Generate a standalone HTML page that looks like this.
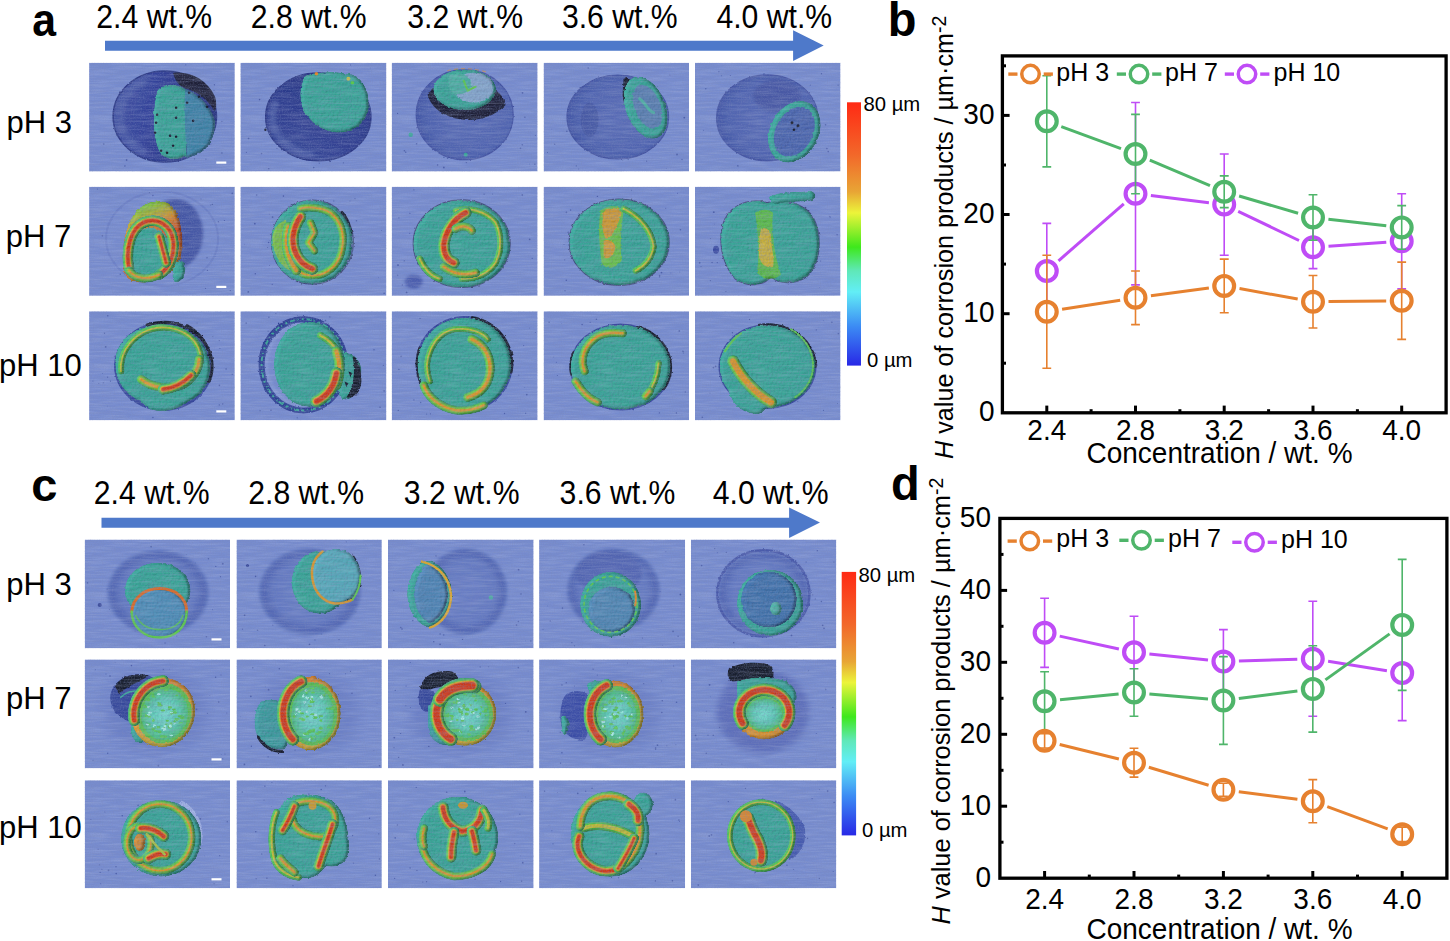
<!DOCTYPE html><html><head><meta charset="utf-8"><style>html,body{margin:0;padding:0;background:#fff;width:1450px;height:941px;overflow:hidden}svg{display:block}</style></head><body>
<svg width="1450" height="941" viewBox="0 0 1450 941" font-family='"Liberation Sans", sans-serif'>
<defs>

<filter id="tex" x="0" y="0" width="100%" height="100%"><feTurbulence type="fractalNoise" baseFrequency="0.05 0.6" numOctaves="2" seed="3"/><feColorMatrix type="matrix" values="0 0 0 0 0.22  0 0 0 0 0.27  0 0 0 0 0.5  0 0 0 1.6 -0.62"/></filter>
<filter id="texl" x="0" y="0" width="100%" height="100%"><feTurbulence type="fractalNoise" baseFrequency="0.04 0.5" numOctaves="2" seed="11"/><feColorMatrix type="matrix" values="0 0 0 0 0.75  0 0 0 0 0.8  0 0 0 0 0.95  0 0 0 1.6 -0.62"/></filter>
<filter id="grain" x="0" y="0" width="100%" height="100%"><feTurbulence type="fractalNoise" baseFrequency="0.9 0.7" numOctaves="1" seed="21"/><feColorMatrix type="matrix" values="0 0 0 0 0.2  0 0 0 0 0.25  0 0 0 0 0.5  0 0 0 2.2 -1.0"/></filter>
<filter id="rough" filterUnits="userSpaceOnUse" x="-5" y="-5" width="160" height="120"><feTurbulence type="fractalNoise" baseFrequency="0.3" numOctaves="2" seed="5" result="t"/><feDisplacementMap in="SourceGraphic" in2="t" scale="2.6" xChannelSelector="R" yChannelSelector="G"/></filter>
<filter id="crs" filterUnits="userSpaceOnUse" x="-5" y="-5" width="160" height="120"><feTurbulence type="fractalNoise" baseFrequency="0.25" numOctaves="2" seed="9" result="t"/><feDisplacementMap in="SourceGraphic" in2="t" scale="2" xChannelSelector="R" yChannelSelector="G" result="d"/><feGaussianBlur in="d" stdDeviation="0.7"/></filter>
<filter id="bump" filterUnits="userSpaceOnUse" x="-5" y="-5" width="160" height="120">
  <feTurbulence type="fractalNoise" baseFrequency="0.45" numOctaves="2" seed="7" result="noise"/>
  <feDiffuseLighting in="noise" lighting-color="#fff" surfaceScale="1.6" diffuseConstant="1" result="light"><feDistantLight azimuth="225" elevation="60"/></feDiffuseLighting>
  <feComposite in="SourceGraphic" in2="light" operator="arithmetic" k1="0.45" k2="0.6" k3="0" k4="0" result="lit"/>
  <feComposite in="lit" in2="SourceAlpha" operator="in"/>
</filter>
<filter id="emb" filterUnits="userSpaceOnUse" x="-5" y="-5" width="160" height="120">
  <feGaussianBlur in="SourceAlpha" stdDeviation="1.5" result="b"/>
  <feDiffuseLighting in="b" surfaceScale="4" diffuseConstant="1.05" lighting-color="#fff" result="l"><feDistantLight azimuth="200" elevation="50"/></feDiffuseLighting>
  <feComposite in="SourceGraphic" in2="l" operator="arithmetic" k1="0.75" k2="0.38" k3="0" k4="0" result="c"/>
  <feComposite in="c" in2="SourceAlpha" operator="in"/>
</filter>
<filter id="soft" filterUnits="userSpaceOnUse" x="-5" y="-5" width="160" height="120"><feGaussianBlur stdDeviation="1.6"/></filter>
<filter id="soft2" filterUnits="userSpaceOnUse" x="-5" y="-5" width="160" height="120"><feGaussianBlur stdDeviation="3"/></filter>
<linearGradient id="gcrA" x1="0" y1="0" x2="1" y2="0.2"><stop offset="0" stop-color="#4a5aa6"/><stop offset="0.4" stop-color="#33429a"/><stop offset="1" stop-color="#25317c"/></linearGradient>
<linearGradient id="gcrA2" x1="0" y1="1" x2="0.6" y2="0"><stop offset="0" stop-color="#3c4c9c"/><stop offset="0.6" stop-color="#2e3d8e"/><stop offset="1" stop-color="#25317e"/></linearGradient>
<radialGradient id="gcrB" cx="0.55" cy="0.5" r="0.6"><stop offset="0" stop-color="#5a6db7"/><stop offset="0.7" stop-color="#5064b0"/><stop offset="0.9" stop-color="#4357a6"/><stop offset="1" stop-color="#384a9a"/></radialGradient>
<radialGradient id="gcrC" cx="0.5" cy="0.5" r="0.5"><stop offset="0" stop-color="#697ec5"/><stop offset="0.7" stop-color="#6479c1"/><stop offset="0.88" stop-color="#5166b3"/><stop offset="0.96" stop-color="#5b71bb"/><stop offset="1" stop-color="#6a82c8" stop-opacity="0"/></radialGradient>
<radialGradient id="gcy" cx="0.5" cy="0.5" r="0.5"><stop offset="0" stop-color="#7adcd0"/><stop offset="0.6" stop-color="#5ccab4"/><stop offset="1" stop-color="#4cbc7c"/></radialGradient>
<radialGradient id="gteal" cx="0.45" cy="0.45" r="0.6"><stop offset="0" stop-color="#44a898"/><stop offset="1" stop-color="#3a9a92"/></radialGradient>
<linearGradient id="gegg" x1="0.3" y1="0" x2="0.6" y2="1"><stop offset="0" stop-color="#5cc840"/><stop offset="0.18" stop-color="#a8b438"/><stop offset="0.32" stop-color="#d88a2c"/><stop offset="0.5" stop-color="#cc4a1e"/><stop offset="0.8" stop-color="#d87a2a"/><stop offset="1" stop-color="#8cc040"/></linearGradient>
<linearGradient id="gring" x1="0" y1="0" x2="1" y2="1"><stop offset="0" stop-color="#d86a28"/><stop offset="0.5" stop-color="#d89a30"/><stop offset="1" stop-color="#b8b838"/></linearGradient>
<radialGradient id="halo" cx="0.5" cy="0.5" r="0.5"><stop offset="0" stop-color="#3d50a6" stop-opacity="0.35"/><stop offset="0.7" stop-color="#3d50a6" stop-opacity="0.18"/><stop offset="1" stop-color="#3d50a6" stop-opacity="0"/></radialGradient>

<linearGradient id="cb" x1="0" y1="0" x2="0" y2="1">
<stop offset="0" stop-color="#ff2a14"/><stop offset="0.2" stop-color="#f2682a"/><stop offset="0.34" stop-color="#e8a535"/>
<stop offset="0.42" stop-color="#ecf43a"/><stop offset="0.55" stop-color="#3ee81c"/><stop offset="0.64" stop-color="#5fe8b8"/>
<stop offset="0.72" stop-color="#62eef6"/><stop offset="0.85" stop-color="#3c8cf4"/><stop offset="1" stop-color="#2828e6"/>
</linearGradient>
</defs>
<rect width="1450" height="941" fill="#fff"/>
<text transform="translate(32.20 35.50) scale(0.91 1)" font-size="47" font-weight="bold">a</text>
<text transform="translate(887.70 35.50) scale(1 1.03)" font-size="47" font-weight="bold">b</text>
<text x="31.3" y="500.5" font-size="47" font-weight="bold">c</text>
<text transform="translate(891.00 500.00) scale(1 1.03)" font-size="47" font-weight="bold">d</text>
<text transform="translate(96.30 27.50) scale(1 1.09)" font-size="30.2" >2.4 wt.%</text>
<text transform="translate(250.80 27.50) scale(1 1.09)" font-size="30.2" >2.8 wt.%</text>
<text transform="translate(407.20 27.50) scale(1 1.09)" font-size="30.2" >3.2 wt.%</text>
<text transform="translate(561.90 27.50) scale(1 1.09)" font-size="30.2" >3.6 wt.%</text>
<text transform="translate(716.40 27.50) scale(1 1.09)" font-size="30.2" >4.0 wt.%</text>
<text transform="translate(93.80 503.60) scale(1 1.09)" font-size="30.2" >2.4 wt.%</text>
<text transform="translate(248.20 503.60) scale(1 1.09)" font-size="30.2" >2.8 wt.%</text>
<text transform="translate(403.70 503.60) scale(1 1.09)" font-size="30.2" >3.2 wt.%</text>
<text transform="translate(559.60 503.60) scale(1 1.09)" font-size="30.2" >3.6 wt.%</text>
<text transform="translate(712.70 503.60) scale(1 1.09)" font-size="30.2" >4.0 wt.%</text>
<text x="6.50" y="132.80" font-size="31" >pH 3</text>
<text x="5.70" y="246.70" font-size="31" >pH 7</text>
<text x="-1.10" y="375.80" font-size="31" >pH 10</text>
<text x="6.20" y="594.70" font-size="31" >pH 3</text>
<text x="5.90" y="708.50" font-size="31" >pH 7</text>
<text x="-1.10" y="837.70" font-size="31" >pH 10</text>
<path d="M105.0 40.7H793.1V30.3L823.7 45.5L793.1 61.0V50.8H105.0Z" fill="#4e79ca"/>
<path d="M101.5 517.8H789.1V507.5L820.0 522.4L789.1 537.9V527.7H101.5Z" fill="#4e79ca"/>
<svg x="89.1" y="62.7" width="145.7" height="108.8" viewBox="0 0 145.7 108.8">
<rect width="145.7" height="108.8" fill="#778ccf"/>
<g fill="#2a3a8a" opacity="0.55"><circle cx="121.7" cy="81.4" r="0.6"/><circle cx="38.7" cy="55.6" r="0.6"/><circle cx="113.1" cy="33.8" r="0.6"/><circle cx="84.7" cy="97.2" r="0.7"/><circle cx="41.9" cy="81.2" r="0.7"/><circle cx="37.5" cy="97.3" r="0.9"/><circle cx="116.8" cy="96.5" r="0.6"/><circle cx="105.4" cy="96.2" r="0.7"/><circle cx="68.9" cy="12.6" r="0.6"/><circle cx="88.6" cy="97.7" r="0.9"/><circle cx="69.6" cy="92.7" r="0.5"/><circle cx="116.1" cy="59.5" r="0.4"/><circle cx="104.0" cy="43.8" r="0.8"/><circle cx="96.7" cy="2.1" r="0.6"/><circle cx="124.9" cy="27.6" r="0.6"/><circle cx="125.3" cy="22.0" r="0.7"/><circle cx="35.8" cy="103.4" r="0.8"/><circle cx="65.5" cy="10.4" r="0.6"/><circle cx="74.0" cy="99.8" r="0.5"/><circle cx="80.1" cy="76.0" r="0.7"/><circle cx="117.4" cy="58.6" r="0.9"/><circle cx="87.5" cy="63.6" r="0.6"/><circle cx="86.5" cy="42.3" r="0.7"/><circle cx="43.1" cy="21.8" r="0.5"/><circle cx="88.8" cy="70.8" r="0.6"/><circle cx="14.7" cy="81.4" r="0.8"/><circle cx="132.8" cy="90.3" r="0.8"/><circle cx="132.8" cy="58.7" r="0.6"/></g>
<g filter="url(#crs)"><ellipse cx="75.7" cy="53.8" rx="51.7" ry="45.6" fill="url(#gcrA)" stroke="#2a3784" stroke-width="1.5"/></g>
<g filter="url(#soft)"><path d="M53.2 88.4 L49.9 86.6 L46.8 84.4 L43.9 82.1 L41.2 79.5 L38.8 76.7 L36.7 73.8 L34.9 70.7 L33.4 67.5 L32.2 64.2 L31.4 60.7 L30.9 57.3 L30.7 53.8 L30.9 50.3 L31.4 46.9 L32.2 43.4 L33.4 40.1 L34.9 36.9 L36.7 33.8 L38.8 30.9 L41.2 28.1 L43.9 25.5 L46.8 23.2 L49.9 21.0 L53.2 19.2" fill="none" stroke="#5060aa" stroke-width="8" stroke-linecap="round" stroke-linejoin="round" opacity="0.7"/></g>
<g filter="url(#crs)"><path d="M84 10 C100 8 118 16 126 34 C128 42 127 48 125 48 C120 38 110 30 98 26 C90 24 86 18 84 10Z" fill="#1c1f30" opacity="0.92"/></g>
<g filter="url(#emb)"><g filter="url(#bump)"><g filter="url(#rough)"><path d="M68 28 C74 20 86 20 96 26 C98 40 96 66 98 94 C88 98 78 97 72 92 C64 80 62 52 68 28Z" fill="#38a696" /><path d="M96 26 C108 30 122 42 126 58 C127 76 118 92 98 95 C96 75 95 50 96 26Z" fill="#3c84a6" /></g></g></g>
<circle cx="87" cy="45" r="1.3" fill="#161a2a"/>
<circle cx="87" cy="55" r="1.3" fill="#161a2a"/>
<circle cx="81" cy="73" r="1.3" fill="#161a2a"/>
<circle cx="87" cy="74" r="1.3" fill="#161a2a"/>
<circle cx="84" cy="83" r="1.3" fill="#161a2a"/>
<circle cx="98" cy="40" r="1.3" fill="#161a2a"/>
<circle cx="104" cy="58" r="1.3" fill="#161a2a"/>
<circle cx="67" cy="60" r="1.3" fill="#161a2a"/>
<circle cx="66" cy="70" r="1.3" fill="#161a2a"/>
<circle cx="68" cy="52" r="1.3" fill="#161a2a"/>
<circle cx="72" cy="88" r="1.3" fill="#161a2a"/>
<circle cx="78" cy="90" r="1.3" fill="#161a2a"/>
<circle cx="92" cy="22" r="1.3" fill="#161a2a"/>
<circle cx="100" cy="30" r="1.3" fill="#161a2a"/>
<circle cx="110" cy="34" r="1.3" fill="#161a2a"/>
<circle cx="118" cy="44" r="1.3" fill="#161a2a"/>
<rect width="145.7" height="108.8" filter="url(#tex)" opacity="0.32"/>
<rect width="145.7" height="108.8" filter="url(#texl)" opacity="0.22"/>
<rect width="145.7" height="108.8" filter="url(#grain)" opacity="0.45"/>
<rect x="127.2" y="98.8" width="10" height="2.2" fill="#fff"/>
</svg>
<svg x="240.4" y="62.7" width="146.0" height="108.8" viewBox="0 0 146.0 108.8">
<rect width="146.0" height="108.8" fill="#778ccf"/>
<g fill="#2a3a8a" opacity="0.55"><circle cx="21.1" cy="90.8" r="0.8"/><circle cx="38.2" cy="53.9" r="0.6"/><circle cx="94.5" cy="84.7" r="0.4"/><circle cx="6.0" cy="89.6" r="0.6"/><circle cx="110.2" cy="2.2" r="0.6"/><circle cx="104.5" cy="26.0" r="0.9"/><circle cx="130.0" cy="5.2" r="0.4"/><circle cx="78.9" cy="100.4" r="0.6"/><circle cx="32.8" cy="46.2" r="0.4"/><circle cx="33.5" cy="47.9" r="0.6"/><circle cx="35.1" cy="26.2" r="0.5"/><circle cx="67.3" cy="32.4" r="0.4"/><circle cx="120.9" cy="60.3" r="0.7"/><circle cx="28.4" cy="106.0" r="0.8"/><circle cx="19.2" cy="36.9" r="0.8"/><circle cx="103.0" cy="100.1" r="0.6"/><circle cx="119.9" cy="72.2" r="0.6"/><circle cx="85.4" cy="94.5" r="0.8"/><circle cx="73.8" cy="63.7" r="0.4"/><circle cx="36.5" cy="85.6" r="0.6"/><circle cx="26.6" cy="59.5" r="0.8"/><circle cx="97.8" cy="41.3" r="0.6"/><circle cx="74.2" cy="83.6" r="0.7"/><circle cx="57.8" cy="53.3" r="0.4"/><circle cx="8.2" cy="75.7" r="0.9"/><circle cx="86.2" cy="43.2" r="0.5"/><circle cx="73.3" cy="104.9" r="0.8"/><circle cx="78.6" cy="92.2" r="0.5"/></g>
<g filter="url(#crs)"><ellipse cx="77.9" cy="54.2" rx="52.6" ry="43.8" fill="url(#gcrA2)" stroke="#2a3784" stroke-width="1.5"/></g>
<g filter="url(#soft)"><path d="M69.9 91.6 L66.6 91.0 L63.4 90.3 L60.3 89.3 L57.3 88.2 L54.3 86.8 L51.5 85.3 L48.8 83.7 L46.3 81.8 L44.0 79.9 L41.8 77.8 L39.8 75.5 L38.1 73.2 L36.5 70.8 L35.2 68.2 L34.0 65.6 L33.1 63.0 L32.5 60.3 L32.1 57.5 L31.9 54.8 L32.0 52.0 L32.3 49.2 L32.9 46.5 L33.6 43.8 L34.7 41.2" fill="none" stroke="#4e5ea8" stroke-width="7" stroke-linecap="round" stroke-linejoin="round" opacity="0.8"/></g>
<g filter="url(#emb)"><g filter="url(#bump)"><g filter="url(#rough)"><path d="M64 13 C80 8 104 8 117 14 C126 22 130 34 128 48 C124 62 112 71 96 70 C82 69 70 60 63 48 C58 36 59 24 64 13Z" fill="#38a696" /></g></g></g>
<circle cx="76" cy="11" r="1.8" fill="#e0862a"/><circle cx="108" cy="16" r="2" fill="#c8be38"/><circle cx="112" cy="20" r="1.8" fill="#5cc84a"/>
<circle cx="25" cy="67" r="1.2" fill="#161a2a"/>
<rect width="146.0" height="108.8" filter="url(#tex)" opacity="0.32"/>
<rect width="146.0" height="108.8" filter="url(#texl)" opacity="0.22"/>
<rect width="146.0" height="108.8" filter="url(#grain)" opacity="0.45"/>
</svg>
<svg x="391.7" y="62.7" width="145.9" height="108.8" viewBox="0 0 145.9 108.8">
<rect width="145.9" height="108.8" fill="#778ccf"/>
<g fill="#2a3a8a" opacity="0.55"><circle cx="137.7" cy="101.3" r="0.4"/><circle cx="14.0" cy="89.6" r="0.8"/><circle cx="97.0" cy="34.3" r="0.7"/><circle cx="88.1" cy="62.9" r="0.5"/><circle cx="63.1" cy="43.2" r="0.8"/><circle cx="143.2" cy="101.5" r="0.7"/><circle cx="65.1" cy="30.1" r="0.4"/><circle cx="5.9" cy="50.7" r="0.6"/><circle cx="55.9" cy="95.5" r="0.7"/><circle cx="81.5" cy="26.7" r="0.4"/><circle cx="48.1" cy="16.3" r="0.7"/><circle cx="143.7" cy="72.7" r="0.5"/><circle cx="128.8" cy="85.5" r="0.8"/><circle cx="130.6" cy="82.0" r="0.8"/><circle cx="52.2" cy="104.8" r="0.9"/><circle cx="24.9" cy="81.0" r="0.8"/><circle cx="67.5" cy="57.6" r="0.6"/><circle cx="133.2" cy="54.5" r="0.8"/><circle cx="52.2" cy="94.5" r="0.8"/><circle cx="67.4" cy="61.5" r="0.9"/><circle cx="104.7" cy="53.0" r="0.5"/><circle cx="48.1" cy="75.3" r="0.5"/><circle cx="130.8" cy="30.1" r="0.9"/><circle cx="45.9" cy="102.3" r="0.8"/><circle cx="73.6" cy="56.3" r="0.7"/><circle cx="85.4" cy="34.7" r="0.5"/><circle cx="74.6" cy="99.9" r="0.7"/><circle cx="12.7" cy="88.0" r="0.8"/></g>
<g filter="url(#crs)"><ellipse cx="73" cy="52" rx="48.5" ry="45" fill="url(#gcrB)" stroke="#4050a0" stroke-width="1.2"/></g>
<g filter="url(#rough)"><path d="M36 32 C42 58 90 68 114 42 C110 30 104 22 72 20 C50 22 38 24 36 32Z" fill="#161a2a" opacity="0.9"/></g>
<g filter="url(#emb)"><g filter="url(#bump)"><g filter="url(#rough)"><ellipse cx="73" cy="27" rx="31.5" ry="20.5" fill="#38a696" /><ellipse cx="82" cy="25" rx="20" ry="15" fill="#86a8cc" /><path d="M58 12 C68 8 78 12 80 22 C78 30 68 34 60 30 C56 24 56 16 58 12Z" fill="#4cb0a0" /></g></g></g>
<path d="M72 18 L76 28 L84 24" fill="none" stroke="#5cc84a" stroke-width="2" stroke-linecap="round" stroke-linejoin="round" />
<path d="M56 8 C66 5 84 5 96 10" fill="none" stroke="#e0862a" stroke-width="1.2" stroke-linecap="round" stroke-linejoin="round" opacity="0.6" stroke-dasharray="3 4"/>
<circle cx="19" cy="72" r="2.2" fill="#38a696"/><circle cx="74" cy="92" r="2" fill="#38a696"/>
<rect width="145.9" height="108.8" filter="url(#tex)" opacity="0.32"/>
<rect width="145.9" height="108.8" filter="url(#texl)" opacity="0.22"/>
<rect width="145.9" height="108.8" filter="url(#grain)" opacity="0.45"/>
</svg>
<svg x="543.6" y="62.7" width="145.4" height="108.8" viewBox="0 0 145.4 108.8">
<rect width="145.4" height="108.8" fill="#778ccf"/>
<g fill="#2a3a8a" opacity="0.55"><circle cx="35.6" cy="59.0" r="0.6"/><circle cx="87.4" cy="67.6" r="0.4"/><circle cx="3.9" cy="89.8" r="0.5"/><circle cx="35.1" cy="106.3" r="0.6"/><circle cx="120.3" cy="51.9" r="0.7"/><circle cx="23.3" cy="68.5" r="0.8"/><circle cx="76.0" cy="79.7" r="0.7"/><circle cx="11.1" cy="81.5" r="0.7"/><circle cx="44.6" cy="5.3" r="0.8"/><circle cx="68.8" cy="77.3" r="0.8"/><circle cx="103.0" cy="98.5" r="0.6"/><circle cx="115.2" cy="48.6" r="0.9"/><circle cx="126.3" cy="12.2" r="0.5"/><circle cx="32.7" cy="103.2" r="0.6"/><circle cx="90.6" cy="33.5" r="0.7"/><circle cx="56.6" cy="38.8" r="0.7"/><circle cx="84.6" cy="96.8" r="0.7"/><circle cx="133.4" cy="91.8" r="0.9"/><circle cx="96.9" cy="19.1" r="0.8"/><circle cx="138.4" cy="96.8" r="0.7"/><circle cx="102.9" cy="24.1" r="0.8"/><circle cx="83.1" cy="31.9" r="0.4"/><circle cx="122.7" cy="105.7" r="0.4"/><circle cx="115.2" cy="45.0" r="0.5"/><circle cx="43.6" cy="82.6" r="0.8"/><circle cx="8.2" cy="66.4" r="0.4"/><circle cx="103.6" cy="36.7" r="0.8"/><circle cx="140.7" cy="55.0" r="0.9"/></g>
<g filter="url(#crs)"><ellipse cx="74.2" cy="54.3" rx="50.8" ry="42" fill="url(#gcrB)" stroke="#3f4f9e" stroke-width="1.2"/></g>
<ellipse cx="46" cy="57" rx="9" ry="17" fill="#45559f" opacity="0.7"/>
<g filter="url(#rough)"><path d="M80 16 C84 14 88 16 88 22 C86 34 88 48 92 58 C86 56 80 44 79 32Z" fill="#161a2a" /></g>
<g filter="url(#emb)"><g filter="url(#bump)"><g filter="url(#rough)"><ellipse cx="102" cy="45" rx="20" ry="32.5" transform="rotate(-22 102 45)" fill="#38a696"/><ellipse cx="104" cy="44" rx="13" ry="23" transform="rotate(-22 104 44)" fill="#5a80b0"/></g></g></g>
<path d="M96 36 C102 40 104 48 110 50" fill="none" stroke="#4cb0a0" stroke-width="3" stroke-linecap="round" stroke-linejoin="round" />
<rect width="145.4" height="108.8" filter="url(#tex)" opacity="0.32"/>
<rect width="145.4" height="108.8" filter="url(#texl)" opacity="0.22"/>
<rect width="145.4" height="108.8" filter="url(#grain)" opacity="0.45"/>
</svg>
<svg x="695.0" y="62.7" width="145.5" height="108.8" viewBox="0 0 145.5 108.8">
<rect width="145.5" height="108.8" fill="#778ccf"/>
<g fill="#2a3a8a" opacity="0.55"><circle cx="35.4" cy="12.8" r="0.6"/><circle cx="23.9" cy="9.0" r="0.6"/><circle cx="131.9" cy="85.9" r="0.8"/><circle cx="33.4" cy="58.2" r="0.5"/><circle cx="26.4" cy="13.1" r="0.5"/><circle cx="133.2" cy="88.9" r="0.8"/><circle cx="115.3" cy="22.3" r="0.6"/><circle cx="90.7" cy="78.7" r="0.8"/><circle cx="126.5" cy="11.1" r="0.7"/><circle cx="97.0" cy="55.0" r="0.5"/><circle cx="69.0" cy="11.4" r="0.9"/><circle cx="124.5" cy="59.4" r="0.6"/><circle cx="130.6" cy="62.0" r="0.8"/><circle cx="122.0" cy="55.3" r="0.6"/><circle cx="86.7" cy="47.2" r="0.5"/><circle cx="45.2" cy="87.2" r="0.4"/><circle cx="8.6" cy="67.6" r="0.5"/><circle cx="77.6" cy="51.4" r="0.6"/><circle cx="143.1" cy="22.5" r="0.6"/><circle cx="30.7" cy="68.3" r="0.5"/><circle cx="52.4" cy="80.3" r="0.6"/><circle cx="81.0" cy="96.8" r="0.5"/><circle cx="10.7" cy="26.0" r="0.8"/><circle cx="89.1" cy="26.9" r="0.6"/><circle cx="27.1" cy="50.1" r="0.4"/><circle cx="100.7" cy="95.9" r="0.9"/><circle cx="106.0" cy="102.6" r="0.4"/><circle cx="42.9" cy="103.2" r="0.8"/></g>
<g filter="url(#crs)"><ellipse cx="72.2" cy="55.2" rx="50.6" ry="43" fill="url(#gcrB)" stroke="#4454a2" stroke-width="1.2"/></g>
<g filter="url(#soft)"><ellipse cx="82" cy="33" rx="24" ry="16" fill="#4454a0" opacity="0.8"/></g>
<g filter="url(#emb)"><g filter="url(#bump)"><g filter="url(#rough)"><ellipse cx="99.3" cy="69" rx="21.5" ry="29.5" transform="rotate(28 99.3 69)" fill="#4c66ae" stroke="#38a696" stroke-width="6"/></g></g></g>
<circle cx="97" cy="60" r="1.5" fill="#161a2a"/><circle cx="103" cy="63" r="1.5" fill="#161a2a"/><circle cx="99" cy="67" r="1.3" fill="#161a2a"/>
<rect width="145.5" height="108.8" filter="url(#tex)" opacity="0.32"/>
<rect width="145.5" height="108.8" filter="url(#texl)" opacity="0.22"/>
<rect width="145.5" height="108.8" filter="url(#grain)" opacity="0.45"/>
</svg>
<svg x="89.1" y="186.7" width="145.7" height="109.1" viewBox="0 0 145.7 109.1">
<rect width="145.7" height="109.1" fill="#778ccf"/>
<g fill="#2a3a8a" opacity="0.55"><circle cx="83.0" cy="47.1" r="0.7"/><circle cx="31.2" cy="87.5" r="0.8"/><circle cx="94.6" cy="18.8" r="0.7"/><circle cx="48.4" cy="28.3" r="0.9"/><circle cx="143.2" cy="6.7" r="0.8"/><circle cx="87.5" cy="42.1" r="0.5"/><circle cx="97.6" cy="50.0" r="0.7"/><circle cx="95.8" cy="16.0" r="0.8"/><circle cx="141.2" cy="103.9" r="0.7"/><circle cx="8.3" cy="2.4" r="0.5"/><circle cx="135.3" cy="33.8" r="0.6"/><circle cx="129.3" cy="35.0" r="0.7"/><circle cx="63.8" cy="8.8" r="0.7"/><circle cx="121.6" cy="18.4" r="0.5"/><circle cx="60.5" cy="5.9" r="0.6"/><circle cx="117.9" cy="71.1" r="0.7"/><circle cx="123.2" cy="17.7" r="0.7"/><circle cx="55.0" cy="65.2" r="0.5"/><circle cx="111.9" cy="12.2" r="0.5"/><circle cx="116.4" cy="101.6" r="0.6"/><circle cx="60.7" cy="27.8" r="0.5"/><circle cx="89.5" cy="20.8" r="0.5"/><circle cx="66.6" cy="19.3" r="0.7"/><circle cx="118.3" cy="83.7" r="0.6"/><circle cx="51.3" cy="47.7" r="0.4"/><circle cx="103.0" cy="36.9" r="0.6"/><circle cx="13.3" cy="49.1" r="0.7"/><circle cx="57.3" cy="93.4" r="0.7"/></g>
<g filter="url(#crs)"><ellipse cx="73" cy="52" rx="56" ry="47" fill="none" stroke="#5468b4" stroke-width="2" opacity="0.3"/></g>
<g filter="url(#soft)"><ellipse cx="86" cy="47" rx="28" ry="35" fill="#3f50a0" opacity="0.9"/></g>
<g filter="url(#emb)"><g filter="url(#bump)"><g filter="url(#rough)"><path d="M34 82 C32 60 36 38 46 26 C54 16 66 13 76 15 C86 18 91 30 93 46 C95 62 92 76 84 84 C76 92 64 96 52 96 C40 95 35 90 34 82Z" fill="url(#gegg)" /><ellipse cx="60" cy="66" rx="21" ry="25" fill="#38a696" transform="rotate(8 60 66)"/><path d="M34 75 C36 88 46 96 58 96 C48 92 40 86 34 75Z" fill="#5cc84a" /></g></g></g>
<g filter="url(#emb)"><g filter="url(#bump)"><path d="M40 82 C36 62 42 42 54 36 C68 30 82 38 84 54 C86 68 80 82 70 88" fill="none" stroke="#48b47c" stroke-width="11.3" stroke-linecap="round" stroke-linejoin="round"/><path d="M40 82 C36 62 42 42 54 36 C68 30 82 38 84 54 C86 68 80 82 70 88" fill="none" stroke="#5cc64c" stroke-width="8.8" stroke-linecap="round" stroke-linejoin="round"/><path d="M40 82 C36 62 42 42 54 36 C68 30 82 38 84 54 C86 68 80 82 70 88" fill="none" stroke="#c0b038" stroke-width="6.2" stroke-linecap="round" stroke-linejoin="round"/><path d="M40 82 C36 62 42 42 54 36 C68 30 82 38 84 54 C86 68 80 82 70 88" fill="none" stroke="#e07a2a" stroke-width="4.6" stroke-linecap="round" stroke-linejoin="round"/><path d="M40 82 C36 62 42 42 54 36 C68 30 82 38 84 54 C86 68 80 82 70 88" fill="none" stroke="#d03a1c" stroke-width="3" stroke-linecap="round" stroke-linejoin="round"/></g></g>
<g filter="url(#emb)"><g filter="url(#bump)"><path d="M40 84 C46 92 58 94 70 88" fill="none" stroke="#48b47c" stroke-width="8.9" stroke-linecap="round" stroke-linejoin="round"/><path d="M40 84 C46 92 58 94 70 88" fill="none" stroke="#5cc64c" stroke-width="6.8" stroke-linecap="round" stroke-linejoin="round"/><path d="M40 84 C46 92 58 94 70 88" fill="none" stroke="#80c040" stroke-width="4.8" stroke-linecap="round" stroke-linejoin="round"/><path d="M40 84 C46 92 58 94 70 88" fill="none" stroke="#dc962c" stroke-width="2.2" stroke-linecap="round" stroke-linejoin="round"/></g></g>
<g filter="url(#emb)"><g filter="url(#bump)"><path d="M70 50 L77 76" fill="none" stroke="#48b47c" stroke-width="10.5" stroke-linecap="round" stroke-linejoin="round"/><path d="M70 50 L77 76" fill="none" stroke="#5cc64c" stroke-width="8" stroke-linecap="round" stroke-linejoin="round"/><path d="M70 50 L77 76" fill="none" stroke="#c0b038" stroke-width="5.4" stroke-linecap="round" stroke-linejoin="round"/><path d="M70 50 L77 76" fill="none" stroke="#e07a2a" stroke-width="3.8" stroke-linecap="round" stroke-linejoin="round"/><path d="M70 50 L77 76" fill="none" stroke="#d03a1c" stroke-width="2.2" stroke-linecap="round" stroke-linejoin="round"/></g></g>
<g filter="url(#emb)"><g filter="url(#bump)"><g filter="url(#rough)"><path d="M88 74 C94 72 98 78 96 86 C94 94 88 98 84 94 C82 88 84 78 88 74Z" fill="#38a696" /></g></g></g>
<rect width="145.7" height="109.1" filter="url(#tex)" opacity="0.32"/>
<rect width="145.7" height="109.1" filter="url(#texl)" opacity="0.22"/>
<rect width="145.7" height="109.1" filter="url(#grain)" opacity="0.45"/>
<rect x="127.2" y="99.1" width="10" height="2.2" fill="#fff"/>
</svg>
<svg x="240.4" y="186.7" width="146.0" height="109.1" viewBox="0 0 146.0 109.1">
<rect width="146.0" height="109.1" fill="#778ccf"/>
<g fill="#2a3a8a" opacity="0.55"><circle cx="66.2" cy="60.8" r="0.9"/><circle cx="68.1" cy="55.4" r="0.7"/><circle cx="28.2" cy="55.8" r="0.7"/><circle cx="114.6" cy="11.9" r="0.6"/><circle cx="14.9" cy="87.1" r="0.7"/><circle cx="7.9" cy="105.2" r="0.9"/><circle cx="94.9" cy="66.7" r="0.5"/><circle cx="4.1" cy="57.5" r="0.4"/><circle cx="29.0" cy="27.4" r="0.4"/><circle cx="67.9" cy="48.3" r="0.8"/><circle cx="75.7" cy="69.3" r="0.6"/><circle cx="96.1" cy="50.1" r="0.5"/><circle cx="143.7" cy="106.6" r="0.8"/><circle cx="102.5" cy="35.1" r="0.5"/><circle cx="43.0" cy="9.4" r="0.8"/><circle cx="58.9" cy="91.0" r="0.6"/><circle cx="138.0" cy="91.1" r="0.4"/><circle cx="31.8" cy="97.7" r="0.6"/><circle cx="141.2" cy="43.8" r="0.4"/><circle cx="91.4" cy="83.8" r="0.5"/><circle cx="14.4" cy="37.0" r="0.9"/><circle cx="109.6" cy="14.4" r="0.5"/><circle cx="16.3" cy="8.3" r="0.8"/><circle cx="27.2" cy="60.8" r="0.6"/><circle cx="29.1" cy="78.9" r="0.5"/><circle cx="93.4" cy="14.2" r="0.6"/><circle cx="32.2" cy="30.4" r="0.9"/><circle cx="116.1" cy="34.0" r="0.8"/></g>
<g filter="url(#rough)"><ellipse cx="72" cy="55.4" rx="41" ry="42" fill="none" stroke="#1a2040" stroke-width="1.2" opacity="0.6"/></g>
<g filter="url(#emb)"><g filter="url(#bump)"><g filter="url(#rough)"><ellipse cx="71.5" cy="55.4" rx="41" ry="42" fill="#38a696" /><path d="M32 50 C34 40 40 34 46 34 C44 50 44 66 50 84 C40 80 32 66 32 50Z" fill="#7cc048" /></g></g></g>
<g filter="url(#emb)"><g filter="url(#bump)"><path d="M60 22 C66 20 80 20 90 26 C100 34 104 46 102 60 C100 74 92 84 80 88 C70 90 62 88 58 84" fill="none" stroke="#48b47c" stroke-width="8.5" stroke-linecap="round" stroke-linejoin="round"/><path d="M60 22 C66 20 80 20 90 26 C100 34 104 46 102 60 C100 74 92 84 80 88 C70 90 62 88 58 84" fill="none" stroke="#5cc64c" stroke-width="6.4" stroke-linecap="round" stroke-linejoin="round"/><path d="M60 22 C66 20 80 20 90 26 C100 34 104 46 102 60 C100 74 92 84 80 88 C70 90 62 88 58 84" fill="none" stroke="#80c040" stroke-width="4.4" stroke-linecap="round" stroke-linejoin="round"/><path d="M60 22 C66 20 80 20 90 26 C100 34 104 46 102 60 C100 74 92 84 80 88 C70 90 62 88 58 84" fill="none" stroke="#dc962c" stroke-width="1.8" stroke-linecap="round" stroke-linejoin="round"/></g></g>
<g filter="url(#emb)"><g filter="url(#bump)"><path d="M48 40 C44 55 46 70 56 84" fill="none" stroke="#48b47c" stroke-width="10.2" stroke-linecap="round" stroke-linejoin="round"/><path d="M48 40 C44 55 46 70 56 84" fill="none" stroke="#5cc64c" stroke-width="8.1" stroke-linecap="round" stroke-linejoin="round"/><path d="M48 40 C44 55 46 70 56 84" fill="none" stroke="#80c040" stroke-width="6.1" stroke-linecap="round" stroke-linejoin="round"/><path d="M48 40 C44 55 46 70 56 84" fill="none" stroke="#dc962c" stroke-width="3.5" stroke-linecap="round" stroke-linejoin="round"/></g></g>
<g filter="url(#emb)"><g filter="url(#bump)"><path d="M60 30 C52 42 50 56 56 68 C60 76 66 80 72 82" fill="none" stroke="#48b47c" stroke-width="12.5" stroke-linecap="round" stroke-linejoin="round"/><path d="M60 30 C52 42 50 56 56 68 C60 76 66 80 72 82" fill="none" stroke="#5cc64c" stroke-width="10" stroke-linecap="round" stroke-linejoin="round"/><path d="M60 30 C52 42 50 56 56 68 C60 76 66 80 72 82" fill="none" stroke="#c0b038" stroke-width="7.4" stroke-linecap="round" stroke-linejoin="round"/><path d="M60 30 C52 42 50 56 56 68 C60 76 66 80 72 82" fill="none" stroke="#e07a2a" stroke-width="5.8" stroke-linecap="round" stroke-linejoin="round"/><path d="M60 30 C52 42 50 56 56 68 C60 76 66 80 72 82" fill="none" stroke="#d03a1c" stroke-width="4.2" stroke-linecap="round" stroke-linejoin="round"/></g></g>
<g filter="url(#emb)"><g filter="url(#bump)"><path d="M70 36 L74 46 L68 56 L74 64" fill="none" stroke="#48b47c" stroke-width="8.5" stroke-linecap="round" stroke-linejoin="round"/><path d="M70 36 L74 46 L68 56 L74 64" fill="none" stroke="#5cc64c" stroke-width="6.4" stroke-linecap="round" stroke-linejoin="round"/><path d="M70 36 L74 46 L68 56 L74 64" fill="none" stroke="#80c040" stroke-width="4.4" stroke-linecap="round" stroke-linejoin="round"/><path d="M70 36 L74 46 L68 56 L74 64" fill="none" stroke="#dc962c" stroke-width="1.8" stroke-linecap="round" stroke-linejoin="round"/></g></g>
<g filter="url(#rough)"><path d="M102 24 C108 30 112 40 112 50 C110 40 106 32 100 26Z" fill="#161a2a" /></g>
<rect width="146.0" height="109.1" filter="url(#tex)" opacity="0.32"/>
<rect width="146.0" height="109.1" filter="url(#texl)" opacity="0.22"/>
<rect width="146.0" height="109.1" filter="url(#grain)" opacity="0.45"/>
</svg>
<svg x="391.7" y="186.7" width="145.9" height="109.1" viewBox="0 0 145.9 109.1">
<rect width="145.9" height="109.1" fill="#778ccf"/>
<g fill="#2a3a8a" opacity="0.55"><circle cx="69.3" cy="71.1" r="0.7"/><circle cx="22.2" cy="3.1" r="0.6"/><circle cx="40.9" cy="87.2" r="0.7"/><circle cx="87.3" cy="60.7" r="0.7"/><circle cx="22.6" cy="48.2" r="0.5"/><circle cx="130.6" cy="8.2" r="0.8"/><circle cx="12.6" cy="74.2" r="0.6"/><circle cx="59.4" cy="90.5" r="0.4"/><circle cx="10.6" cy="98.2" r="0.7"/><circle cx="14.9" cy="105.7" r="0.9"/><circle cx="18.0" cy="46.5" r="0.5"/><circle cx="46.3" cy="67.3" r="0.5"/><circle cx="100.9" cy="7.4" r="0.5"/><circle cx="117.7" cy="44.1" r="0.6"/><circle cx="86.6" cy="52.1" r="0.6"/><circle cx="6.3" cy="78.3" r="0.9"/><circle cx="140.5" cy="71.7" r="0.6"/><circle cx="53.5" cy="74.5" r="0.7"/><circle cx="18.2" cy="26.7" r="0.6"/><circle cx="74.6" cy="87.1" r="0.7"/><circle cx="6.0" cy="88.5" r="0.6"/><circle cx="75.6" cy="25.3" r="0.6"/><circle cx="57.1" cy="83.1" r="0.5"/><circle cx="80.0" cy="20.7" r="0.7"/><circle cx="7.2" cy="31.1" r="0.6"/><circle cx="92.4" cy="7.5" r="0.6"/><circle cx="31.6" cy="31.6" r="0.6"/><circle cx="138.0" cy="52.6" r="0.9"/></g>
<g filter="url(#rough)"><ellipse cx="70" cy="57" rx="48.5" ry="43.8" fill="none" stroke="#1a2040" stroke-width="1.2" opacity="0.6"/></g>
<g filter="url(#emb)"><g filter="url(#bump)"><g filter="url(#rough)"><ellipse cx="70" cy="57" rx="48.5" ry="43.8" fill="#38a696" /></g></g></g>
<g filter="url(#emb)"><g filter="url(#bump)"><path d="M64 24 C76 20 94 24 104 36 C110 48 110 64 104 76 C96 88 84 92 70 92" fill="none" stroke="#48b47c" stroke-width="7.1" stroke-linecap="round" stroke-linejoin="round"/><path d="M64 24 C76 20 94 24 104 36 C110 48 110 64 104 76 C96 88 84 92 70 92" fill="none" stroke="#5cc64c" stroke-width="5.4" stroke-linecap="round" stroke-linejoin="round"/><path d="M64 24 C76 20 94 24 104 36 C110 48 110 64 104 76 C96 88 84 92 70 92" fill="none" stroke="#50c450" stroke-width="4.2" stroke-linecap="round" stroke-linejoin="round"/><path d="M64 24 C76 20 94 24 104 36 C110 48 110 64 104 76 C96 88 84 92 70 92" fill="none" stroke="#c0bc38" stroke-width="2" stroke-linecap="round" stroke-linejoin="round"/></g></g>
<g filter="url(#emb)"><g filter="url(#bump)"><path d="M74 26 C62 32 54 44 52 58 C52 68 56 74 62 76" fill="none" stroke="#48b47c" stroke-width="12.5" stroke-linecap="round" stroke-linejoin="round"/><path d="M74 26 C62 32 54 44 52 58 C52 68 56 74 62 76" fill="none" stroke="#5cc64c" stroke-width="10" stroke-linecap="round" stroke-linejoin="round"/><path d="M74 26 C62 32 54 44 52 58 C52 68 56 74 62 76" fill="none" stroke="#c0b038" stroke-width="7.4" stroke-linecap="round" stroke-linejoin="round"/><path d="M74 26 C62 32 54 44 52 58 C52 68 56 74 62 76" fill="none" stroke="#e07a2a" stroke-width="5.8" stroke-linecap="round" stroke-linejoin="round"/><path d="M74 26 C62 32 54 44 52 58 C52 68 56 74 62 76" fill="none" stroke="#d03a1c" stroke-width="4.2" stroke-linecap="round" stroke-linejoin="round"/></g></g>
<g filter="url(#emb)"><g filter="url(#bump)"><path d="M64 42 C70 38 78 40 80 44" fill="none" stroke="#48b47c" stroke-width="9.2" stroke-linecap="round" stroke-linejoin="round"/><path d="M64 42 C70 38 78 40 80 44" fill="none" stroke="#5cc64c" stroke-width="7.1" stroke-linecap="round" stroke-linejoin="round"/><path d="M64 42 C70 38 78 40 80 44" fill="none" stroke="#80c040" stroke-width="5.1" stroke-linecap="round" stroke-linejoin="round"/><path d="M64 42 C70 38 78 40 80 44" fill="none" stroke="#dc962c" stroke-width="2.5" stroke-linecap="round" stroke-linejoin="round"/></g></g>
<g filter="url(#emb)"><g filter="url(#bump)"><path d="M52 80 C60 86 70 90 84 86" fill="none" stroke="#48b47c" stroke-width="9.2" stroke-linecap="round" stroke-linejoin="round"/><path d="M52 80 C60 86 70 90 84 86" fill="none" stroke="#5cc64c" stroke-width="7.1" stroke-linecap="round" stroke-linejoin="round"/><path d="M52 80 C60 86 70 90 84 86" fill="none" stroke="#80c040" stroke-width="5.1" stroke-linecap="round" stroke-linejoin="round"/><path d="M52 80 C60 86 70 90 84 86" fill="none" stroke="#dc962c" stroke-width="2.5" stroke-linecap="round" stroke-linejoin="round"/></g></g>
<g filter="url(#emb)"><g filter="url(#bump)"><path d="M28 72 C32 82 40 90 48 92" fill="none" stroke="#48b47c" stroke-width="7.3" stroke-linecap="round" stroke-linejoin="round"/><path d="M28 72 C32 82 40 90 48 92" fill="none" stroke="#5cc64c" stroke-width="5.6" stroke-linecap="round" stroke-linejoin="round"/><path d="M28 72 C32 82 40 90 48 92" fill="none" stroke="#50c450" stroke-width="4.4" stroke-linecap="round" stroke-linejoin="round"/><path d="M28 72 C32 82 40 90 48 92" fill="none" stroke="#c0bc38" stroke-width="2.2" stroke-linecap="round" stroke-linejoin="round"/></g></g>
<g filter="url(#soft)"><ellipse cx="22" cy="95" rx="9" ry="7" fill="#3848a0" opacity="0.7"/></g>
<rect width="145.9" height="109.1" filter="url(#tex)" opacity="0.32"/>
<rect width="145.9" height="109.1" filter="url(#texl)" opacity="0.22"/>
<rect width="145.9" height="109.1" filter="url(#grain)" opacity="0.45"/>
</svg>
<svg x="543.6" y="186.7" width="145.4" height="109.1" viewBox="0 0 145.4 109.1">
<rect width="145.4" height="109.1" fill="#778ccf"/>
<g fill="#2a3a8a" opacity="0.55"><circle cx="38.6" cy="74.0" r="0.7"/><circle cx="122.1" cy="21.5" r="0.5"/><circle cx="22.8" cy="25.7" r="0.8"/><circle cx="20.4" cy="57.8" r="0.5"/><circle cx="43.7" cy="47.4" r="0.8"/><circle cx="88.0" cy="3.5" r="0.5"/><circle cx="22.7" cy="93.6" r="0.8"/><circle cx="116.0" cy="88.9" r="0.8"/><circle cx="136.2" cy="85.4" r="0.5"/><circle cx="122.2" cy="53.2" r="0.8"/><circle cx="81.8" cy="47.1" r="0.6"/><circle cx="62.8" cy="35.0" r="0.5"/><circle cx="117.9" cy="85.9" r="0.9"/><circle cx="99.7" cy="60.2" r="0.8"/><circle cx="21.1" cy="73.1" r="0.6"/><circle cx="27.0" cy="23.3" r="0.7"/><circle cx="37.8" cy="50.3" r="0.7"/><circle cx="58.0" cy="15.7" r="0.6"/><circle cx="35.3" cy="26.8" r="0.5"/><circle cx="53.8" cy="9.7" r="0.7"/><circle cx="136.8" cy="43.0" r="0.8"/><circle cx="133.9" cy="6.5" r="0.5"/><circle cx="116.0" cy="90.1" r="0.7"/><circle cx="24.6" cy="45.5" r="0.8"/><circle cx="127.3" cy="86.4" r="0.5"/><circle cx="122.7" cy="41.4" r="0.8"/><circle cx="21.4" cy="104.1" r="0.7"/><circle cx="104.2" cy="24.3" r="0.7"/></g>
<g filter="url(#rough)"><ellipse cx="75.6" cy="55.5" rx="50" ry="43.2" fill="none" stroke="#1a2040" stroke-width="1.2" opacity="0.6"/></g>
<g filter="url(#emb)"><g filter="url(#bump)"><g filter="url(#rough)"><ellipse cx="75.6" cy="55.5" rx="50" ry="43.2" fill="#38a696" /><path d="M57 24 C64 18 76 18 80 24 C78 40 76 56 78 74 C72 82 62 84 58 76 C56 60 54 40 57 24Z" fill="#68c048" /><path d="M60 24 C66 20 74 20 78 26 C74 40 68 52 62 52 C58 44 58 32 60 24Z" fill="#d09a32" /><path d="M60 54 C64 52 70 54 72 60 C70 70 64 74 60 70Z" fill="#d09a32" /></g></g></g>
<g filter="url(#emb)"><g filter="url(#bump)"><path d="M80 22 C96 30 108 44 110 60 C108 72 100 80 92 84" fill="none" stroke="#48b47c" stroke-width="7.1" stroke-linecap="round" stroke-linejoin="round"/><path d="M80 22 C96 30 108 44 110 60 C108 72 100 80 92 84" fill="none" stroke="#5cc64c" stroke-width="5.4" stroke-linecap="round" stroke-linejoin="round"/><path d="M80 22 C96 30 108 44 110 60 C108 72 100 80 92 84" fill="none" stroke="#50c450" stroke-width="4.2" stroke-linecap="round" stroke-linejoin="round"/><path d="M80 22 C96 30 108 44 110 60 C108 72 100 80 92 84" fill="none" stroke="#c0bc38" stroke-width="2" stroke-linecap="round" stroke-linejoin="round"/></g></g>
<rect width="145.4" height="109.1" filter="url(#tex)" opacity="0.32"/>
<rect width="145.4" height="109.1" filter="url(#texl)" opacity="0.22"/>
<rect width="145.4" height="109.1" filter="url(#grain)" opacity="0.45"/>
</svg>
<svg x="695.0" y="186.7" width="145.5" height="109.1" viewBox="0 0 145.5 109.1">
<rect width="145.5" height="109.1" fill="#778ccf"/>
<g fill="#2a3a8a" opacity="0.55"><circle cx="17.1" cy="75.8" r="0.7"/><circle cx="135.1" cy="30.5" r="0.5"/><circle cx="105.9" cy="71.2" r="0.6"/><circle cx="98.8" cy="43.7" r="0.8"/><circle cx="18.8" cy="25.5" r="0.9"/><circle cx="52.7" cy="29.4" r="0.8"/><circle cx="91.4" cy="17.7" r="0.7"/><circle cx="96.0" cy="19.3" r="0.7"/><circle cx="19.4" cy="37.4" r="0.4"/><circle cx="30.9" cy="104.8" r="0.6"/><circle cx="142.1" cy="48.1" r="0.7"/><circle cx="125.5" cy="74.2" r="0.5"/><circle cx="85.4" cy="68.6" r="0.5"/><circle cx="15.4" cy="93.9" r="0.7"/><circle cx="29.4" cy="49.6" r="0.5"/><circle cx="115.0" cy="54.6" r="0.5"/><circle cx="117.8" cy="11.4" r="0.5"/><circle cx="6.0" cy="79.8" r="0.5"/><circle cx="76.4" cy="11.8" r="0.6"/><circle cx="99.0" cy="58.2" r="0.6"/><circle cx="70.6" cy="47.9" r="0.7"/><circle cx="15.4" cy="51.9" r="0.5"/><circle cx="124.5" cy="100.7" r="0.4"/><circle cx="22.3" cy="75.9" r="0.7"/><circle cx="4.7" cy="76.1" r="0.9"/><circle cx="61.9" cy="38.5" r="0.7"/><circle cx="134.9" cy="29.7" r="0.6"/><circle cx="28.7" cy="68.0" r="0.6"/></g>
<g filter="url(#rough)"><path d="M72 16 C60 12 40 14 30 32 C22 50 26 76 40 92 C54 102 70 98 76 90 C84 98 100 98 112 90 C126 76 128 50 118 30 C108 16 90 12 72 16Z" fill="none" stroke="#1a2040" stroke-width="1.2" opacity="0.6"/></g>
<g filter="url(#emb)"><g filter="url(#bump)"><g filter="url(#rough)"><path d="M72 16 C60 12 40 14 30 32 C22 50 26 76 40 92 C54 102 70 98 76 90 C84 98 100 98 112 90 C126 76 128 50 118 30 C108 16 90 12 72 16Z" fill="#38a696" /><path d="M60 26 C66 22 74 22 78 26 C76 48 80 70 86 88 C78 94 70 94 62 86 C64 70 64 48 60 26Z" fill="#5cbc4a" /><path d="M66 42 C70 40 74 42 76 48 C76 60 80 72 78 80 C72 82 66 78 64 70 C64 60 64 50 66 42Z" fill="#c8b03a" /></g></g></g>
<g filter="url(#emb)"><g filter="url(#bump)"><g filter="url(#rough)"><path d="M74 10 C84 4 100 6 116 4 C122 6 122 12 116 14 C104 16 92 14 80 18 C76 16 74 14 74 10Z" fill="#38a696" /></g></g></g>
<ellipse cx="21" cy="63" rx="3" ry="4" fill="#3848a0" />
<rect width="145.5" height="109.1" filter="url(#tex)" opacity="0.32"/>
<rect width="145.5" height="109.1" filter="url(#texl)" opacity="0.22"/>
<rect width="145.5" height="109.1" filter="url(#grain)" opacity="0.45"/>
</svg>
<svg x="89.1" y="311.3" width="145.7" height="109.0" viewBox="0 0 145.7 109.0">
<rect width="145.7" height="109.0" fill="#778ccf"/>
<g fill="#2a3a8a" opacity="0.55"><circle cx="130.3" cy="74.1" r="0.8"/><circle cx="130.2" cy="29.3" r="0.7"/><circle cx="130.2" cy="93.6" r="0.7"/><circle cx="26.0" cy="45.2" r="0.9"/><circle cx="16.6" cy="35.5" r="0.9"/><circle cx="65.7" cy="23.9" r="0.6"/><circle cx="130.8" cy="37.2" r="0.6"/><circle cx="90.9" cy="86.6" r="0.6"/><circle cx="13.5" cy="62.2" r="0.4"/><circle cx="15.4" cy="22.0" r="0.7"/><circle cx="42.2" cy="74.5" r="0.5"/><circle cx="18.7" cy="4.5" r="0.8"/><circle cx="123.7" cy="25.1" r="0.5"/><circle cx="3.8" cy="69.7" r="0.6"/><circle cx="21.4" cy="69.9" r="0.7"/><circle cx="65.4" cy="18.1" r="0.7"/><circle cx="80.7" cy="47.5" r="0.5"/><circle cx="133.6" cy="92.6" r="0.7"/><circle cx="143.1" cy="62.9" r="0.6"/><circle cx="18.5" cy="65.8" r="0.7"/><circle cx="63.8" cy="106.2" r="0.8"/><circle cx="18.3" cy="94.8" r="0.4"/><circle cx="94.3" cy="35.1" r="0.8"/><circle cx="137.0" cy="57.7" r="0.8"/><circle cx="9.7" cy="72.1" r="0.5"/><circle cx="66.5" cy="37.0" r="0.4"/><circle cx="107.9" cy="11.8" r="0.5"/><circle cx="14.2" cy="71.5" r="0.6"/></g>
<g filter="url(#crs)"><ellipse cx="74.5" cy="55" rx="49.5" ry="44.5" fill="#34449a" /></g>
<g filter="url(#rough)"><path d="M57.9 13.7 L62.3 12.4 L66.8 11.6 L71.3 11.1 L75.9 11.0 L80.5 11.3 L85.0 12.0 L89.4 13.1 L93.7 14.6 L97.8 16.4 L101.7 18.6 L105.4 21.1 L108.8 23.9 L111.9 27.0 L114.6 30.3 L117.0 33.8 L119.0 37.6 L120.6 41.5 L121.9 45.5 L122.6 49.6 L123.0 53.7 L122.9 57.9 L122.4 62.0 L121.4 66.1 L120.1 70.0" fill="none" stroke="#161a2a" stroke-width="3" stroke-linecap="round" stroke-linejoin="round" /></g>
<g filter="url(#emb)"><g filter="url(#bump)"><g filter="url(#rough)"><path d="M26 52 C26 30 44 14 72 14 C100 14 120 30 121 54 C122 70 114 84 100 90 C92 96 84 100 72 100 C62 100 56 96 52 90 C36 84 26 70 26 52Z" fill="#38a696" /></g></g></g>
<g filter="url(#emb)"><g filter="url(#bump)"><path d="M32 60 C30 40 46 18 72 16 C96 16 112 30 112 50" fill="none" stroke="#48b47c" stroke-width="6.9" stroke-linecap="round" stroke-linejoin="round"/><path d="M32 60 C30 40 46 18 72 16 C96 16 112 30 112 50" fill="none" stroke="#5cc64c" stroke-width="5.2" stroke-linecap="round" stroke-linejoin="round"/><path d="M32 60 C30 40 46 18 72 16 C96 16 112 30 112 50" fill="none" stroke="#50c450" stroke-width="4" stroke-linecap="round" stroke-linejoin="round"/><path d="M32 60 C30 40 46 18 72 16 C96 16 112 30 112 50" fill="none" stroke="#c0bc38" stroke-width="1.8" stroke-linecap="round" stroke-linejoin="round"/></g></g>
<g filter="url(#emb)"><g filter="url(#bump)"><path d="M52 68 C62 76 80 80 96 72 C106 64 110 56 110 48" fill="none" stroke="#48b47c" stroke-width="9.7" stroke-linecap="round" stroke-linejoin="round"/><path d="M52 68 C62 76 80 80 96 72 C106 64 110 56 110 48" fill="none" stroke="#5cc64c" stroke-width="7.6" stroke-linecap="round" stroke-linejoin="round"/><path d="M52 68 C62 76 80 80 96 72 C106 64 110 56 110 48" fill="none" stroke="#80c040" stroke-width="5.6" stroke-linecap="round" stroke-linejoin="round"/><path d="M52 68 C62 76 80 80 96 72 C106 64 110 56 110 48" fill="none" stroke="#dc962c" stroke-width="3" stroke-linecap="round" stroke-linejoin="round"/></g></g>
<g filter="url(#emb)"><g filter="url(#bump)"><path d="M74 78 C84 77 94 72 102 64" fill="none" stroke="#48b47c" stroke-width="11.3" stroke-linecap="round" stroke-linejoin="round"/><path d="M74 78 C84 77 94 72 102 64" fill="none" stroke="#5cc64c" stroke-width="8.8" stroke-linecap="round" stroke-linejoin="round"/><path d="M74 78 C84 77 94 72 102 64" fill="none" stroke="#c0b038" stroke-width="6.2" stroke-linecap="round" stroke-linejoin="round"/><path d="M74 78 C84 77 94 72 102 64" fill="none" stroke="#e07a2a" stroke-width="4.6" stroke-linecap="round" stroke-linejoin="round"/><path d="M74 78 C84 77 94 72 102 64" fill="none" stroke="#d03a1c" stroke-width="3" stroke-linecap="round" stroke-linejoin="round"/></g></g>
<g filter="url(#rough)"><path d="M98 14 C112 22 120 34 122 50" fill="none" stroke="#161a2a" stroke-width="2.5" stroke-linecap="round" stroke-linejoin="round" /></g>
<rect width="145.7" height="109.0" filter="url(#tex)" opacity="0.32"/>
<rect width="145.7" height="109.0" filter="url(#texl)" opacity="0.22"/>
<rect width="145.7" height="109.0" filter="url(#grain)" opacity="0.45"/>
<rect x="127.2" y="99.0" width="10" height="2.2" fill="#fff"/>
</svg>
<svg x="240.4" y="311.3" width="146.0" height="109.0" viewBox="0 0 146.0 109.0">
<rect width="146.0" height="109.0" fill="#778ccf"/>
<g fill="#2a3a8a" opacity="0.55"><circle cx="25.4" cy="74.4" r="0.7"/><circle cx="70.0" cy="24.7" r="0.8"/><circle cx="116.7" cy="55.8" r="0.7"/><circle cx="35.5" cy="2.3" r="0.6"/><circle cx="85.1" cy="9.3" r="0.8"/><circle cx="35.0" cy="26.4" r="0.4"/><circle cx="143.7" cy="79.6" r="0.8"/><circle cx="89.5" cy="5.6" r="0.6"/><circle cx="72.7" cy="14.2" r="0.9"/><circle cx="54.3" cy="18.3" r="0.8"/><circle cx="19.7" cy="99.4" r="0.6"/><circle cx="80.4" cy="38.0" r="0.6"/><circle cx="28.5" cy="5.9" r="0.8"/><circle cx="35.4" cy="83.9" r="0.5"/><circle cx="139.6" cy="95.9" r="0.8"/><circle cx="110.3" cy="63.0" r="0.8"/><circle cx="19.4" cy="52.0" r="0.8"/><circle cx="30.6" cy="98.9" r="0.8"/><circle cx="60.2" cy="40.3" r="0.6"/><circle cx="56.8" cy="106.5" r="0.6"/><circle cx="5.8" cy="11.8" r="0.8"/><circle cx="143.0" cy="54.1" r="0.6"/><circle cx="80.2" cy="80.6" r="0.5"/><circle cx="88.5" cy="60.4" r="0.7"/><circle cx="27.7" cy="19.9" r="0.6"/><circle cx="133.6" cy="38.4" r="0.7"/><circle cx="45.5" cy="12.8" r="0.4"/><circle cx="117.5" cy="83.6" r="0.6"/></g>
<g filter="url(#rough)"><ellipse cx="63" cy="53.5" rx="41.8" ry="45.6" fill="none" stroke="#2c3c90" stroke-width="6"/></g>
<g filter="url(#rough)"><ellipse cx="63" cy="53.5" rx="41.8" ry="45.6" fill="none" stroke="#38a696" stroke-width="2" stroke-dasharray="2 3 5 2 1 4"/></g>
<g filter="url(#soft)"><ellipse cx="63" cy="53.5" rx="37" ry="41" fill="none" stroke="#9cb0e0" stroke-width="2" opacity="0.6"/></g>
<g filter="url(#emb)"><g filter="url(#bump)"><g filter="url(#rough)"><path d="M100 42 C108 40 118 44 121 56 C122 70 118 84 108 88 C100 90 96 84 98 70Z" fill="#38a696" /></g></g></g>
<g filter="url(#rough)"><path d="M112 44 C118 48 121 58 121 70 C120 82 114 88 106 86 C112 78 116 62 112 44Z" fill="#161a2a" /></g>
<g filter="url(#emb)"><g filter="url(#bump)"><g filter="url(#rough)"><ellipse cx="69" cy="53" rx="35.6" ry="42.7" fill="#38a696" /></g></g></g>
<g filter="url(#emb)"><g filter="url(#bump)"><path d="M80 24 C88 28 94 34 98 42" fill="none" stroke="#48b47c" stroke-width="7.6" stroke-linecap="round" stroke-linejoin="round"/><path d="M80 24 C88 28 94 34 98 42" fill="none" stroke="#5cc64c" stroke-width="5.9" stroke-linecap="round" stroke-linejoin="round"/><path d="M80 24 C88 28 94 34 98 42" fill="none" stroke="#50c450" stroke-width="4.7" stroke-linecap="round" stroke-linejoin="round"/><path d="M80 24 C88 28 94 34 98 42" fill="none" stroke="#c0bc38" stroke-width="2.5" stroke-linecap="round" stroke-linejoin="round"/></g></g>
<g filter="url(#emb)"><g filter="url(#bump)"><path d="M96 40 C100 52 100 64 96 74" fill="none" stroke="#48b47c" stroke-width="10.7" stroke-linecap="round" stroke-linejoin="round"/><path d="M96 40 C100 52 100 64 96 74" fill="none" stroke="#5cc64c" stroke-width="8.6" stroke-linecap="round" stroke-linejoin="round"/><path d="M96 40 C100 52 100 64 96 74" fill="none" stroke="#80c040" stroke-width="6.6" stroke-linecap="round" stroke-linejoin="round"/><path d="M96 40 C100 52 100 64 96 74" fill="none" stroke="#dc962c" stroke-width="4" stroke-linecap="round" stroke-linejoin="round"/></g></g>
<g filter="url(#emb)"><g filter="url(#bump)"><path d="M96 62 C94 74 88 84 76 90" fill="none" stroke="#48b47c" stroke-width="12.8" stroke-linecap="round" stroke-linejoin="round"/><path d="M96 62 C94 74 88 84 76 90" fill="none" stroke="#5cc64c" stroke-width="10.3" stroke-linecap="round" stroke-linejoin="round"/><path d="M96 62 C94 74 88 84 76 90" fill="none" stroke="#c0b038" stroke-width="7.7" stroke-linecap="round" stroke-linejoin="round"/><path d="M96 62 C94 74 88 84 76 90" fill="none" stroke="#e07a2a" stroke-width="6.1" stroke-linecap="round" stroke-linejoin="round"/><path d="M96 62 C94 74 88 84 76 90" fill="none" stroke="#d03a1c" stroke-width="4.5" stroke-linecap="round" stroke-linejoin="round"/></g></g>
<g filter="url(#rough)"><path d="M108 60 L112 62 L110 66Z M104 70 L108 72 L106 76Z" fill="#161a2a" /></g>
<rect width="146.0" height="109.0" filter="url(#tex)" opacity="0.32"/>
<rect width="146.0" height="109.0" filter="url(#texl)" opacity="0.22"/>
<rect width="146.0" height="109.0" filter="url(#grain)" opacity="0.45"/>
</svg>
<svg x="391.7" y="311.3" width="145.9" height="109.0" viewBox="0 0 145.9 109.0">
<rect width="145.9" height="109.0" fill="#778ccf"/>
<g fill="#2a3a8a" opacity="0.55"><circle cx="138.0" cy="16.7" r="0.4"/><circle cx="143.7" cy="21.3" r="0.5"/><circle cx="94.4" cy="38.3" r="0.8"/><circle cx="34.9" cy="102.7" r="0.6"/><circle cx="87.3" cy="99.9" r="0.7"/><circle cx="133.1" cy="76.4" r="0.4"/><circle cx="127.1" cy="63.9" r="0.6"/><circle cx="29.0" cy="91.2" r="0.7"/><circle cx="135.1" cy="83.3" r="0.9"/><circle cx="82.4" cy="75.3" r="0.7"/><circle cx="38.7" cy="102.5" r="0.6"/><circle cx="112.8" cy="102.2" r="0.7"/><circle cx="22.2" cy="88.6" r="0.7"/><circle cx="28.3" cy="7.2" r="0.7"/><circle cx="6.6" cy="99.1" r="0.7"/><circle cx="75.4" cy="45.0" r="0.7"/><circle cx="132.0" cy="34.3" r="0.6"/><circle cx="84.7" cy="33.2" r="0.7"/><circle cx="79.1" cy="47.5" r="0.7"/><circle cx="77.0" cy="11.3" r="0.9"/><circle cx="52.5" cy="47.3" r="0.6"/><circle cx="133.9" cy="102.0" r="0.7"/><circle cx="58.9" cy="12.1" r="0.8"/><circle cx="26.3" cy="59.4" r="0.6"/><circle cx="48.6" cy="39.5" r="0.5"/><circle cx="7.2" cy="58.2" r="0.8"/><circle cx="93.8" cy="23.2" r="0.7"/><circle cx="9.4" cy="45.1" r="0.8"/></g>
<g filter="url(#crs)"><ellipse cx="72.6" cy="52.6" rx="48.5" ry="47.8" fill="#34449a" /></g>
<g filter="url(#rough)"><path d="M80.8 6.3 L83.9 6.9 L86.9 7.8 L89.8 8.8 L92.7 10.0 L95.4 11.4 L98.1 13.0 L100.7 14.7 L103.1 16.6 L105.4 18.6 L107.6 20.8 L109.6 23.2 L111.5 25.6 L113.2 28.2 L114.7 30.9 L116.1 33.7 L117.2 36.5 L118.2 39.4 L119.0 42.4 L119.5 45.5 L119.9 48.5 L120.1 51.6 L120.1 54.7 L119.8 57.7 L119.4 60.8" fill="none" stroke="#161a2a" stroke-width="3" stroke-linecap="round" stroke-linejoin="round" /></g>
<g filter="url(#rough)"><path d="M31.5 76.1 L30.6 74.6 L29.8 73.1 L29.1 71.5 L28.5 70.0 L27.8 68.4 L27.3 66.7 L26.8 65.1 L26.4 63.4 L26.0 61.8 L25.7 60.1 L25.5 58.4 L25.3 56.7 L25.2 55.0 L25.1 53.3 L25.1 51.6 L25.2 49.9 L25.3 48.2 L25.5 46.5 L25.8 44.8 L26.1 43.1 L26.5 41.4 L26.9 39.8 L27.4 38.1 L28.0 36.5" fill="none" stroke="#161a2a" stroke-width="2.5" stroke-linecap="round" stroke-linejoin="round" /></g>
<g filter="url(#emb)"><g filter="url(#bump)"><g filter="url(#rough)"><ellipse cx="72.6" cy="53" rx="47" ry="46.5" fill="#38a696" /></g></g></g>
<g filter="url(#emb)"><g filter="url(#bump)"><path d="M38 70 C30 48 42 22 62 18 C80 16 92 22 96 28" fill="none" stroke="#48b47c" stroke-width="6.9" stroke-linecap="round" stroke-linejoin="round"/><path d="M38 70 C30 48 42 22 62 18 C80 16 92 22 96 28" fill="none" stroke="#5cc64c" stroke-width="5.2" stroke-linecap="round" stroke-linejoin="round"/><path d="M38 70 C30 48 42 22 62 18 C80 16 92 22 96 28" fill="none" stroke="#50c450" stroke-width="4" stroke-linecap="round" stroke-linejoin="round"/><path d="M38 70 C30 48 42 22 62 18 C80 16 92 22 96 28" fill="none" stroke="#c0bc38" stroke-width="1.8" stroke-linecap="round" stroke-linejoin="round"/></g></g>
<g filter="url(#emb)"><g filter="url(#bump)"><path d="M80 28 C94 34 100 48 98 62 C96 74 90 82 76 86" fill="none" stroke="#48b47c" stroke-width="9.9" stroke-linecap="round" stroke-linejoin="round"/><path d="M80 28 C94 34 100 48 98 62 C96 74 90 82 76 86" fill="none" stroke="#5cc64c" stroke-width="7.8" stroke-linecap="round" stroke-linejoin="round"/><path d="M80 28 C94 34 100 48 98 62 C96 74 90 82 76 86" fill="none" stroke="#80c040" stroke-width="5.8" stroke-linecap="round" stroke-linejoin="round"/><path d="M80 28 C94 34 100 48 98 62 C96 74 90 82 76 86" fill="none" stroke="#dc962c" stroke-width="3.2" stroke-linecap="round" stroke-linejoin="round"/></g></g>
<g filter="url(#emb)"><g filter="url(#bump)"><path d="M32 74 C36 86 48 96 64 99 C76 100 84 98 92 94" fill="none" stroke="#48b47c" stroke-width="9.1" stroke-linecap="round" stroke-linejoin="round"/><path d="M32 74 C36 86 48 96 64 99 C76 100 84 98 92 94" fill="none" stroke="#5cc64c" stroke-width="7" stroke-linecap="round" stroke-linejoin="round"/><path d="M32 74 C36 86 48 96 64 99 C76 100 84 98 92 94" fill="none" stroke="#80c040" stroke-width="5" stroke-linecap="round" stroke-linejoin="round"/><path d="M32 74 C36 86 48 96 64 99 C76 100 84 98 92 94" fill="none" stroke="#dc962c" stroke-width="2.4" stroke-linecap="round" stroke-linejoin="round"/></g></g>
<rect width="145.9" height="109.0" filter="url(#tex)" opacity="0.32"/>
<rect width="145.9" height="109.0" filter="url(#texl)" opacity="0.22"/>
<rect width="145.9" height="109.0" filter="url(#grain)" opacity="0.45"/>
</svg>
<svg x="543.6" y="311.3" width="145.4" height="109.0" viewBox="0 0 145.4 109.0">
<rect width="145.4" height="109.0" fill="#778ccf"/>
<g fill="#2a3a8a" opacity="0.55"><circle cx="132.8" cy="101.6" r="0.8"/><circle cx="13.8" cy="64.2" r="0.6"/><circle cx="77.0" cy="15.7" r="0.5"/><circle cx="64.9" cy="25.2" r="0.6"/><circle cx="5.5" cy="11.0" r="0.8"/><circle cx="61.6" cy="55.8" r="0.8"/><circle cx="52.8" cy="8.0" r="0.8"/><circle cx="85.3" cy="71.1" r="0.7"/><circle cx="139.3" cy="40.1" r="0.8"/><circle cx="54.1" cy="62.1" r="0.7"/><circle cx="46.5" cy="11.0" r="0.6"/><circle cx="103.5" cy="64.0" r="0.6"/><circle cx="92.8" cy="21.1" r="0.5"/><circle cx="47.7" cy="87.7" r="0.5"/><circle cx="18.2" cy="12.4" r="0.4"/><circle cx="41.0" cy="62.1" r="0.8"/><circle cx="48.8" cy="40.8" r="0.5"/><circle cx="45.1" cy="83.6" r="0.7"/><circle cx="38.5" cy="13.2" r="0.8"/><circle cx="102.0" cy="89.0" r="0.5"/><circle cx="79.1" cy="98.5" r="0.7"/><circle cx="135.7" cy="19.6" r="0.9"/><circle cx="9.9" cy="45.7" r="0.4"/><circle cx="116.5" cy="74.2" r="0.9"/><circle cx="115.8" cy="101.6" r="0.7"/><circle cx="141.7" cy="80.6" r="0.6"/><circle cx="139.8" cy="41.6" r="0.5"/><circle cx="12.7" cy="50.9" r="0.5"/></g>
<g filter="url(#crs)"><ellipse cx="77" cy="55.8" rx="51" ry="43.5" fill="#34449a" /></g>
<g filter="url(#rough)"><path d="M94.1 15.4 L97.5 16.6 L100.7 18.0 L103.9 19.5 L106.9 21.3 L109.7 23.3 L112.4 25.4 L114.8 27.7 L117.1 30.1 L119.2 32.7 L121.0 35.4 L122.6 38.2 L124.0 41.1 L125.1 44.1 L126.0 47.1 L126.6 50.2 L126.9 53.3 L127.0 56.4 L126.8 59.5 L126.4 62.7 L125.7 65.7 L124.7 68.7 L123.5 71.7 L122.0 74.5 L120.3 77.3" fill="none" stroke="#161a2a" stroke-width="3" stroke-linecap="round" stroke-linejoin="round" /></g>
<g filter="url(#rough)"><path d="M27.8 63.3 L27.6 62.3 L27.4 61.4 L27.3 60.5 L27.2 59.5 L27.1 58.6 L27.0 57.7 L27.0 56.7 L27.0 55.8 L27.0 54.9 L27.0 53.9 L27.1 53.0 L27.2 52.1 L27.3 51.1 L27.4 50.2 L27.6 49.3 L27.8 48.3 L28.0 47.4 L28.2 46.5 L28.4 45.6 L28.7 44.7 L29.0 43.8 L29.3 42.9 L29.7 42.0 L30.0 41.1" fill="none" stroke="#161a2a" stroke-width="2.5" stroke-linecap="round" stroke-linejoin="round" /></g>
<g filter="url(#emb)"><g filter="url(#bump)"><g filter="url(#rough)"><ellipse cx="77" cy="55.8" rx="50" ry="42.5" fill="#38a696" /></g></g></g>
<g filter="url(#emb)"><g filter="url(#bump)"><path d="M41 60 C36 48 40 34 54 25 C62 21 72 21 79 22" fill="none" stroke="#48b47c" stroke-width="9.1" stroke-linecap="round" stroke-linejoin="round"/><path d="M41 60 C36 48 40 34 54 25 C62 21 72 21 79 22" fill="none" stroke="#5cc64c" stroke-width="7" stroke-linecap="round" stroke-linejoin="round"/><path d="M41 60 C36 48 40 34 54 25 C62 21 72 21 79 22" fill="none" stroke="#80c040" stroke-width="5" stroke-linecap="round" stroke-linejoin="round"/><path d="M41 60 C36 48 40 34 54 25 C62 21 72 21 79 22" fill="none" stroke="#dc962c" stroke-width="2.4" stroke-linecap="round" stroke-linejoin="round"/></g></g>
<g filter="url(#emb)"><g filter="url(#bump)"><path d="M32 70 C38 80 46 88 54 91" fill="none" stroke="#48b47c" stroke-width="9.1" stroke-linecap="round" stroke-linejoin="round"/><path d="M32 70 C38 80 46 88 54 91" fill="none" stroke="#5cc64c" stroke-width="7" stroke-linecap="round" stroke-linejoin="round"/><path d="M32 70 C38 80 46 88 54 91" fill="none" stroke="#80c040" stroke-width="5" stroke-linecap="round" stroke-linejoin="round"/><path d="M32 70 C38 80 46 88 54 91" fill="none" stroke="#dc962c" stroke-width="2.4" stroke-linecap="round" stroke-linejoin="round"/></g></g>
<g filter="url(#emb)"><g filter="url(#bump)"><path d="M115 52 C114 66 110 76 102 85" fill="none" stroke="#48b47c" stroke-width="7.1" stroke-linecap="round" stroke-linejoin="round"/><path d="M115 52 C114 66 110 76 102 85" fill="none" stroke="#5cc64c" stroke-width="5.4" stroke-linecap="round" stroke-linejoin="round"/><path d="M115 52 C114 66 110 76 102 85" fill="none" stroke="#50c450" stroke-width="4.2" stroke-linecap="round" stroke-linejoin="round"/><path d="M115 52 C114 66 110 76 102 85" fill="none" stroke="#c0bc38" stroke-width="2" stroke-linecap="round" stroke-linejoin="round"/></g></g>
<g filter="url(#emb)"><g filter="url(#bump)"><path d="M106 80 L102 85" fill="none" stroke="#48b47c" stroke-width="9.2" stroke-linecap="round" stroke-linejoin="round"/><path d="M106 80 L102 85" fill="none" stroke="#5cc64c" stroke-width="7.1" stroke-linecap="round" stroke-linejoin="round"/><path d="M106 80 L102 85" fill="none" stroke="#80c040" stroke-width="5.1" stroke-linecap="round" stroke-linejoin="round"/><path d="M106 80 L102 85" fill="none" stroke="#dc962c" stroke-width="2.5" stroke-linecap="round" stroke-linejoin="round"/></g></g>
<rect width="145.4" height="109.0" filter="url(#tex)" opacity="0.32"/>
<rect width="145.4" height="109.0" filter="url(#texl)" opacity="0.22"/>
<rect width="145.4" height="109.0" filter="url(#grain)" opacity="0.45"/>
</svg>
<svg x="695.0" y="311.3" width="145.5" height="109.0" viewBox="0 0 145.5 109.0">
<rect width="145.5" height="109.0" fill="#778ccf"/>
<g fill="#2a3a8a" opacity="0.55"><circle cx="102.8" cy="90.2" r="0.5"/><circle cx="143.3" cy="22.4" r="0.7"/><circle cx="15.0" cy="81.6" r="0.5"/><circle cx="102.0" cy="78.1" r="0.8"/><circle cx="64.5" cy="92.9" r="0.9"/><circle cx="18.4" cy="56.3" r="0.9"/><circle cx="106.6" cy="48.6" r="0.6"/><circle cx="136.9" cy="10.9" r="0.8"/><circle cx="121.3" cy="18.6" r="0.6"/><circle cx="45.2" cy="58.9" r="0.6"/><circle cx="128.5" cy="99.1" r="0.6"/><circle cx="128.6" cy="9.3" r="0.4"/><circle cx="96.1" cy="85.9" r="0.8"/><circle cx="142.4" cy="92.3" r="0.5"/><circle cx="107.1" cy="99.1" r="0.4"/><circle cx="72.0" cy="18.2" r="0.5"/><circle cx="69.9" cy="72.4" r="0.9"/><circle cx="20.6" cy="55.1" r="0.9"/><circle cx="110.2" cy="57.9" r="0.5"/><circle cx="91.3" cy="29.4" r="0.7"/><circle cx="93.8" cy="43.1" r="0.8"/><circle cx="59.1" cy="51.2" r="0.8"/><circle cx="37.4" cy="21.5" r="0.7"/><circle cx="63.5" cy="93.8" r="0.5"/><circle cx="54.5" cy="8.1" r="0.6"/><circle cx="46.2" cy="49.1" r="0.8"/><circle cx="7.3" cy="105.9" r="0.8"/><circle cx="116.8" cy="58.6" r="0.7"/></g>
<g filter="url(#crs)"><ellipse cx="72.5" cy="55.2" rx="49" ry="42.5" fill="#34449a" /></g>
<g filter="url(#rough)"><path d="M64.2 13.8 L67.6 13.4 L71.1 13.2 L74.6 13.2 L78.1 13.5 L81.5 13.9 L84.9 14.6 L88.3 15.5 L91.5 16.6 L94.7 17.9 L97.7 19.5 L100.6 21.1 L103.4 23.0 L105.9 25.1 L108.4 27.3 L110.6 29.6 L112.6 32.1 L114.4 34.7 L116.0 37.5 L117.4 40.3 L118.5 43.2 L119.4 46.1 L120.0 49.1 L120.4 52.1 L120.5 55.2" fill="none" stroke="#161a2a" stroke-width="2.5" stroke-linecap="round" stroke-linejoin="round" /></g>
<g filter="url(#emb)"><g filter="url(#bump)"><g filter="url(#rough)"><ellipse cx="72.5" cy="55.2" rx="48" ry="41.5" fill="#38a696" /><path d="M32 72 C34 90 44 102 62 103 C70 102 72 96 72 86Z" fill="#38a696" /></g></g></g>
<g filter="url(#emb)"><g filter="url(#bump)"><path d="M38 50 C46 66 60 82 76 91" fill="none" stroke="#48b47c" stroke-width="12.7" stroke-linecap="round" stroke-linejoin="round"/><path d="M38 50 C46 66 60 82 76 91" fill="none" stroke="#5cc64c" stroke-width="10.6" stroke-linecap="round" stroke-linejoin="round"/><path d="M38 50 C46 66 60 82 76 91" fill="none" stroke="#80c040" stroke-width="8.6" stroke-linecap="round" stroke-linejoin="round"/><path d="M38 50 C46 66 60 82 76 91" fill="none" stroke="#dc962c" stroke-width="6" stroke-linecap="round" stroke-linejoin="round"/></g></g>
<path d="M96 18 C110 26 118 40 118 54 C118 66 112 78 100 86" fill="none" stroke="#5cc64c" stroke-width="2" stroke-linecap="round" stroke-linejoin="round" stroke-dasharray="2 2"/>
<path d="M30 40 C36 30 40 26 46 22" fill="none" stroke="#5cc64c" stroke-width="2" stroke-linecap="round" stroke-linejoin="round" />
<rect width="145.5" height="109.0" filter="url(#tex)" opacity="0.32"/>
<rect width="145.5" height="109.0" filter="url(#texl)" opacity="0.22"/>
<rect width="145.5" height="109.0" filter="url(#grain)" opacity="0.45"/>
</svg>
<svg x="84.7" y="539.6" width="145.3" height="108.7" viewBox="0 0 145.3 108.7">
<rect width="145.3" height="108.7" fill="#778ccf"/>
<g fill="#2a3a8a" opacity="0.55"><circle cx="22.6" cy="49.6" r="0.8"/><circle cx="101.7" cy="78.6" r="0.6"/><circle cx="115.0" cy="57.8" r="0.4"/><circle cx="66.4" cy="7.0" r="0.9"/><circle cx="135.8" cy="37.1" r="0.6"/><circle cx="110.5" cy="23.3" r="0.5"/><circle cx="28.6" cy="38.3" r="0.7"/><circle cx="138.1" cy="24.1" r="0.9"/><circle cx="80.5" cy="96.4" r="0.8"/><circle cx="24.7" cy="69.9" r="0.5"/><circle cx="2.8" cy="43.4" r="0.8"/><circle cx="82.0" cy="22.2" r="0.8"/><circle cx="131.1" cy="26.8" r="0.6"/><circle cx="92.1" cy="96.5" r="0.5"/><circle cx="80.3" cy="103.4" r="0.7"/><circle cx="103.4" cy="83.1" r="0.7"/><circle cx="43.0" cy="63.8" r="0.7"/><circle cx="50.5" cy="91.4" r="0.6"/><circle cx="70.3" cy="81.7" r="0.8"/><circle cx="127.8" cy="70.2" r="0.5"/><circle cx="121.7" cy="97.2" r="0.8"/><circle cx="110.4" cy="55.8" r="0.6"/><circle cx="84.3" cy="17.4" r="0.7"/><circle cx="123.7" cy="19.2" r="0.8"/><circle cx="101.8" cy="14.7" r="0.4"/><circle cx="86.1" cy="24.9" r="0.6"/><circle cx="89.8" cy="70.1" r="0.8"/><circle cx="82.3" cy="36.9" r="0.4"/></g>
<g filter="url(#soft)"><ellipse cx="73.5" cy="53" rx="52" ry="43.5" fill="url(#gcrC)" /></g>
<g filter="url(#emb)"><g filter="url(#bump)"><g filter="url(#rough)"><ellipse cx="73" cy="50.8" rx="33" ry="28" fill="#38a696" /></g></g></g>
<g filter="url(#emb)"><g filter="url(#bump)"><g filter="url(#rough)"><ellipse cx="74.7" cy="73.7" rx="28.6" ry="25.2" fill="#4d8eb6" /></g></g></g>
<path d="M47 72 C48 58 60 49 75 49 C90 49 102 58 102 72" fill="none" stroke="#d86a26" stroke-width="3" stroke-linecap="round" stroke-linejoin="round" />
<path d="M102 72 C102 88 90 98 75 98 C60 98 47 88 47 72" fill="none" stroke="#5cc84a" stroke-width="2.5" stroke-linecap="round" stroke-linejoin="round" />
<path d="M51 76 C56 86 66 90 76 90 C88 90 96 84 98 76" fill="none" stroke="#5cc84a" stroke-width="1.5" stroke-linecap="round" stroke-linejoin="round" opacity="0.8"/>
<circle cx="15" cy="65.4" r="2" fill="#3a4a9a"/>
<rect width="145.3" height="108.7" filter="url(#tex)" opacity="0.32"/>
<rect width="145.3" height="108.7" filter="url(#texl)" opacity="0.22"/>
<rect width="145.3" height="108.7" filter="url(#grain)" opacity="0.45"/>
<rect x="126.8" y="98.7" width="10" height="2.2" fill="#fff"/>
</svg>
<svg x="236.5" y="539.6" width="145.3" height="108.7" viewBox="0 0 145.3 108.7">
<rect width="145.3" height="108.7" fill="#778ccf"/>
<g fill="#2a3a8a" opacity="0.55"><circle cx="21.0" cy="90.7" r="0.8"/><circle cx="38.0" cy="53.9" r="0.6"/><circle cx="94.1" cy="84.6" r="0.4"/><circle cx="6.0" cy="89.5" r="0.6"/><circle cx="109.7" cy="2.2" r="0.6"/><circle cx="104.0" cy="26.0" r="0.9"/><circle cx="129.4" cy="5.2" r="0.4"/><circle cx="78.5" cy="100.3" r="0.6"/><circle cx="32.6" cy="46.2" r="0.4"/><circle cx="33.3" cy="47.8" r="0.6"/><circle cx="34.9" cy="26.2" r="0.5"/><circle cx="66.9" cy="32.3" r="0.4"/><circle cx="120.3" cy="60.3" r="0.7"/><circle cx="28.3" cy="105.9" r="0.8"/><circle cx="19.1" cy="36.8" r="0.8"/><circle cx="102.5" cy="100.0" r="0.6"/><circle cx="119.3" cy="72.2" r="0.6"/><circle cx="85.0" cy="94.4" r="0.8"/><circle cx="73.4" cy="63.7" r="0.4"/><circle cx="36.3" cy="85.5" r="0.6"/><circle cx="26.4" cy="59.5" r="0.8"/><circle cx="97.3" cy="41.2" r="0.6"/><circle cx="73.8" cy="83.5" r="0.7"/><circle cx="57.6" cy="53.3" r="0.4"/><circle cx="8.1" cy="75.6" r="0.9"/><circle cx="85.8" cy="43.2" r="0.5"/><circle cx="73.0" cy="104.8" r="0.8"/><circle cx="78.2" cy="92.1" r="0.5"/></g>
<g filter="url(#soft)"><ellipse cx="73.4" cy="52" rx="52.3" ry="44.4" fill="url(#gcrC)" /></g>
<g filter="url(#emb)"><g filter="url(#bump)"><g filter="url(#rough)"><ellipse cx="83.4" cy="42.7" rx="28.4" ry="31.6" fill="#38a696" /></g></g></g>
<g filter="url(#rough)"><path d="M116 14 C122 22 126 32 124 46 C120 56 114 62 108 64 C116 52 120 34 116 14Z" fill="#161a2a" /></g>
<g filter="url(#emb)"><g filter="url(#bump)"><g filter="url(#rough)"><ellipse cx="99.5" cy="37" rx="25" ry="27.8" fill="#56aab8" /></g></g></g>
<path d="M86 12 C78 18 74 28 76 40 C78 52 86 62 98 64 C106 64 112 62 116 60" fill="none" stroke="#d8962a" stroke-width="2.5" stroke-linecap="round" stroke-linejoin="round" />
<path d="M116 60 C122 52 124 44 124 36" fill="none" stroke="#5cc84a" stroke-width="2" stroke-linecap="round" stroke-linejoin="round" />
<circle cx="11" cy="26" r="1.5" fill="#3a4a9a"/>
<rect width="145.3" height="108.7" filter="url(#tex)" opacity="0.32"/>
<rect width="145.3" height="108.7" filter="url(#texl)" opacity="0.22"/>
<rect width="145.3" height="108.7" filter="url(#grain)" opacity="0.45"/>
</svg>
<svg x="388.0" y="539.6" width="145.6" height="108.7" viewBox="0 0 145.6 108.7">
<rect width="145.6" height="108.7" fill="#778ccf"/>
<g fill="#2a3a8a" opacity="0.55"><circle cx="137.4" cy="101.2" r="0.4"/><circle cx="14.0" cy="89.5" r="0.8"/><circle cx="96.8" cy="34.3" r="0.7"/><circle cx="87.9" cy="62.9" r="0.5"/><circle cx="63.0" cy="43.2" r="0.8"/><circle cx="142.9" cy="101.4" r="0.7"/><circle cx="65.0" cy="30.1" r="0.4"/><circle cx="5.9" cy="50.7" r="0.6"/><circle cx="55.8" cy="95.4" r="0.7"/><circle cx="81.4" cy="26.7" r="0.4"/><circle cx="48.0" cy="16.3" r="0.7"/><circle cx="143.4" cy="72.6" r="0.5"/><circle cx="128.5" cy="85.4" r="0.8"/><circle cx="130.4" cy="81.9" r="0.8"/><circle cx="52.1" cy="104.7" r="0.9"/><circle cx="24.8" cy="80.9" r="0.8"/><circle cx="67.3" cy="57.5" r="0.6"/><circle cx="133.0" cy="54.4" r="0.8"/><circle cx="52.1" cy="94.4" r="0.8"/><circle cx="67.3" cy="61.4" r="0.9"/><circle cx="104.5" cy="52.9" r="0.5"/><circle cx="48.0" cy="75.2" r="0.5"/><circle cx="130.6" cy="30.1" r="0.9"/><circle cx="45.8" cy="102.2" r="0.8"/><circle cx="73.4" cy="56.2" r="0.7"/><circle cx="85.3" cy="34.7" r="0.5"/><circle cx="74.5" cy="99.8" r="0.7"/><circle cx="12.7" cy="87.9" r="0.8"/></g>
<g filter="url(#soft)"><ellipse cx="77.7" cy="52" rx="42.7" ry="44.4" fill="url(#gcrC)" /></g>
<g filter="url(#emb)"><g filter="url(#bump)"><g filter="url(#rough)"><path d="M34 22 C24 30 19 42 19 56 C20 72 28 84 40 88 C50 86 60 76 64 62 C66 46 60 30 44 21Z" fill="#38a696" /></g></g></g>
<g filter="url(#emb)"><g filter="url(#bump)"><g filter="url(#rough)"><path d="M38 25 C30 34 26 44 26 56 C27 70 33 80 42 84 C52 80 58 70 60 58 C61 44 54 32 42 25Z" fill="#4f86b4" /></g></g></g>
<path d="M34 22 C52 26 62 40 63 56 C63 72 54 84 42 88" fill="none" stroke="#e0a82a" stroke-width="2.5" stroke-linecap="round" stroke-linejoin="round" />
<circle cx="102.9" cy="57.8" r="2.2" fill="#4cb0a0"/>
<rect width="145.6" height="108.7" filter="url(#tex)" opacity="0.32"/>
<rect width="145.6" height="108.7" filter="url(#texl)" opacity="0.22"/>
<rect width="145.6" height="108.7" filter="url(#grain)" opacity="0.45"/>
</svg>
<svg x="539.1" y="539.6" width="146.0" height="108.7" viewBox="0 0 146.0 108.7">
<rect width="146.0" height="108.7" fill="#778ccf"/>
<g fill="#2a3a8a" opacity="0.55"><circle cx="35.8" cy="59.0" r="0.6"/><circle cx="87.8" cy="67.5" r="0.4"/><circle cx="3.9" cy="89.7" r="0.5"/><circle cx="35.3" cy="106.2" r="0.6"/><circle cx="120.8" cy="51.9" r="0.7"/><circle cx="23.4" cy="68.5" r="0.8"/><circle cx="76.3" cy="79.6" r="0.7"/><circle cx="11.1" cy="81.4" r="0.7"/><circle cx="44.8" cy="5.2" r="0.8"/><circle cx="69.1" cy="77.3" r="0.8"/><circle cx="103.4" cy="98.4" r="0.6"/><circle cx="115.7" cy="48.6" r="0.9"/><circle cx="126.8" cy="12.2" r="0.5"/><circle cx="32.8" cy="103.1" r="0.6"/><circle cx="91.0" cy="33.5" r="0.7"/><circle cx="56.8" cy="38.7" r="0.7"/><circle cx="85.0" cy="96.7" r="0.7"/><circle cx="133.9" cy="91.7" r="0.9"/><circle cx="97.3" cy="19.1" r="0.8"/><circle cx="139.0" cy="96.7" r="0.7"/><circle cx="103.4" cy="24.1" r="0.8"/><circle cx="83.4" cy="31.8" r="0.4"/><circle cx="123.3" cy="105.6" r="0.4"/><circle cx="115.7" cy="45.0" r="0.5"/><circle cx="43.7" cy="82.5" r="0.8"/><circle cx="8.3" cy="66.3" r="0.4"/><circle cx="104.0" cy="36.7" r="0.8"/><circle cx="141.3" cy="54.9" r="0.9"/></g>
<g filter="url(#soft)"><ellipse cx="74.4" cy="50.3" rx="47.6" ry="42.7" fill="url(#gcrC)" /></g>
<g filter="url(#soft)"><ellipse cx="70" cy="34" rx="33" ry="22" fill="#4d5eac" opacity="0.7"/></g>
<g filter="url(#emb)"><g filter="url(#bump)"><g filter="url(#rough)"><ellipse cx="71.5" cy="64.8" rx="30.7" ry="32.7" fill="#38a696" /></g></g></g>
<g filter="url(#emb)"><g filter="url(#bump)"><g filter="url(#rough)"><ellipse cx="72.5" cy="70" rx="23.5" ry="23" fill="#4f88b2" /></g></g></g>
<ellipse cx="71.5" cy="64.8" rx="26.5" ry="28" fill="none" stroke="#5cc84a" stroke-width="1.6" stroke-dasharray="4 3"/>
<path d="M96 52 C97 57 97 62 96 66" fill="none" stroke="#e0862a" stroke-width="2" stroke-linecap="round" stroke-linejoin="round" />
<rect width="146.0" height="108.7" filter="url(#tex)" opacity="0.32"/>
<rect width="146.0" height="108.7" filter="url(#texl)" opacity="0.22"/>
<rect width="146.0" height="108.7" filter="url(#grain)" opacity="0.45"/>
</svg>
<svg x="690.9" y="539.6" width="145.4" height="108.7" viewBox="0 0 145.4 108.7">
<rect width="145.4" height="108.7" fill="#778ccf"/>
<g fill="#2a3a8a" opacity="0.55"><circle cx="35.4" cy="12.8" r="0.6"/><circle cx="23.9" cy="9.0" r="0.6"/><circle cx="131.8" cy="85.8" r="0.8"/><circle cx="33.4" cy="58.2" r="0.5"/><circle cx="26.4" cy="13.1" r="0.5"/><circle cx="133.1" cy="88.8" r="0.8"/><circle cx="115.2" cy="22.3" r="0.6"/><circle cx="90.7" cy="78.6" r="0.8"/><circle cx="126.4" cy="11.1" r="0.7"/><circle cx="97.0" cy="55.0" r="0.5"/><circle cx="69.0" cy="11.4" r="0.9"/><circle cx="124.4" cy="59.3" r="0.6"/><circle cx="130.5" cy="61.9" r="0.8"/><circle cx="121.9" cy="55.2" r="0.6"/><circle cx="86.7" cy="47.1" r="0.5"/><circle cx="45.1" cy="87.1" r="0.4"/><circle cx="8.5" cy="67.6" r="0.5"/><circle cx="77.6" cy="51.3" r="0.6"/><circle cx="143.0" cy="22.5" r="0.6"/><circle cx="30.7" cy="68.2" r="0.5"/><circle cx="52.3" cy="80.2" r="0.6"/><circle cx="81.0" cy="96.7" r="0.5"/><circle cx="10.7" cy="26.0" r="0.8"/><circle cx="89.0" cy="26.9" r="0.6"/><circle cx="27.1" cy="50.1" r="0.4"/><circle cx="100.6" cy="95.8" r="0.9"/><circle cx="105.9" cy="102.5" r="0.4"/><circle cx="42.9" cy="103.1" r="0.8"/></g>
<g filter="url(#soft)"><ellipse cx="72.5" cy="53.7" rx="47" ry="43.8" fill="url(#gcrC)" /></g>
<g filter="url(#rough)"><ellipse cx="72.5" cy="53.7" rx="46" ry="43" fill="none" stroke="#4a5aaa" stroke-width="2.5"/></g>
<g filter="url(#emb)"><g filter="url(#bump)"><g filter="url(#rough)"><ellipse cx="79.2" cy="63.1" rx="33.3" ry="33.3" fill="#38a696" /></g></g></g>
<g filter="url(#emb)"><g filter="url(#bump)"><g filter="url(#rough)"><ellipse cx="78" cy="60" rx="28" ry="28" fill="#3f72aa" /></g></g></g>
<g filter="url(#emb)"><g filter="url(#bump)"><g filter="url(#rough)"><ellipse cx="85" cy="69" rx="6" ry="7" fill="#4cb0a0" /></g></g></g>
<rect width="145.4" height="108.7" filter="url(#tex)" opacity="0.32"/>
<rect width="145.4" height="108.7" filter="url(#texl)" opacity="0.22"/>
<rect width="145.4" height="108.7" filter="url(#grain)" opacity="0.45"/>
</svg>
<svg x="84.7" y="659.4" width="145.3" height="108.9" viewBox="0 0 145.3 108.9">
<rect width="145.3" height="108.9" fill="#778ccf"/>
<g fill="#2a3a8a" opacity="0.55"><circle cx="134.0" cy="42.7" r="0.8"/><circle cx="37.0" cy="52.6" r="0.5"/><circle cx="78.6" cy="9.9" r="0.6"/><circle cx="46.7" cy="6.2" r="0.8"/><circle cx="130.9" cy="17.8" r="0.7"/><circle cx="76.7" cy="46.6" r="0.7"/><circle cx="95.4" cy="31.1" r="0.6"/><circle cx="73.7" cy="106.2" r="0.9"/><circle cx="111.8" cy="50.0" r="0.9"/><circle cx="140.3" cy="94.7" r="0.5"/><circle cx="60.0" cy="25.9" r="0.6"/><circle cx="122.7" cy="53.9" r="0.6"/><circle cx="25.3" cy="16.7" r="0.8"/><circle cx="136.5" cy="95.2" r="0.4"/><circle cx="39.8" cy="16.8" r="0.6"/><circle cx="30.5" cy="53.1" r="0.6"/><circle cx="91.2" cy="56.0" r="0.7"/><circle cx="8.3" cy="100.9" r="0.6"/><circle cx="124.9" cy="36.0" r="0.4"/><circle cx="142.1" cy="53.7" r="0.5"/><circle cx="138.1" cy="99.4" r="0.5"/><circle cx="136.3" cy="15.7" r="0.5"/><circle cx="23.0" cy="93.9" r="0.7"/><circle cx="80.5" cy="75.3" r="0.5"/><circle cx="10.6" cy="10.3" r="0.5"/><circle cx="84.8" cy="9.7" r="0.4"/><circle cx="30.4" cy="3.1" r="0.4"/><circle cx="21.3" cy="14.6" r="0.6"/></g>
<ellipse cx="70" cy="52" rx="62" ry="50" fill="url(#halo)" />
<g filter="url(#rough)"><path d="M30 26 C40 14 56 12 68 18 C74 30 72 50 64 64 C54 68 40 62 30 52 C24 42 24 34 30 26Z" fill="#35469a" /></g>
<g filter="url(#rough)"><path d="M30 26 C38 16 52 13 64 16 C56 22 44 26 34 34Z" fill="#161a2a" /></g>
<path d="M36 38 C44 30 54 30 60 36" fill="none" stroke="#38a696" stroke-width="1.5" stroke-linecap="round" stroke-linejoin="round" />
<g filter="url(#emb)"><g filter="url(#bump)"><g filter="url(#rough)"><ellipse cx="56" cy="70" rx="10" ry="14" fill="#38a696" /></g></g></g>
<g filter="url(#emb)"><g filter="url(#bump)"><g filter="url(#rough)"><ellipse cx="78.4" cy="53.3" rx="32" ry="35" transform="rotate(18 78.4 53.3)" fill="url(#gring)"/><ellipse cx="79.9" cy="53.8" rx="27" ry="30" transform="rotate(18 78.4 53.3)" fill="#5cc050"/><ellipse cx="80.4" cy="54.3" rx="23" ry="26" transform="rotate(18 78.4 53.3)" fill="url(#gcy)"/><g fill="#5cc858"><ellipse cx="75.9" cy="45.7" rx="2.2" ry="1.3"/><ellipse cx="85.1" cy="48.0" rx="2.3" ry="1.4"/><ellipse cx="78.2" cy="51.1" rx="2.2" ry="1.1"/><ellipse cx="68.2" cy="35.6" rx="1.4" ry="0.9"/><ellipse cx="68.8" cy="37.1" rx="2.2" ry="0.9"/><ellipse cx="92.3" cy="35.9" rx="1.7" ry="0.9"/><ellipse cx="89.9" cy="62.1" rx="1.3" ry="1.0"/><ellipse cx="73.2" cy="67.9" rx="2.5" ry="1.3"/><ellipse cx="86.4" cy="64.5" rx="1.4" ry="1.6"/><ellipse cx="80.2" cy="77.3" rx="2.2" ry="1.2"/><ellipse cx="77.4" cy="77.2" rx="2.1" ry="1.5"/><ellipse cx="95.8" cy="63.4" rx="1.7" ry="0.8"/><ellipse cx="68.5" cy="69.6" rx="1.9" ry="1.7"/><ellipse cx="87.1" cy="53.4" rx="2.1" ry="1.2"/><ellipse cx="75.0" cy="72.3" rx="1.8" ry="1.5"/><ellipse cx="68.4" cy="60.8" rx="1.5" ry="1.7"/><ellipse cx="60.5" cy="47.0" rx="2.1" ry="1.6"/><ellipse cx="64.1" cy="65.1" rx="2.0" ry="1.0"/><ellipse cx="64.7" cy="57.4" rx="1.7" ry="0.9"/><ellipse cx="81.5" cy="30.6" rx="2.6" ry="1.3"/><ellipse cx="85.0" cy="67.5" rx="2.3" ry="1.6"/><ellipse cx="82.1" cy="64.9" rx="1.7" ry="0.9"/><ellipse cx="91.9" cy="59.6" rx="2.4" ry="1.1"/><ellipse cx="74.5" cy="46.1" rx="1.8" ry="0.9"/><ellipse cx="62.0" cy="56.7" rx="2.1" ry="1.6"/><ellipse cx="79.3" cy="68.6" rx="1.2" ry="1.6"/><ellipse cx="71.5" cy="71.6" rx="2.4" ry="1.0"/><ellipse cx="95.1" cy="56.7" rx="2.3" ry="1.2"/><ellipse cx="82.6" cy="61.4" rx="1.7" ry="1.1"/><ellipse cx="97.5" cy="58.6" rx="2.5" ry="1.4"/><ellipse cx="89.6" cy="50.4" rx="1.5" ry="1.2"/><ellipse cx="74.2" cy="43.8" rx="1.9" ry="1.2"/><ellipse cx="90.2" cy="53.2" rx="2.0" ry="1.5"/><ellipse cx="63.6" cy="40.5" rx="1.8" ry="1.7"/></g><g fill="#a8ece4"><ellipse cx="80.1" cy="66.6" rx="1.5" ry="1.1"/><ellipse cx="86.0" cy="67.4" rx="1.2" ry="1.0"/><ellipse cx="79.7" cy="70.1" rx="1.9" ry="1.2"/><ellipse cx="74.1" cy="34.9" rx="2.0" ry="1.0"/><ellipse cx="65.4" cy="53.3" rx="2.0" ry="1.0"/><ellipse cx="64.3" cy="55.3" rx="1.5" ry="1.1"/><ellipse cx="89.6" cy="64.4" rx="1.5" ry="0.7"/><ellipse cx="85.5" cy="66.5" rx="1.5" ry="1.3"/><ellipse cx="86.6" cy="76.1" rx="1.9" ry="0.8"/><ellipse cx="86.5" cy="53.2" rx="1.8" ry="0.7"/><ellipse cx="63.0" cy="65.0" rx="1.1" ry="1.0"/><ellipse cx="69.4" cy="65.8" rx="1.1" ry="0.9"/><ellipse cx="78.5" cy="69.2" rx="2.0" ry="1.0"/><ellipse cx="63.7" cy="47.4" rx="1.1" ry="1.3"/></g></g></g></g><g filter="url(#emb)"><g filter="url(#bump)"><path d="M49.6 60.8 L49.3 58.5 L49.1 56.2 L49.1 53.9 L49.3 51.6 L49.6 49.3 L50.1 47.0 L50.7 44.8 L51.4 42.6 L52.3 40.4 L53.4 38.4 L54.6 36.4 L55.9 34.5 L57.3 32.7 L58.8 31.0 L60.5 29.4 L62.2 27.9 L64.0 26.6 L65.9 25.4 L67.8 24.4 L69.9 23.5 L71.9 22.8 L74.0 22.3 L76.1 21.9 L78.3 21.6" fill="none" stroke="#48b47c" stroke-width="12.3" stroke-linecap="round" stroke-linejoin="round"/><path d="M49.6 60.8 L49.3 58.5 L49.1 56.2 L49.1 53.9 L49.3 51.6 L49.6 49.3 L50.1 47.0 L50.7 44.8 L51.4 42.6 L52.3 40.4 L53.4 38.4 L54.6 36.4 L55.9 34.5 L57.3 32.7 L58.8 31.0 L60.5 29.4 L62.2 27.9 L64.0 26.6 L65.9 25.4 L67.8 24.4 L69.9 23.5 L71.9 22.8 L74.0 22.3 L76.1 21.9 L78.3 21.6" fill="none" stroke="#5cc64c" stroke-width="9.8" stroke-linecap="round" stroke-linejoin="round"/><path d="M49.6 60.8 L49.3 58.5 L49.1 56.2 L49.1 53.9 L49.3 51.6 L49.6 49.3 L50.1 47.0 L50.7 44.8 L51.4 42.6 L52.3 40.4 L53.4 38.4 L54.6 36.4 L55.9 34.5 L57.3 32.7 L58.8 31.0 L60.5 29.4 L62.2 27.9 L64.0 26.6 L65.9 25.4 L67.8 24.4 L69.9 23.5 L71.9 22.8 L74.0 22.3 L76.1 21.9 L78.3 21.6" fill="none" stroke="#c0b038" stroke-width="7.2" stroke-linecap="round" stroke-linejoin="round"/><path d="M49.6 60.8 L49.3 58.5 L49.1 56.2 L49.1 53.9 L49.3 51.6 L49.6 49.3 L50.1 47.0 L50.7 44.8 L51.4 42.6 L52.3 40.4 L53.4 38.4 L54.6 36.4 L55.9 34.5 L57.3 32.7 L58.8 31.0 L60.5 29.4 L62.2 27.9 L64.0 26.6 L65.9 25.4 L67.8 24.4 L69.9 23.5 L71.9 22.8 L74.0 22.3 L76.1 21.9 L78.3 21.6" fill="none" stroke="#e07a2a" stroke-width="5.6" stroke-linecap="round" stroke-linejoin="round"/><path d="M49.6 60.8 L49.3 58.5 L49.1 56.2 L49.1 53.9 L49.3 51.6 L49.6 49.3 L50.1 47.0 L50.7 44.8 L51.4 42.6 L52.3 40.4 L53.4 38.4 L54.6 36.4 L55.9 34.5 L57.3 32.7 L58.8 31.0 L60.5 29.4 L62.2 27.9 L64.0 26.6 L65.9 25.4 L67.8 24.4 L69.9 23.5 L71.9 22.8 L74.0 22.3 L76.1 21.9 L78.3 21.6" fill="none" stroke="#d03a1c" stroke-width="4" stroke-linecap="round" stroke-linejoin="round"/></g></g>
<rect width="145.3" height="108.9" filter="url(#tex)" opacity="0.32"/>
<rect width="145.3" height="108.9" filter="url(#texl)" opacity="0.22"/>
<rect width="145.3" height="108.9" filter="url(#grain)" opacity="0.45"/>
<rect x="126.8" y="98.9" width="10" height="2.2" fill="#fff"/>
</svg>
<svg x="236.5" y="659.4" width="145.3" height="108.9" viewBox="0 0 145.3 108.9">
<rect width="145.3" height="108.9" fill="#778ccf"/>
<g fill="#2a3a8a" opacity="0.55"><circle cx="65.9" cy="60.7" r="0.9"/><circle cx="67.8" cy="55.3" r="0.7"/><circle cx="28.1" cy="55.7" r="0.7"/><circle cx="114.0" cy="11.9" r="0.6"/><circle cx="14.8" cy="86.9" r="0.7"/><circle cx="7.9" cy="105.0" r="0.9"/><circle cx="94.4" cy="66.6" r="0.5"/><circle cx="4.1" cy="57.4" r="0.4"/><circle cx="28.9" cy="27.4" r="0.4"/><circle cx="67.6" cy="48.2" r="0.8"/><circle cx="75.4" cy="69.2" r="0.6"/><circle cx="95.6" cy="50.0" r="0.5"/><circle cx="143.0" cy="106.4" r="0.8"/><circle cx="102.0" cy="35.1" r="0.5"/><circle cx="42.8" cy="9.4" r="0.8"/><circle cx="58.6" cy="90.8" r="0.6"/><circle cx="137.4" cy="90.9" r="0.4"/><circle cx="31.6" cy="97.5" r="0.6"/><circle cx="140.5" cy="43.7" r="0.4"/><circle cx="90.9" cy="83.7" r="0.5"/><circle cx="14.3" cy="36.9" r="0.9"/><circle cx="109.1" cy="14.4" r="0.5"/><circle cx="16.3" cy="8.3" r="0.8"/><circle cx="27.1" cy="60.7" r="0.6"/><circle cx="28.9" cy="78.8" r="0.5"/><circle cx="93.0" cy="14.2" r="0.6"/><circle cx="32.1" cy="30.3" r="0.9"/><circle cx="115.5" cy="33.9" r="0.8"/></g>
<ellipse cx="72" cy="54" rx="60" ry="48" fill="url(#halo)" />
<g filter="url(#emb)"><g filter="url(#bump)"><g filter="url(#rough)"><path d="M24 42 C34 38 46 40 52 48 C56 62 56 80 48 90 C38 92 26 86 20 76 C16 62 18 50 24 42Z" fill="#3a9c9c" /></g></g></g>
<g filter="url(#rough)"><path d="M22 78 C28 88 36 92 46 92" fill="none" stroke="#161a2a" stroke-width="3" stroke-linecap="round" stroke-linejoin="round" /></g>
<g filter="url(#emb)"><g filter="url(#bump)"><g filter="url(#rough)"><ellipse cx="74" cy="54" rx="30.4" ry="36.8" transform="rotate(0 74 54)" fill="url(#gring)"/><ellipse cx="75.5" cy="54.5" rx="25.4" ry="31.8" transform="rotate(0 74 54)" fill="#5cc050"/><ellipse cx="76" cy="55" rx="21.4" ry="27.8" transform="rotate(0 74 54)" fill="url(#gcy)"/><g fill="#5cc858"><ellipse cx="95.0" cy="49.3" rx="1.6" ry="1.4"/><ellipse cx="65.7" cy="54.1" rx="2.2" ry="1.0"/><ellipse cx="87.6" cy="35.1" rx="1.5" ry="1.6"/><ellipse cx="84.7" cy="61.1" rx="1.7" ry="1.3"/><ellipse cx="64.5" cy="59.2" rx="2.5" ry="1.0"/><ellipse cx="69.7" cy="74.4" rx="2.6" ry="1.1"/><ellipse cx="76.5" cy="33.1" rx="2.2" ry="0.9"/><ellipse cx="68.7" cy="74.3" rx="2.5" ry="1.1"/><ellipse cx="92.1" cy="67.9" rx="1.4" ry="1.1"/><ellipse cx="72.9" cy="31.0" rx="1.4" ry="0.9"/><ellipse cx="57.6" cy="57.4" rx="1.4" ry="1.8"/><ellipse cx="78.7" cy="58.0" rx="2.6" ry="1.5"/><ellipse cx="70.3" cy="57.1" rx="2.1" ry="1.0"/><ellipse cx="74.2" cy="71.4" rx="1.5" ry="1.7"/><ellipse cx="76.5" cy="72.2" rx="2.1" ry="0.9"/><ellipse cx="72.7" cy="72.7" rx="2.3" ry="1.5"/><ellipse cx="78.4" cy="77.2" rx="1.3" ry="0.9"/><ellipse cx="91.7" cy="49.0" rx="2.4" ry="1.0"/><ellipse cx="80.8" cy="74.4" rx="2.3" ry="1.3"/><ellipse cx="84.3" cy="68.8" rx="2.0" ry="1.8"/><ellipse cx="83.6" cy="72.8" rx="2.6" ry="1.2"/><ellipse cx="63.5" cy="52.2" rx="1.8" ry="1.5"/><ellipse cx="74.6" cy="40.6" rx="2.0" ry="1.4"/><ellipse cx="77.1" cy="70.6" rx="1.6" ry="1.4"/><ellipse cx="75.4" cy="42.3" rx="2.4" ry="1.2"/><ellipse cx="74.3" cy="39.1" rx="2.1" ry="1.0"/><ellipse cx="76.2" cy="54.9" rx="1.9" ry="1.0"/><ellipse cx="76.1" cy="42.0" rx="2.0" ry="1.2"/><ellipse cx="73.3" cy="46.8" rx="2.3" ry="1.0"/><ellipse cx="75.2" cy="79.0" rx="1.9" ry="1.7"/><ellipse cx="75.6" cy="29.4" rx="2.6" ry="1.2"/><ellipse cx="84.2" cy="56.6" rx="2.5" ry="1.0"/><ellipse cx="66.7" cy="60.4" rx="2.2" ry="1.4"/><ellipse cx="69.9" cy="32.8" rx="1.7" ry="1.8"/></g><g fill="#a8ece4"><ellipse cx="70.6" cy="38.2" rx="1.8" ry="1.3"/><ellipse cx="68.3" cy="42.7" rx="1.8" ry="0.8"/><ellipse cx="75.4" cy="38.1" rx="1.4" ry="0.7"/><ellipse cx="85.0" cy="38.0" rx="1.4" ry="1.3"/><ellipse cx="73.1" cy="80.0" rx="1.3" ry="1.4"/><ellipse cx="69.4" cy="31.2" rx="1.5" ry="1.1"/><ellipse cx="67.8" cy="75.6" rx="1.7" ry="0.7"/><ellipse cx="60.5" cy="49.7" rx="1.6" ry="1.3"/><ellipse cx="59.5" cy="54.6" rx="1.5" ry="1.0"/><ellipse cx="79.2" cy="55.6" rx="1.5" ry="1.3"/><ellipse cx="62.8" cy="52.2" rx="1.4" ry="1.2"/><ellipse cx="70.5" cy="52.6" rx="1.5" ry="1.3"/><ellipse cx="66.7" cy="36.8" rx="1.2" ry="1.3"/><ellipse cx="74.0" cy="39.8" rx="1.1" ry="0.9"/></g></g></g></g><g filter="url(#emb)"><g filter="url(#bump)"><path d="M56.4 79.9 L54.6 77.9 L53.0 75.7 L51.6 73.4 L50.3 70.9 L49.2 68.3 L48.3 65.6 L47.5 62.7 L47.0 59.9 L46.7 56.9 L46.6 54.0 L46.7 51.1 L47.0 48.1 L47.5 45.3 L48.3 42.4 L49.2 39.7 L50.3 37.1 L51.6 34.6 L53.0 32.3 L54.6 30.1 L56.4 28.1 L58.3 26.3 L60.3 24.7 L62.4 23.4 L64.6 22.2" fill="none" stroke="#48b47c" stroke-width="13.3" stroke-linecap="round" stroke-linejoin="round"/><path d="M56.4 79.9 L54.6 77.9 L53.0 75.7 L51.6 73.4 L50.3 70.9 L49.2 68.3 L48.3 65.6 L47.5 62.7 L47.0 59.9 L46.7 56.9 L46.6 54.0 L46.7 51.1 L47.0 48.1 L47.5 45.3 L48.3 42.4 L49.2 39.7 L50.3 37.1 L51.6 34.6 L53.0 32.3 L54.6 30.1 L56.4 28.1 L58.3 26.3 L60.3 24.7 L62.4 23.4 L64.6 22.2" fill="none" stroke="#5cc64c" stroke-width="10.8" stroke-linecap="round" stroke-linejoin="round"/><path d="M56.4 79.9 L54.6 77.9 L53.0 75.7 L51.6 73.4 L50.3 70.9 L49.2 68.3 L48.3 65.6 L47.5 62.7 L47.0 59.9 L46.7 56.9 L46.6 54.0 L46.7 51.1 L47.0 48.1 L47.5 45.3 L48.3 42.4 L49.2 39.7 L50.3 37.1 L51.6 34.6 L53.0 32.3 L54.6 30.1 L56.4 28.1 L58.3 26.3 L60.3 24.7 L62.4 23.4 L64.6 22.2" fill="none" stroke="#c0b038" stroke-width="8.2" stroke-linecap="round" stroke-linejoin="round"/><path d="M56.4 79.9 L54.6 77.9 L53.0 75.7 L51.6 73.4 L50.3 70.9 L49.2 68.3 L48.3 65.6 L47.5 62.7 L47.0 59.9 L46.7 56.9 L46.6 54.0 L46.7 51.1 L47.0 48.1 L47.5 45.3 L48.3 42.4 L49.2 39.7 L50.3 37.1 L51.6 34.6 L53.0 32.3 L54.6 30.1 L56.4 28.1 L58.3 26.3 L60.3 24.7 L62.4 23.4 L64.6 22.2" fill="none" stroke="#e07a2a" stroke-width="6.6" stroke-linecap="round" stroke-linejoin="round"/><path d="M56.4 79.9 L54.6 77.9 L53.0 75.7 L51.6 73.4 L50.3 70.9 L49.2 68.3 L48.3 65.6 L47.5 62.7 L47.0 59.9 L46.7 56.9 L46.6 54.0 L46.7 51.1 L47.0 48.1 L47.5 45.3 L48.3 42.4 L49.2 39.7 L50.3 37.1 L51.6 34.6 L53.0 32.3 L54.6 30.1 L56.4 28.1 L58.3 26.3 L60.3 24.7 L62.4 23.4 L64.6 22.2" fill="none" stroke="#d03a1c" stroke-width="5" stroke-linecap="round" stroke-linejoin="round"/></g></g>
<rect width="145.3" height="108.9" filter="url(#tex)" opacity="0.32"/>
<rect width="145.3" height="108.9" filter="url(#texl)" opacity="0.22"/>
<rect width="145.3" height="108.9" filter="url(#grain)" opacity="0.45"/>
</svg>
<svg x="388.0" y="659.4" width="145.6" height="108.9" viewBox="0 0 145.6 108.9">
<rect width="145.6" height="108.9" fill="#778ccf"/>
<g fill="#2a3a8a" opacity="0.55"><circle cx="69.2" cy="71.0" r="0.7"/><circle cx="22.2" cy="3.1" r="0.6"/><circle cx="40.8" cy="87.0" r="0.7"/><circle cx="87.2" cy="60.6" r="0.7"/><circle cx="22.6" cy="48.2" r="0.5"/><circle cx="130.3" cy="8.2" r="0.8"/><circle cx="12.6" cy="74.1" r="0.6"/><circle cx="59.3" cy="90.4" r="0.4"/><circle cx="10.6" cy="98.0" r="0.7"/><circle cx="14.9" cy="105.6" r="0.9"/><circle cx="17.9" cy="46.4" r="0.5"/><circle cx="46.3" cy="67.2" r="0.5"/><circle cx="100.7" cy="7.4" r="0.5"/><circle cx="117.5" cy="44.0" r="0.6"/><circle cx="86.4" cy="52.0" r="0.6"/><circle cx="6.3" cy="78.2" r="0.9"/><circle cx="140.2" cy="71.6" r="0.6"/><circle cx="53.4" cy="74.4" r="0.7"/><circle cx="18.1" cy="26.6" r="0.6"/><circle cx="74.4" cy="87.0" r="0.7"/><circle cx="6.0" cy="88.3" r="0.6"/><circle cx="75.5" cy="25.3" r="0.6"/><circle cx="57.0" cy="83.0" r="0.5"/><circle cx="79.9" cy="20.7" r="0.7"/><circle cx="7.2" cy="31.0" r="0.6"/><circle cx="92.2" cy="7.5" r="0.6"/><circle cx="31.6" cy="31.6" r="0.6"/><circle cx="137.8" cy="52.5" r="0.9"/></g>
<ellipse cx="72" cy="54" rx="60" ry="48" fill="url(#halo)" />
<g filter="url(#rough)"><path d="M32 28 C36 14 50 10 64 12 C72 16 72 24 66 28 C54 26 42 28 36 34Z" fill="#161a2a" /></g>
<g filter="url(#rough)"><path d="M32 30 C40 28 48 32 50 40 C48 50 40 56 34 50 C30 44 30 36 32 30Z" fill="#35469a" /></g>
<g filter="url(#emb)"><g filter="url(#bump)"><g filter="url(#rough)"><path d="M40 46 C46 42 52 44 54 50 C56 64 58 78 60 86 C50 86 42 80 40 70Z" fill="#3a9c9c" /></g></g></g>
<g filter="url(#emb)"><g filter="url(#bump)"><g filter="url(#rough)"><ellipse cx="77" cy="54.5" rx="31.5" ry="32.2" transform="rotate(0 77 54.5)" fill="url(#gring)"/><ellipse cx="78.5" cy="55" rx="26.5" ry="27.2" transform="rotate(0 77 54.5)" fill="#5cc050"/><ellipse cx="79" cy="55.5" rx="22.5" ry="23.2" transform="rotate(0 77 54.5)" fill="url(#gcy)"/><g fill="#5cc858"><ellipse cx="98.0" cy="49.3" rx="2.1" ry="0.9"/><ellipse cx="88.0" cy="50.2" rx="2.1" ry="1.4"/><ellipse cx="68.9" cy="42.2" rx="1.5" ry="1.3"/><ellipse cx="98.3" cy="55.7" rx="1.4" ry="1.3"/><ellipse cx="66.2" cy="43.1" rx="2.3" ry="1.2"/><ellipse cx="93.1" cy="47.7" rx="1.3" ry="1.1"/><ellipse cx="87.6" cy="40.5" rx="1.2" ry="1.6"/><ellipse cx="72.7" cy="52.3" rx="2.4" ry="1.2"/><ellipse cx="83.3" cy="67.3" rx="2.3" ry="1.7"/><ellipse cx="65.5" cy="71.0" rx="2.4" ry="1.3"/><ellipse cx="80.5" cy="50.5" rx="2.3" ry="1.2"/><ellipse cx="76.0" cy="46.2" rx="2.1" ry="1.8"/><ellipse cx="78.7" cy="54.5" rx="2.1" ry="1.5"/><ellipse cx="84.8" cy="53.0" rx="1.7" ry="1.3"/><ellipse cx="82.4" cy="45.9" rx="1.5" ry="1.0"/><ellipse cx="69.7" cy="70.9" rx="2.6" ry="1.4"/><ellipse cx="64.1" cy="59.1" rx="1.5" ry="1.4"/><ellipse cx="79.1" cy="49.9" rx="2.0" ry="1.7"/><ellipse cx="83.7" cy="69.8" rx="2.0" ry="1.6"/><ellipse cx="74.3" cy="54.7" rx="1.3" ry="1.3"/><ellipse cx="63.2" cy="56.7" rx="2.2" ry="1.4"/><ellipse cx="73.4" cy="72.5" rx="1.2" ry="1.4"/><ellipse cx="85.7" cy="70.2" rx="2.1" ry="1.2"/><ellipse cx="95.8" cy="51.8" rx="1.5" ry="1.3"/><ellipse cx="92.2" cy="54.7" rx="1.3" ry="1.3"/><ellipse cx="76.8" cy="34.8" rx="2.0" ry="0.9"/><ellipse cx="71.3" cy="49.8" rx="1.3" ry="1.5"/><ellipse cx="69.2" cy="60.5" rx="1.4" ry="1.0"/><ellipse cx="97.5" cy="51.6" rx="1.7" ry="1.6"/><ellipse cx="59.3" cy="56.1" rx="2.5" ry="1.8"/><ellipse cx="76.2" cy="48.8" rx="1.2" ry="1.0"/><ellipse cx="86.0" cy="36.6" rx="1.7" ry="1.7"/><ellipse cx="74.6" cy="61.2" rx="2.4" ry="1.1"/><ellipse cx="81.2" cy="75.1" rx="1.6" ry="1.3"/></g><g fill="#a8ece4"><ellipse cx="82.6" cy="50.3" rx="1.6" ry="0.8"/><ellipse cx="72.1" cy="72.2" rx="1.0" ry="1.0"/><ellipse cx="62.9" cy="61.9" rx="1.6" ry="0.9"/><ellipse cx="89.9" cy="57.1" rx="1.8" ry="1.3"/><ellipse cx="90.3" cy="68.6" rx="1.3" ry="1.4"/><ellipse cx="76.0" cy="66.2" rx="1.9" ry="0.8"/><ellipse cx="88.2" cy="69.9" rx="1.4" ry="0.9"/><ellipse cx="85.7" cy="53.7" rx="1.4" ry="1.0"/><ellipse cx="63.9" cy="48.3" rx="1.5" ry="0.9"/><ellipse cx="69.7" cy="39.7" rx="1.2" ry="1.1"/><ellipse cx="71.1" cy="43.4" rx="1.6" ry="0.9"/><ellipse cx="73.3" cy="48.7" rx="1.1" ry="1.1"/><ellipse cx="64.2" cy="48.0" rx="1.2" ry="0.9"/><ellipse cx="74.6" cy="59.2" rx="1.9" ry="1.4"/></g></g></g></g><g filter="url(#emb)"><g filter="url(#bump)"><path d="M62.8 79.8 L59.8 77.8 L57.1 75.4 L54.8 72.8 L52.7 69.8 L51.1 66.6 L49.8 63.3 L49.0 59.8 L48.5 56.2 L48.6 52.6 L49.0 49.0 L49.9 45.5 L51.2 42.2 L52.9 39.0 L54.9 36.1 L57.3 33.4 L60.0 31.1 L62.9 29.1 L66.1 27.5 L69.4 26.4 L72.9 25.6 L76.4 25.3 L79.9 25.5 L83.4 26.0 L86.7 27.1" fill="none" stroke="#48b47c" stroke-width="14.3" stroke-linecap="round" stroke-linejoin="round"/><path d="M62.8 79.8 L59.8 77.8 L57.1 75.4 L54.8 72.8 L52.7 69.8 L51.1 66.6 L49.8 63.3 L49.0 59.8 L48.5 56.2 L48.6 52.6 L49.0 49.0 L49.9 45.5 L51.2 42.2 L52.9 39.0 L54.9 36.1 L57.3 33.4 L60.0 31.1 L62.9 29.1 L66.1 27.5 L69.4 26.4 L72.9 25.6 L76.4 25.3 L79.9 25.5 L83.4 26.0 L86.7 27.1" fill="none" stroke="#5cc64c" stroke-width="11.8" stroke-linecap="round" stroke-linejoin="round"/><path d="M62.8 79.8 L59.8 77.8 L57.1 75.4 L54.8 72.8 L52.7 69.8 L51.1 66.6 L49.8 63.3 L49.0 59.8 L48.5 56.2 L48.6 52.6 L49.0 49.0 L49.9 45.5 L51.2 42.2 L52.9 39.0 L54.9 36.1 L57.3 33.4 L60.0 31.1 L62.9 29.1 L66.1 27.5 L69.4 26.4 L72.9 25.6 L76.4 25.3 L79.9 25.5 L83.4 26.0 L86.7 27.1" fill="none" stroke="#c0b038" stroke-width="9.2" stroke-linecap="round" stroke-linejoin="round"/><path d="M62.8 79.8 L59.8 77.8 L57.1 75.4 L54.8 72.8 L52.7 69.8 L51.1 66.6 L49.8 63.3 L49.0 59.8 L48.5 56.2 L48.6 52.6 L49.0 49.0 L49.9 45.5 L51.2 42.2 L52.9 39.0 L54.9 36.1 L57.3 33.4 L60.0 31.1 L62.9 29.1 L66.1 27.5 L69.4 26.4 L72.9 25.6 L76.4 25.3 L79.9 25.5 L83.4 26.0 L86.7 27.1" fill="none" stroke="#e07a2a" stroke-width="7.6" stroke-linecap="round" stroke-linejoin="round"/><path d="M62.8 79.8 L59.8 77.8 L57.1 75.4 L54.8 72.8 L52.7 69.8 L51.1 66.6 L49.8 63.3 L49.0 59.8 L48.5 56.2 L48.6 52.6 L49.0 49.0 L49.9 45.5 L51.2 42.2 L52.9 39.0 L54.9 36.1 L57.3 33.4 L60.0 31.1 L62.9 29.1 L66.1 27.5 L69.4 26.4 L72.9 25.6 L76.4 25.3 L79.9 25.5 L83.4 26.0 L86.7 27.1" fill="none" stroke="#d03a1c" stroke-width="6" stroke-linecap="round" stroke-linejoin="round"/></g></g>
<g filter="url(#emb)"><g filter="url(#bump)"><path d="M52 40 C58 30 70 26 84 26" fill="none" stroke="#48b47c" stroke-width="15.3" stroke-linecap="round" stroke-linejoin="round"/><path d="M52 40 C58 30 70 26 84 26" fill="none" stroke="#5cc64c" stroke-width="12.8" stroke-linecap="round" stroke-linejoin="round"/><path d="M52 40 C58 30 70 26 84 26" fill="none" stroke="#c0b038" stroke-width="10.2" stroke-linecap="round" stroke-linejoin="round"/><path d="M52 40 C58 30 70 26 84 26" fill="none" stroke="#e07a2a" stroke-width="8.6" stroke-linecap="round" stroke-linejoin="round"/><path d="M52 40 C58 30 70 26 84 26" fill="none" stroke="#d03a1c" stroke-width="7" stroke-linecap="round" stroke-linejoin="round"/></g></g>
<rect width="145.6" height="108.9" filter="url(#tex)" opacity="0.32"/>
<rect width="145.6" height="108.9" filter="url(#texl)" opacity="0.22"/>
<rect width="145.6" height="108.9" filter="url(#grain)" opacity="0.45"/>
</svg>
<svg x="539.1" y="659.4" width="146.0" height="108.9" viewBox="0 0 146.0 108.9">
<rect width="146.0" height="108.9" fill="#778ccf"/>
<g fill="#2a3a8a" opacity="0.55"><circle cx="38.8" cy="73.9" r="0.7"/><circle cx="122.6" cy="21.5" r="0.5"/><circle cx="22.9" cy="25.6" r="0.8"/><circle cx="20.5" cy="57.7" r="0.5"/><circle cx="43.8" cy="47.3" r="0.8"/><circle cx="88.4" cy="3.5" r="0.5"/><circle cx="22.8" cy="93.4" r="0.8"/><circle cx="116.5" cy="88.7" r="0.8"/><circle cx="136.8" cy="85.3" r="0.5"/><circle cx="122.7" cy="53.1" r="0.8"/><circle cx="82.1" cy="47.1" r="0.6"/><circle cx="63.0" cy="34.9" r="0.5"/><circle cx="118.4" cy="85.7" r="0.9"/><circle cx="100.1" cy="60.1" r="0.8"/><circle cx="21.1" cy="73.0" r="0.6"/><circle cx="27.1" cy="23.3" r="0.7"/><circle cx="38.0" cy="50.2" r="0.7"/><circle cx="58.2" cy="15.7" r="0.6"/><circle cx="35.4" cy="26.7" r="0.5"/><circle cx="54.0" cy="9.7" r="0.7"/><circle cx="137.4" cy="42.9" r="0.8"/><circle cx="134.5" cy="6.5" r="0.5"/><circle cx="116.5" cy="89.9" r="0.7"/><circle cx="24.7" cy="45.4" r="0.8"/><circle cx="127.8" cy="86.3" r="0.5"/><circle cx="123.2" cy="41.3" r="0.8"/><circle cx="21.5" cy="103.9" r="0.7"/><circle cx="104.6" cy="24.2" r="0.7"/></g>
<ellipse cx="70" cy="54" rx="58" ry="48" fill="url(#halo)" />
<g filter="url(#rough)"><path d="M26 36 C32 30 44 30 50 36 C52 52 52 68 46 80 C36 82 26 76 22 66 C20 54 22 42 26 36Z" fill="#3a4ea6" /></g>
<g filter="url(#emb)"><g filter="url(#bump)"><g filter="url(#rough)"><path d="M22 58 C24 54 28 56 30 62 C30 70 28 76 24 76 C22 70 22 64 22 58Z" fill="#38a696" /></g></g></g>
<g filter="url(#emb)"><g filter="url(#bump)"><g filter="url(#rough)"><path d="M48 24 C54 20 62 20 66 24 C58 30 54 40 52 48Z" fill="#38a696" /></g></g></g>
<g filter="url(#emb)"><g filter="url(#bump)"><g filter="url(#rough)"><ellipse cx="76.2" cy="54.8" rx="28.4" ry="33.6" transform="rotate(0 76.2 54.8)" fill="url(#gring)"/><ellipse cx="77.7" cy="55.3" rx="23.4" ry="28.6" transform="rotate(0 76.2 54.8)" fill="#5cc050"/><ellipse cx="78.2" cy="55.8" rx="19.4" ry="24.6" transform="rotate(0 76.2 54.8)" fill="url(#gcy)"/><g fill="#5cc858"><ellipse cx="74.4" cy="42.0" rx="2.5" ry="1.2"/><ellipse cx="63.4" cy="48.3" rx="1.9" ry="0.9"/><ellipse cx="73.5" cy="39.4" rx="2.0" ry="0.9"/><ellipse cx="66.2" cy="45.2" rx="1.4" ry="0.9"/><ellipse cx="63.6" cy="61.3" rx="1.7" ry="1.3"/><ellipse cx="76.8" cy="68.5" rx="2.1" ry="1.6"/><ellipse cx="74.0" cy="54.8" rx="1.6" ry="1.6"/><ellipse cx="79.4" cy="41.8" rx="1.5" ry="1.4"/><ellipse cx="77.3" cy="48.3" rx="1.9" ry="1.3"/><ellipse cx="65.6" cy="71.9" rx="2.0" ry="0.9"/><ellipse cx="93.2" cy="61.1" rx="2.0" ry="1.1"/><ellipse cx="72.8" cy="72.7" rx="2.3" ry="1.5"/><ellipse cx="90.2" cy="69.0" rx="2.2" ry="1.8"/><ellipse cx="91.8" cy="56.8" rx="2.1" ry="1.2"/><ellipse cx="88.0" cy="67.7" rx="2.1" ry="1.5"/><ellipse cx="90.7" cy="46.2" rx="1.4" ry="1.7"/><ellipse cx="75.1" cy="38.9" rx="2.0" ry="0.9"/><ellipse cx="85.2" cy="71.0" rx="1.4" ry="1.5"/><ellipse cx="64.3" cy="67.0" rx="2.5" ry="1.7"/><ellipse cx="81.6" cy="42.0" rx="2.3" ry="0.9"/><ellipse cx="66.4" cy="45.3" rx="2.0" ry="0.9"/><ellipse cx="70.8" cy="42.9" rx="1.7" ry="1.8"/><ellipse cx="75.9" cy="50.6" rx="2.1" ry="1.2"/><ellipse cx="73.1" cy="44.2" rx="1.6" ry="1.2"/><ellipse cx="81.5" cy="41.6" rx="2.4" ry="0.9"/><ellipse cx="79.6" cy="53.2" rx="1.8" ry="1.1"/><ellipse cx="77.7" cy="56.9" rx="2.3" ry="1.6"/><ellipse cx="84.4" cy="74.2" rx="1.9" ry="1.8"/><ellipse cx="65.7" cy="51.6" rx="2.5" ry="1.3"/><ellipse cx="86.1" cy="56.8" rx="1.4" ry="1.2"/><ellipse cx="89.5" cy="43.9" rx="1.4" ry="1.2"/><ellipse cx="63.5" cy="50.9" rx="1.7" ry="1.0"/><ellipse cx="75.2" cy="58.8" rx="1.6" ry="1.8"/><ellipse cx="72.3" cy="64.7" rx="2.5" ry="1.2"/></g><g fill="#a8ece4"><ellipse cx="86.9" cy="37.9" rx="1.5" ry="0.9"/><ellipse cx="83.1" cy="52.6" rx="1.7" ry="0.8"/><ellipse cx="88.0" cy="58.8" rx="1.2" ry="1.3"/><ellipse cx="75.3" cy="54.6" rx="1.3" ry="1.0"/><ellipse cx="66.3" cy="49.7" rx="2.0" ry="0.8"/><ellipse cx="92.7" cy="55.1" rx="1.8" ry="0.9"/><ellipse cx="66.1" cy="58.1" rx="1.2" ry="0.8"/><ellipse cx="82.7" cy="36.3" rx="1.2" ry="1.2"/><ellipse cx="73.1" cy="75.4" rx="1.2" ry="1.2"/><ellipse cx="73.2" cy="74.2" rx="1.9" ry="1.3"/><ellipse cx="63.7" cy="66.8" rx="1.1" ry="1.3"/><ellipse cx="71.4" cy="57.3" rx="1.7" ry="0.8"/><ellipse cx="64.1" cy="62.7" rx="2.0" ry="1.3"/><ellipse cx="80.0" cy="78.2" rx="1.6" ry="1.0"/></g></g></g></g><g filter="url(#emb)"><g filter="url(#bump)"><path d="M61.6 79.9 L59.8 78.2 L58.1 76.3 L56.6 74.2 L55.2 72.0 L54.0 69.6 L53.0 67.1 L52.1 64.5 L51.5 61.9 L51.1 59.1 L50.8 56.4 L50.8 53.6 L51.0 50.8 L51.4 48.1 L52.0 45.4 L52.8 42.8 L53.8 40.3 L55.0 37.9 L56.4 35.6 L57.9 33.6 L59.6 31.6 L61.4 29.9 L63.3 28.4 L65.4 27.1 L67.5 26.0" fill="none" stroke="#48b47c" stroke-width="13.3" stroke-linecap="round" stroke-linejoin="round"/><path d="M61.6 79.9 L59.8 78.2 L58.1 76.3 L56.6 74.2 L55.2 72.0 L54.0 69.6 L53.0 67.1 L52.1 64.5 L51.5 61.9 L51.1 59.1 L50.8 56.4 L50.8 53.6 L51.0 50.8 L51.4 48.1 L52.0 45.4 L52.8 42.8 L53.8 40.3 L55.0 37.9 L56.4 35.6 L57.9 33.6 L59.6 31.6 L61.4 29.9 L63.3 28.4 L65.4 27.1 L67.5 26.0" fill="none" stroke="#5cc64c" stroke-width="10.8" stroke-linecap="round" stroke-linejoin="round"/><path d="M61.6 79.9 L59.8 78.2 L58.1 76.3 L56.6 74.2 L55.2 72.0 L54.0 69.6 L53.0 67.1 L52.1 64.5 L51.5 61.9 L51.1 59.1 L50.8 56.4 L50.8 53.6 L51.0 50.8 L51.4 48.1 L52.0 45.4 L52.8 42.8 L53.8 40.3 L55.0 37.9 L56.4 35.6 L57.9 33.6 L59.6 31.6 L61.4 29.9 L63.3 28.4 L65.4 27.1 L67.5 26.0" fill="none" stroke="#c0b038" stroke-width="8.2" stroke-linecap="round" stroke-linejoin="round"/><path d="M61.6 79.9 L59.8 78.2 L58.1 76.3 L56.6 74.2 L55.2 72.0 L54.0 69.6 L53.0 67.1 L52.1 64.5 L51.5 61.9 L51.1 59.1 L50.8 56.4 L50.8 53.6 L51.0 50.8 L51.4 48.1 L52.0 45.4 L52.8 42.8 L53.8 40.3 L55.0 37.9 L56.4 35.6 L57.9 33.6 L59.6 31.6 L61.4 29.9 L63.3 28.4 L65.4 27.1 L67.5 26.0" fill="none" stroke="#e07a2a" stroke-width="6.6" stroke-linecap="round" stroke-linejoin="round"/><path d="M61.6 79.9 L59.8 78.2 L58.1 76.3 L56.6 74.2 L55.2 72.0 L54.0 69.6 L53.0 67.1 L52.1 64.5 L51.5 61.9 L51.1 59.1 L50.8 56.4 L50.8 53.6 L51.0 50.8 L51.4 48.1 L52.0 45.4 L52.8 42.8 L53.8 40.3 L55.0 37.9 L56.4 35.6 L57.9 33.6 L59.6 31.6 L61.4 29.9 L63.3 28.4 L65.4 27.1 L67.5 26.0" fill="none" stroke="#d03a1c" stroke-width="5" stroke-linecap="round" stroke-linejoin="round"/></g></g>
<rect width="146.0" height="108.9" filter="url(#tex)" opacity="0.32"/>
<rect width="146.0" height="108.9" filter="url(#texl)" opacity="0.22"/>
<rect width="146.0" height="108.9" filter="url(#grain)" opacity="0.45"/>
</svg>
<svg x="690.9" y="659.4" width="145.4" height="108.9" viewBox="0 0 145.4 108.9">
<rect width="145.4" height="108.9" fill="#778ccf"/>
<g fill="#2a3a8a" opacity="0.55"><circle cx="17.1" cy="75.7" r="0.7"/><circle cx="135.0" cy="30.4" r="0.5"/><circle cx="105.8" cy="71.1" r="0.6"/><circle cx="98.8" cy="43.6" r="0.8"/><circle cx="18.7" cy="25.4" r="0.9"/><circle cx="52.6" cy="29.3" r="0.8"/><circle cx="91.3" cy="17.7" r="0.7"/><circle cx="95.9" cy="19.3" r="0.7"/><circle cx="19.4" cy="37.4" r="0.4"/><circle cx="30.9" cy="104.6" r="0.6"/><circle cx="142.0" cy="48.0" r="0.7"/><circle cx="125.4" cy="74.1" r="0.5"/><circle cx="85.3" cy="68.5" r="0.5"/><circle cx="15.4" cy="93.8" r="0.7"/><circle cx="29.4" cy="49.5" r="0.5"/><circle cx="114.9" cy="54.5" r="0.5"/><circle cx="117.7" cy="11.4" r="0.5"/><circle cx="6.0" cy="79.7" r="0.5"/><circle cx="76.3" cy="11.8" r="0.6"/><circle cx="98.9" cy="58.1" r="0.6"/><circle cx="70.6" cy="47.8" r="0.7"/><circle cx="15.4" cy="51.8" r="0.5"/><circle cx="124.4" cy="100.5" r="0.4"/><circle cx="22.3" cy="75.8" r="0.7"/><circle cx="4.7" cy="75.9" r="0.9"/><circle cx="61.8" cy="38.5" r="0.7"/><circle cx="134.8" cy="29.6" r="0.6"/><circle cx="28.7" cy="67.9" r="0.6"/></g>
<g filter="url(#soft2)"><ellipse cx="72" cy="52" rx="46" ry="42" fill="#4758aa" opacity="0.55"/></g>
<g filter="url(#rough)"><path d="M38 10 C44 4 60 2 74 4 C82 6 84 12 82 18 C72 22 56 20 42 22 C36 20 36 14 38 10Z" fill="#161a2a" /></g>
<g filter="url(#emb)"><g filter="url(#bump)"><g filter="url(#rough)"><path d="M46 22 C56 18 80 16 96 22 C106 28 108 38 104 44 C90 38 60 36 46 40Z" fill="#38a696" /></g></g></g>
<g filter="url(#emb)"><g filter="url(#bump)"><g filter="url(#rough)"><ellipse cx="73.3" cy="52.8" rx="29.8" ry="27.5" fill="#d8902c" /><ellipse cx="73.3" cy="54" rx="21" ry="18.5" fill="#5cc050" /><ellipse cx="73.3" cy="54.5" rx="18" ry="15.5" fill="url(#gcy)" /></g></g></g>
<g filter="url(#emb)"><g filter="url(#bump)"><path d="M51.6 64.0 L49.8 60.4 L48.6 56.5 L48.3 52.6 L48.7 48.6 L50.0 44.7 L51.9 41.1 L54.6 37.9 L57.8 35.2 L61.5 33.0 L65.6 31.4 L69.9 30.5 L74.4 30.3 L78.8 30.9 L83.0 32.1 L87.0 34.0 L90.5 36.4 L93.4 39.4 L95.7 42.8 L97.3 46.6 L98.2 50.5 L98.2 54.5 L97.5 58.5 L96.0 62.2 L93.8 65.7" fill="none" stroke="#48b47c" stroke-width="13.3" stroke-linecap="round" stroke-linejoin="round"/><path d="M51.6 64.0 L49.8 60.4 L48.6 56.5 L48.3 52.6 L48.7 48.6 L50.0 44.7 L51.9 41.1 L54.6 37.9 L57.8 35.2 L61.5 33.0 L65.6 31.4 L69.9 30.5 L74.4 30.3 L78.8 30.9 L83.0 32.1 L87.0 34.0 L90.5 36.4 L93.4 39.4 L95.7 42.8 L97.3 46.6 L98.2 50.5 L98.2 54.5 L97.5 58.5 L96.0 62.2 L93.8 65.7" fill="none" stroke="#5cc64c" stroke-width="10.8" stroke-linecap="round" stroke-linejoin="round"/><path d="M51.6 64.0 L49.8 60.4 L48.6 56.5 L48.3 52.6 L48.7 48.6 L50.0 44.7 L51.9 41.1 L54.6 37.9 L57.8 35.2 L61.5 33.0 L65.6 31.4 L69.9 30.5 L74.4 30.3 L78.8 30.9 L83.0 32.1 L87.0 34.0 L90.5 36.4 L93.4 39.4 L95.7 42.8 L97.3 46.6 L98.2 50.5 L98.2 54.5 L97.5 58.5 L96.0 62.2 L93.8 65.7" fill="none" stroke="#c0b038" stroke-width="8.2" stroke-linecap="round" stroke-linejoin="round"/><path d="M51.6 64.0 L49.8 60.4 L48.6 56.5 L48.3 52.6 L48.7 48.6 L50.0 44.7 L51.9 41.1 L54.6 37.9 L57.8 35.2 L61.5 33.0 L65.6 31.4 L69.9 30.5 L74.4 30.3 L78.8 30.9 L83.0 32.1 L87.0 34.0 L90.5 36.4 L93.4 39.4 L95.7 42.8 L97.3 46.6 L98.2 50.5 L98.2 54.5 L97.5 58.5 L96.0 62.2 L93.8 65.7" fill="none" stroke="#e07a2a" stroke-width="6.6" stroke-linecap="round" stroke-linejoin="round"/><path d="M51.6 64.0 L49.8 60.4 L48.6 56.5 L48.3 52.6 L48.7 48.6 L50.0 44.7 L51.9 41.1 L54.6 37.9 L57.8 35.2 L61.5 33.0 L65.6 31.4 L69.9 30.5 L74.4 30.3 L78.8 30.9 L83.0 32.1 L87.0 34.0 L90.5 36.4 L93.4 39.4 L95.7 42.8 L97.3 46.6 L98.2 50.5 L98.2 54.5 L97.5 58.5 L96.0 62.2 L93.8 65.7" fill="none" stroke="#d03a1c" stroke-width="5" stroke-linecap="round" stroke-linejoin="round"/></g></g>
<rect width="145.4" height="108.9" filter="url(#tex)" opacity="0.32"/>
<rect width="145.4" height="108.9" filter="url(#texl)" opacity="0.22"/>
<rect width="145.4" height="108.9" filter="url(#grain)" opacity="0.45"/>
</svg>
<svg x="84.7" y="780.3" width="145.3" height="107.9" viewBox="0 0 145.3 107.9">
<rect width="145.3" height="107.9" fill="#778ccf"/>
<g fill="#2a3a8a" opacity="0.55"><circle cx="74.8" cy="21.6" r="0.9"/><circle cx="91.8" cy="63.3" r="0.9"/><circle cx="14.9" cy="84.4" r="0.5"/><circle cx="37.5" cy="35.4" r="0.8"/><circle cx="135.0" cy="75.4" r="0.6"/><circle cx="20.2" cy="31.8" r="0.5"/><circle cx="73.0" cy="54.9" r="0.5"/><circle cx="31.5" cy="93.3" r="0.8"/><circle cx="15.4" cy="92.1" r="0.6"/><circle cx="56.3" cy="85.7" r="0.7"/><circle cx="63.7" cy="41.9" r="0.7"/><circle cx="119.9" cy="75.6" r="0.4"/><circle cx="6.2" cy="39.2" r="0.5"/><circle cx="112.0" cy="65.1" r="0.5"/><circle cx="61.5" cy="61.9" r="0.6"/><circle cx="38.5" cy="73.7" r="0.5"/><circle cx="142.5" cy="41.4" r="0.7"/><circle cx="115.6" cy="38.5" r="0.9"/><circle cx="80.1" cy="58.3" r="0.5"/><circle cx="48.6" cy="56.8" r="0.8"/><circle cx="23.8" cy="90.0" r="0.9"/><circle cx="13.4" cy="68.9" r="0.5"/><circle cx="16.0" cy="103.5" r="0.5"/><circle cx="60.6" cy="75.2" r="0.7"/><circle cx="129.4" cy="103.4" r="0.6"/><circle cx="17.2" cy="88.9" r="0.5"/><circle cx="53.4" cy="25.1" r="0.8"/><circle cx="31.3" cy="86.4" r="0.7"/></g>
<g filter="url(#rough)"><path d="M96 22 C108 28 116 40 116 56 C114 70 108 80 100 84" fill="none" stroke="#a8b8e8" stroke-width="4" opacity="0.8"/></g>
<g filter="url(#emb)"><g filter="url(#bump)"><g filter="url(#rough)"><ellipse cx="76.5" cy="58" rx="40.4" ry="38.5" fill="#38a696" /></g></g></g>
<g filter="url(#emb)"><g filter="url(#bump)"><path d="M106.9 57.0 L106.6 61.3 L105.8 65.6 L104.5 69.7 L102.7 73.6 L100.4 77.3 L97.6 80.5 L94.5 83.4 L91.1 85.8 L87.4 87.8 L83.5 89.2 L79.4 90.0 L75.3 90.3 L71.2 90.0 L67.1 89.2 L63.2 87.8 L59.5 85.8 L56.1 83.4 L53.0 80.5 L50.2 77.3 L47.9 73.6 L46.1 69.7 L44.8 65.6 L44.0 61.3 L43.7 57.0 L44.0 52.7 L44.8 48.4 L46.1 44.3 L47.9 40.3 L50.2 36.7 L53.0 33.5 L56.1 30.6 L59.5 28.2 L63.2 26.2 L67.1 24.8 L71.2 24.0 L75.3 23.7 L79.4 24.0 L83.5 24.8 L87.4 26.2 L91.1 28.2 L94.5 30.6 L97.6 33.5 L100.4 36.7 L102.7 40.3 L104.5 44.3 L105.8 48.4 L106.6 52.7 L106.9 57.0" fill="none" stroke="#48b47c" stroke-width="8.5" stroke-linecap="round" stroke-linejoin="round"/><path d="M106.9 57.0 L106.6 61.3 L105.8 65.6 L104.5 69.7 L102.7 73.6 L100.4 77.3 L97.6 80.5 L94.5 83.4 L91.1 85.8 L87.4 87.8 L83.5 89.2 L79.4 90.0 L75.3 90.3 L71.2 90.0 L67.1 89.2 L63.2 87.8 L59.5 85.8 L56.1 83.4 L53.0 80.5 L50.2 77.3 L47.9 73.6 L46.1 69.7 L44.8 65.6 L44.0 61.3 L43.7 57.0 L44.0 52.7 L44.8 48.4 L46.1 44.3 L47.9 40.3 L50.2 36.7 L53.0 33.5 L56.1 30.6 L59.5 28.2 L63.2 26.2 L67.1 24.8 L71.2 24.0 L75.3 23.7 L79.4 24.0 L83.5 24.8 L87.4 26.2 L91.1 28.2 L94.5 30.6 L97.6 33.5 L100.4 36.7 L102.7 40.3 L104.5 44.3 L105.8 48.4 L106.6 52.7 L106.9 57.0" fill="none" stroke="#5cc64c" stroke-width="6.4" stroke-linecap="round" stroke-linejoin="round"/><path d="M106.9 57.0 L106.6 61.3 L105.8 65.6 L104.5 69.7 L102.7 73.6 L100.4 77.3 L97.6 80.5 L94.5 83.4 L91.1 85.8 L87.4 87.8 L83.5 89.2 L79.4 90.0 L75.3 90.3 L71.2 90.0 L67.1 89.2 L63.2 87.8 L59.5 85.8 L56.1 83.4 L53.0 80.5 L50.2 77.3 L47.9 73.6 L46.1 69.7 L44.8 65.6 L44.0 61.3 L43.7 57.0 L44.0 52.7 L44.8 48.4 L46.1 44.3 L47.9 40.3 L50.2 36.7 L53.0 33.5 L56.1 30.6 L59.5 28.2 L63.2 26.2 L67.1 24.8 L71.2 24.0 L75.3 23.7 L79.4 24.0 L83.5 24.8 L87.4 26.2 L91.1 28.2 L94.5 30.6 L97.6 33.5 L100.4 36.7 L102.7 40.3 L104.5 44.3 L105.8 48.4 L106.6 52.7 L106.9 57.0" fill="none" stroke="#80c040" stroke-width="4.4" stroke-linecap="round" stroke-linejoin="round"/><path d="M106.9 57.0 L106.6 61.3 L105.8 65.6 L104.5 69.7 L102.7 73.6 L100.4 77.3 L97.6 80.5 L94.5 83.4 L91.1 85.8 L87.4 87.8 L83.5 89.2 L79.4 90.0 L75.3 90.3 L71.2 90.0 L67.1 89.2 L63.2 87.8 L59.5 85.8 L56.1 83.4 L53.0 80.5 L50.2 77.3 L47.9 73.6 L46.1 69.7 L44.8 65.6 L44.0 61.3 L43.7 57.0 L44.0 52.7 L44.8 48.4 L46.1 44.3 L47.9 40.3 L50.2 36.7 L53.0 33.5 L56.1 30.6 L59.5 28.2 L63.2 26.2 L67.1 24.8 L71.2 24.0 L75.3 23.7 L79.4 24.0 L83.5 24.8 L87.4 26.2 L91.1 28.2 L94.5 30.6 L97.6 33.5 L100.4 36.7 L102.7 40.3 L104.5 44.3 L105.8 48.4 L106.6 52.7 L106.9 57.0" fill="none" stroke="#dc962c" stroke-width="1.8" stroke-linecap="round" stroke-linejoin="round"/></g></g>
<g filter="url(#emb)"><g filter="url(#bump)"><path d="M66.2 62.8 L66.0 66.1 L65.3 69.3 L64.2 72.2 L62.7 74.8 L60.9 76.9 L58.8 78.5 L56.5 79.5 L54.2 79.8 L51.9 79.5 L49.6 78.5 L47.5 76.9 L45.7 74.8 L44.2 72.2 L43.1 69.3 L42.4 66.1 L42.2 62.8 L42.4 59.5 L43.1 56.3 L44.2 53.4 L45.7 50.8 L47.5 48.7 L49.6 47.1 L51.9 46.1 L54.2 45.8 L56.5 46.1 L58.8 47.1 L60.9 48.7 L62.7 50.8 L64.2 53.4 L65.3 56.3 L66.0 59.5 L66.2 62.8" fill="none" stroke="#48b47c" stroke-width="8.3" stroke-linecap="round" stroke-linejoin="round"/><path d="M66.2 62.8 L66.0 66.1 L65.3 69.3 L64.2 72.2 L62.7 74.8 L60.9 76.9 L58.8 78.5 L56.5 79.5 L54.2 79.8 L51.9 79.5 L49.6 78.5 L47.5 76.9 L45.7 74.8 L44.2 72.2 L43.1 69.3 L42.4 66.1 L42.2 62.8 L42.4 59.5 L43.1 56.3 L44.2 53.4 L45.7 50.8 L47.5 48.7 L49.6 47.1 L51.9 46.1 L54.2 45.8 L56.5 46.1 L58.8 47.1 L60.9 48.7 L62.7 50.8 L64.2 53.4 L65.3 56.3 L66.0 59.5 L66.2 62.8" fill="none" stroke="#5cc64c" stroke-width="6.2" stroke-linecap="round" stroke-linejoin="round"/><path d="M66.2 62.8 L66.0 66.1 L65.3 69.3 L64.2 72.2 L62.7 74.8 L60.9 76.9 L58.8 78.5 L56.5 79.5 L54.2 79.8 L51.9 79.5 L49.6 78.5 L47.5 76.9 L45.7 74.8 L44.2 72.2 L43.1 69.3 L42.4 66.1 L42.2 62.8 L42.4 59.5 L43.1 56.3 L44.2 53.4 L45.7 50.8 L47.5 48.7 L49.6 47.1 L51.9 46.1 L54.2 45.8 L56.5 46.1 L58.8 47.1 L60.9 48.7 L62.7 50.8 L64.2 53.4 L65.3 56.3 L66.0 59.5 L66.2 62.8" fill="none" stroke="#80c040" stroke-width="4.2" stroke-linecap="round" stroke-linejoin="round"/><path d="M66.2 62.8 L66.0 66.1 L65.3 69.3 L64.2 72.2 L62.7 74.8 L60.9 76.9 L58.8 78.5 L56.5 79.5 L54.2 79.8 L51.9 79.5 L49.6 78.5 L47.5 76.9 L45.7 74.8 L44.2 72.2 L43.1 69.3 L42.4 66.1 L42.2 62.8 L42.4 59.5 L43.1 56.3 L44.2 53.4 L45.7 50.8 L47.5 48.7 L49.6 47.1 L51.9 46.1 L54.2 45.8 L56.5 46.1 L58.8 47.1 L60.9 48.7 L62.7 50.8 L64.2 53.4 L65.3 56.3 L66.0 59.5 L66.2 62.8" fill="none" stroke="#dc962c" stroke-width="1.6" stroke-linecap="round" stroke-linejoin="round"/></g></g>
<g filter="url(#emb)"><g filter="url(#bump)"><path d="M56 48 C64 47 72 50 79 56" fill="none" stroke="#48b47c" stroke-width="11.8" stroke-linecap="round" stroke-linejoin="round"/><path d="M56 48 C64 47 72 50 79 56" fill="none" stroke="#5cc64c" stroke-width="9.3" stroke-linecap="round" stroke-linejoin="round"/><path d="M56 48 C64 47 72 50 79 56" fill="none" stroke="#c0b038" stroke-width="6.7" stroke-linecap="round" stroke-linejoin="round"/><path d="M56 48 C64 47 72 50 79 56" fill="none" stroke="#e07a2a" stroke-width="5.1" stroke-linecap="round" stroke-linejoin="round"/><path d="M56 48 C64 47 72 50 79 56" fill="none" stroke="#d03a1c" stroke-width="3.5" stroke-linecap="round" stroke-linejoin="round"/></g></g>
<g filter="url(#emb)"><g filter="url(#bump)"><path d="M64 78 C70 74 76 73 81 74" fill="none" stroke="#48b47c" stroke-width="11.8" stroke-linecap="round" stroke-linejoin="round"/><path d="M64 78 C70 74 76 73 81 74" fill="none" stroke="#5cc64c" stroke-width="9.3" stroke-linecap="round" stroke-linejoin="round"/><path d="M64 78 C70 74 76 73 81 74" fill="none" stroke="#c0b038" stroke-width="6.7" stroke-linecap="round" stroke-linejoin="round"/><path d="M64 78 C70 74 76 73 81 74" fill="none" stroke="#e07a2a" stroke-width="5.1" stroke-linecap="round" stroke-linejoin="round"/><path d="M64 78 C70 74 76 73 81 74" fill="none" stroke="#d03a1c" stroke-width="3.5" stroke-linecap="round" stroke-linejoin="round"/></g></g>
<g filter="url(#emb)"><g filter="url(#bump)"><g filter="url(#rough)"><ellipse cx="55" cy="62" rx="6" ry="9" fill="#d08a34" /></g></g></g>
<path d="M62 54 L72 66 L80 74" fill="none" stroke="#a8c040" stroke-width="2.5" stroke-linecap="round" stroke-linejoin="round" />
<rect width="145.3" height="107.9" filter="url(#tex)" opacity="0.32"/>
<rect width="145.3" height="107.9" filter="url(#texl)" opacity="0.22"/>
<rect width="145.3" height="107.9" filter="url(#grain)" opacity="0.45"/>
<rect x="126.8" y="97.9" width="10" height="2.2" fill="#fff"/>
</svg>
<svg x="236.5" y="780.3" width="145.3" height="107.9" viewBox="0 0 145.3 107.9">
<rect width="145.3" height="107.9" fill="#778ccf"/>
<g fill="#2a3a8a" opacity="0.55"><circle cx="25.3" cy="73.7" r="0.7"/><circle cx="69.7" cy="24.4" r="0.8"/><circle cx="116.1" cy="55.2" r="0.7"/><circle cx="35.4" cy="2.3" r="0.6"/><circle cx="84.7" cy="9.2" r="0.8"/><circle cx="34.8" cy="26.2" r="0.4"/><circle cx="143.0" cy="78.7" r="0.8"/><circle cx="89.0" cy="5.5" r="0.6"/><circle cx="72.3" cy="14.0" r="0.9"/><circle cx="54.1" cy="18.1" r="0.8"/><circle cx="19.6" cy="98.4" r="0.6"/><circle cx="80.0" cy="37.6" r="0.6"/><circle cx="28.4" cy="5.9" r="0.8"/><circle cx="35.2" cy="83.1" r="0.5"/><circle cx="138.9" cy="94.9" r="0.8"/><circle cx="109.8" cy="62.3" r="0.8"/><circle cx="19.3" cy="51.5" r="0.8"/><circle cx="30.4" cy="97.9" r="0.8"/><circle cx="59.9" cy="39.9" r="0.6"/><circle cx="56.5" cy="105.4" r="0.6"/><circle cx="5.8" cy="11.7" r="0.8"/><circle cx="142.3" cy="53.5" r="0.6"/><circle cx="79.8" cy="79.7" r="0.5"/><circle cx="88.0" cy="59.8" r="0.7"/><circle cx="27.5" cy="19.7" r="0.6"/><circle cx="133.0" cy="38.0" r="0.7"/><circle cx="45.3" cy="12.7" r="0.4"/><circle cx="117.0" cy="82.7" r="0.6"/></g>
<g filter="url(#emb)"><g filter="url(#bump)"><g filter="url(#rough)"><path d="M56 16 C70 12 90 14 100 24 C110 36 114 56 112 72 C110 84 100 88 90 86 C84 92 80 98 70 98 C56 98 42 92 38 80 C34 66 34 46 40 32 C44 24 50 18 56 16Z" fill="#38a696" /></g></g></g>
<g filter="url(#emb)"><g filter="url(#bump)"><path d="M40 32 C34 46 34 66 38 80 C42 90 52 96 62 97" fill="none" stroke="#48b47c" stroke-width="7.3" stroke-linecap="round" stroke-linejoin="round"/><path d="M40 32 C34 46 34 66 38 80 C42 90 52 96 62 97" fill="none" stroke="#5cc64c" stroke-width="5.6" stroke-linecap="round" stroke-linejoin="round"/><path d="M40 32 C34 46 34 66 38 80 C42 90 52 96 62 97" fill="none" stroke="#50c450" stroke-width="4.4" stroke-linecap="round" stroke-linejoin="round"/><path d="M40 32 C34 46 34 66 38 80 C42 90 52 96 62 97" fill="none" stroke="#c0bc38" stroke-width="2.2" stroke-linecap="round" stroke-linejoin="round"/></g></g>
<g filter="url(#emb)"><g filter="url(#bump)"><path d="M58 24 C70 18 88 20 96 30 C102 40 98 50 88 56 C76 58 62 52 58 44 C54 36 54 28 58 24" fill="none" stroke="#48b47c" stroke-width="8.7" stroke-linecap="round" stroke-linejoin="round"/><path d="M58 24 C70 18 88 20 96 30 C102 40 98 50 88 56 C76 58 62 52 58 44 C54 36 54 28 58 24" fill="none" stroke="#5cc64c" stroke-width="6.6" stroke-linecap="round" stroke-linejoin="round"/><path d="M58 24 C70 18 88 20 96 30 C102 40 98 50 88 56 C76 58 62 52 58 44 C54 36 54 28 58 24" fill="none" stroke="#80c040" stroke-width="4.6" stroke-linecap="round" stroke-linejoin="round"/><path d="M58 24 C70 18 88 20 96 30 C102 40 98 50 88 56 C76 58 62 52 58 44 C54 36 54 28 58 24" fill="none" stroke="#dc962c" stroke-width="2" stroke-linecap="round" stroke-linejoin="round"/></g></g>
<g filter="url(#emb)"><g filter="url(#bump)"><path d="M58 26 C54 36 50 44 46 50" fill="none" stroke="#48b47c" stroke-width="10.8" stroke-linecap="round" stroke-linejoin="round"/><path d="M58 26 C54 36 50 44 46 50" fill="none" stroke="#5cc64c" stroke-width="8.3" stroke-linecap="round" stroke-linejoin="round"/><path d="M58 26 C54 36 50 44 46 50" fill="none" stroke="#c0b038" stroke-width="5.7" stroke-linecap="round" stroke-linejoin="round"/><path d="M58 26 C54 36 50 44 46 50" fill="none" stroke="#e07a2a" stroke-width="4.1" stroke-linecap="round" stroke-linejoin="round"/><path d="M58 26 C54 36 50 44 46 50" fill="none" stroke="#d03a1c" stroke-width="2.5" stroke-linecap="round" stroke-linejoin="round"/></g></g>
<g filter="url(#emb)"><g filter="url(#bump)"><path d="M96 44 C92 58 86 72 82 86" fill="none" stroke="#48b47c" stroke-width="11.1" stroke-linecap="round" stroke-linejoin="round"/><path d="M96 44 C92 58 86 72 82 86" fill="none" stroke="#5cc64c" stroke-width="8.6" stroke-linecap="round" stroke-linejoin="round"/><path d="M96 44 C92 58 86 72 82 86" fill="none" stroke="#c0b038" stroke-width="6" stroke-linecap="round" stroke-linejoin="round"/><path d="M96 44 C92 58 86 72 82 86" fill="none" stroke="#e07a2a" stroke-width="4.4" stroke-linecap="round" stroke-linejoin="round"/><path d="M96 44 C92 58 86 72 82 86" fill="none" stroke="#d03a1c" stroke-width="2.8" stroke-linecap="round" stroke-linejoin="round"/></g></g>
<circle cx="76" cy="25.5" r="4" fill="#c89a30"/>
<g filter="url(#emb)"><g filter="url(#bump)"><path d="M44 78 C48 84 54 88 58 92" fill="none" stroke="#48b47c" stroke-width="9.2" stroke-linecap="round" stroke-linejoin="round"/><path d="M44 78 C48 84 54 88 58 92" fill="none" stroke="#5cc64c" stroke-width="7.1" stroke-linecap="round" stroke-linejoin="round"/><path d="M44 78 C48 84 54 88 58 92" fill="none" stroke="#80c040" stroke-width="5.1" stroke-linecap="round" stroke-linejoin="round"/><path d="M44 78 C48 84 54 88 58 92" fill="none" stroke="#dc962c" stroke-width="2.5" stroke-linecap="round" stroke-linejoin="round"/></g></g>
<rect width="145.3" height="107.9" filter="url(#tex)" opacity="0.32"/>
<rect width="145.3" height="107.9" filter="url(#texl)" opacity="0.22"/>
<rect width="145.3" height="107.9" filter="url(#grain)" opacity="0.45"/>
</svg>
<svg x="388.0" y="780.3" width="145.6" height="107.9" viewBox="0 0 145.6 107.9">
<rect width="145.6" height="107.9" fill="#778ccf"/>
<g fill="#2a3a8a" opacity="0.55"><circle cx="137.7" cy="16.6" r="0.4"/><circle cx="143.4" cy="21.1" r="0.5"/><circle cx="94.2" cy="37.9" r="0.8"/><circle cx="34.8" cy="101.7" r="0.6"/><circle cx="87.1" cy="98.8" r="0.7"/><circle cx="132.8" cy="75.6" r="0.4"/><circle cx="126.8" cy="63.3" r="0.6"/><circle cx="28.9" cy="90.3" r="0.7"/><circle cx="134.8" cy="82.4" r="0.9"/><circle cx="82.2" cy="74.6" r="0.7"/><circle cx="38.6" cy="101.4" r="0.6"/><circle cx="112.6" cy="101.2" r="0.7"/><circle cx="22.1" cy="87.7" r="0.7"/><circle cx="28.2" cy="7.1" r="0.7"/><circle cx="6.6" cy="98.1" r="0.7"/><circle cx="75.3" cy="44.5" r="0.7"/><circle cx="131.8" cy="33.9" r="0.6"/><circle cx="84.5" cy="32.9" r="0.7"/><circle cx="78.9" cy="47.0" r="0.7"/><circle cx="76.8" cy="11.2" r="0.9"/><circle cx="52.4" cy="46.9" r="0.6"/><circle cx="133.6" cy="100.9" r="0.7"/><circle cx="58.7" cy="12.0" r="0.8"/><circle cx="26.3" cy="58.8" r="0.6"/><circle cx="48.5" cy="39.1" r="0.5"/><circle cx="7.2" cy="57.6" r="0.8"/><circle cx="93.6" cy="22.9" r="0.7"/><circle cx="9.4" cy="44.7" r="0.8"/></g>
<g filter="url(#emb)"><g filter="url(#bump)"><g filter="url(#rough)"><ellipse cx="69.3" cy="57" rx="41.2" ry="40.9" fill="#38a696" /></g></g></g>
<g filter="url(#emb)"><g filter="url(#bump)"><path d="M34 64 C36 80 48 92 66 96 C84 96 100 88 104 74" fill="none" stroke="#48b47c" stroke-width="8.7" stroke-linecap="round" stroke-linejoin="round"/><path d="M34 64 C36 80 48 92 66 96 C84 96 100 88 104 74" fill="none" stroke="#5cc64c" stroke-width="6.6" stroke-linecap="round" stroke-linejoin="round"/><path d="M34 64 C36 80 48 92 66 96 C84 96 100 88 104 74" fill="none" stroke="#80c040" stroke-width="4.6" stroke-linecap="round" stroke-linejoin="round"/><path d="M34 64 C36 80 48 92 66 96 C84 96 100 88 104 74" fill="none" stroke="#dc962c" stroke-width="2" stroke-linecap="round" stroke-linejoin="round"/></g></g>
<g filter="url(#emb)"><g filter="url(#bump)"><path d="M55 27 C56 40 64 48 74 51 C84 50 92 44 94 30" fill="none" stroke="#48b47c" stroke-width="12.1" stroke-linecap="round" stroke-linejoin="round"/><path d="M55 27 C56 40 64 48 74 51 C84 50 92 44 94 30" fill="none" stroke="#5cc64c" stroke-width="9.6" stroke-linecap="round" stroke-linejoin="round"/><path d="M55 27 C56 40 64 48 74 51 C84 50 92 44 94 30" fill="none" stroke="#c0b038" stroke-width="7" stroke-linecap="round" stroke-linejoin="round"/><path d="M55 27 C56 40 64 48 74 51 C84 50 92 44 94 30" fill="none" stroke="#e07a2a" stroke-width="5.4" stroke-linecap="round" stroke-linejoin="round"/><path d="M55 27 C56 40 64 48 74 51 C84 50 92 44 94 30" fill="none" stroke="#d03a1c" stroke-width="3.8" stroke-linecap="round" stroke-linejoin="round"/></g></g>
<g filter="url(#emb)"><g filter="url(#bump)"><path d="M66 52 C64 62 63 70 63 77" fill="none" stroke="#48b47c" stroke-width="11.5" stroke-linecap="round" stroke-linejoin="round"/><path d="M66 52 C64 62 63 70 63 77" fill="none" stroke="#5cc64c" stroke-width="9" stroke-linecap="round" stroke-linejoin="round"/><path d="M66 52 C64 62 63 70 63 77" fill="none" stroke="#c0b038" stroke-width="6.4" stroke-linecap="round" stroke-linejoin="round"/><path d="M66 52 C64 62 63 70 63 77" fill="none" stroke="#e07a2a" stroke-width="4.8" stroke-linecap="round" stroke-linejoin="round"/><path d="M66 52 C64 62 63 70 63 77" fill="none" stroke="#d03a1c" stroke-width="3.2" stroke-linecap="round" stroke-linejoin="round"/></g></g>
<g filter="url(#emb)"><g filter="url(#bump)"><path d="M84 51 C86 58 87 64 88 70" fill="none" stroke="#48b47c" stroke-width="11.5" stroke-linecap="round" stroke-linejoin="round"/><path d="M84 51 C86 58 87 64 88 70" fill="none" stroke="#5cc64c" stroke-width="9" stroke-linecap="round" stroke-linejoin="round"/><path d="M84 51 C86 58 87 64 88 70" fill="none" stroke="#c0b038" stroke-width="6.4" stroke-linecap="round" stroke-linejoin="round"/><path d="M84 51 C86 58 87 64 88 70" fill="none" stroke="#e07a2a" stroke-width="4.8" stroke-linecap="round" stroke-linejoin="round"/><path d="M84 51 C86 58 87 64 88 70" fill="none" stroke="#d03a1c" stroke-width="3.2" stroke-linecap="round" stroke-linejoin="round"/></g></g>
<ellipse cx="75" cy="25" rx="5" ry="3.5" fill="#c8962e"/>
<g filter="url(#emb)"><g filter="url(#bump)"><path d="M36 48 C34 56 34 62 36 66" fill="none" stroke="#48b47c" stroke-width="8.7" stroke-linecap="round" stroke-linejoin="round"/><path d="M36 48 C34 56 34 62 36 66" fill="none" stroke="#5cc64c" stroke-width="6.6" stroke-linecap="round" stroke-linejoin="round"/><path d="M36 48 C34 56 34 62 36 66" fill="none" stroke="#80c040" stroke-width="4.6" stroke-linecap="round" stroke-linejoin="round"/><path d="M36 48 C34 56 34 62 36 66" fill="none" stroke="#dc962c" stroke-width="2" stroke-linecap="round" stroke-linejoin="round"/></g></g>
<g filter="url(#emb)"><g filter="url(#bump)"><path d="M96 30 C100 36 102 42 100 48" fill="none" stroke="#48b47c" stroke-width="8.1" stroke-linecap="round" stroke-linejoin="round"/><path d="M96 30 C100 36 102 42 100 48" fill="none" stroke="#5cc64c" stroke-width="6.4" stroke-linecap="round" stroke-linejoin="round"/><path d="M96 30 C100 36 102 42 100 48" fill="none" stroke="#50c450" stroke-width="5.2" stroke-linecap="round" stroke-linejoin="round"/><path d="M96 30 C100 36 102 42 100 48" fill="none" stroke="#c0bc38" stroke-width="3" stroke-linecap="round" stroke-linejoin="round"/></g></g>
<rect width="145.6" height="107.9" filter="url(#tex)" opacity="0.32"/>
<rect width="145.6" height="107.9" filter="url(#texl)" opacity="0.22"/>
<rect width="145.6" height="107.9" filter="url(#grain)" opacity="0.45"/>
</svg>
<svg x="539.1" y="780.3" width="146.0" height="107.9" viewBox="0 0 146.0 107.9">
<rect width="146.0" height="107.9" fill="#778ccf"/>
<g fill="#2a3a8a" opacity="0.55"><circle cx="133.3" cy="100.6" r="0.8"/><circle cx="13.9" cy="63.5" r="0.6"/><circle cx="77.3" cy="15.5" r="0.5"/><circle cx="65.1" cy="25.0" r="0.6"/><circle cx="5.5" cy="10.9" r="0.8"/><circle cx="61.8" cy="55.3" r="0.8"/><circle cx="53.0" cy="8.0" r="0.8"/><circle cx="85.7" cy="70.4" r="0.7"/><circle cx="139.8" cy="39.7" r="0.8"/><circle cx="54.4" cy="61.4" r="0.7"/><circle cx="46.6" cy="10.9" r="0.6"/><circle cx="103.9" cy="63.4" r="0.6"/><circle cx="93.2" cy="20.9" r="0.5"/><circle cx="47.9" cy="86.8" r="0.5"/><circle cx="18.2" cy="12.2" r="0.4"/><circle cx="41.1" cy="61.5" r="0.8"/><circle cx="49.0" cy="40.4" r="0.5"/><circle cx="45.3" cy="82.8" r="0.7"/><circle cx="38.7" cy="13.1" r="0.8"/><circle cx="102.4" cy="88.1" r="0.5"/><circle cx="79.5" cy="97.5" r="0.7"/><circle cx="136.3" cy="19.4" r="0.9"/><circle cx="9.9" cy="45.2" r="0.4"/><circle cx="117.0" cy="73.4" r="0.9"/><circle cx="116.3" cy="100.6" r="0.7"/><circle cx="142.3" cy="79.8" r="0.6"/><circle cx="140.4" cy="41.2" r="0.5"/><circle cx="12.8" cy="50.4" r="0.5"/></g>
<g filter="url(#emb)"><g filter="url(#bump)"><g filter="url(#rough)"><ellipse cx="71" cy="54" rx="39.7" ry="42.6" fill="#38a696" /><ellipse cx="104" cy="24" rx="10" ry="12" fill="#38a696" /></g></g></g>
<g filter="url(#emb)"><g filter="url(#bump)"><path d="M44 48 C60 42 80 48 94 56" fill="none" stroke="#48b47c" stroke-width="9.1" stroke-linecap="round" stroke-linejoin="round"/><path d="M44 48 C60 42 80 48 94 56" fill="none" stroke="#5cc64c" stroke-width="7.4" stroke-linecap="round" stroke-linejoin="round"/><path d="M44 48 C60 42 80 48 94 56" fill="none" stroke="#50c450" stroke-width="6.2" stroke-linecap="round" stroke-linejoin="round"/><path d="M44 48 C60 42 80 48 94 56" fill="none" stroke="#c0bc38" stroke-width="4" stroke-linecap="round" stroke-linejoin="round"/></g></g>
<g filter="url(#emb)"><g filter="url(#bump)"><path d="M41 46 C42 30 50 18 66 16 C80 14 94 22 99 35 C102 46 102 58 96 70 C90 80 84 86 79 88" fill="none" stroke="#48b47c" stroke-width="9.7" stroke-linecap="round" stroke-linejoin="round"/><path d="M41 46 C42 30 50 18 66 16 C80 14 94 22 99 35 C102 46 102 58 96 70 C90 80 84 86 79 88" fill="none" stroke="#5cc64c" stroke-width="7.6" stroke-linecap="round" stroke-linejoin="round"/><path d="M41 46 C42 30 50 18 66 16 C80 14 94 22 99 35 C102 46 102 58 96 70 C90 80 84 86 79 88" fill="none" stroke="#80c040" stroke-width="5.6" stroke-linecap="round" stroke-linejoin="round"/><path d="M41 46 C42 30 50 18 66 16 C80 14 94 22 99 35 C102 46 102 58 96 70 C90 80 84 86 79 88" fill="none" stroke="#dc962c" stroke-width="3" stroke-linecap="round" stroke-linejoin="round"/></g></g>
<g filter="url(#emb)"><g filter="url(#bump)"><path d="M90 24 C96 28 100 34 99 40" fill="none" stroke="#48b47c" stroke-width="12.3" stroke-linecap="round" stroke-linejoin="round"/><path d="M90 24 C96 28 100 34 99 40" fill="none" stroke="#5cc64c" stroke-width="9.8" stroke-linecap="round" stroke-linejoin="round"/><path d="M90 24 C96 28 100 34 99 40" fill="none" stroke="#c0b038" stroke-width="7.2" stroke-linecap="round" stroke-linejoin="round"/><path d="M90 24 C96 28 100 34 99 40" fill="none" stroke="#e07a2a" stroke-width="5.6" stroke-linecap="round" stroke-linejoin="round"/><path d="M90 24 C96 28 100 34 99 40" fill="none" stroke="#d03a1c" stroke-width="4" stroke-linecap="round" stroke-linejoin="round"/></g></g>
<g filter="url(#emb)"><g filter="url(#bump)"><path d="M40 56 C36 66 40 78 52 86 C62 92 72 92 79 88" fill="none" stroke="#48b47c" stroke-width="11.5" stroke-linecap="round" stroke-linejoin="round"/><path d="M40 56 C36 66 40 78 52 86 C62 92 72 92 79 88" fill="none" stroke="#5cc64c" stroke-width="9" stroke-linecap="round" stroke-linejoin="round"/><path d="M40 56 C36 66 40 78 52 86 C62 92 72 92 79 88" fill="none" stroke="#c0b038" stroke-width="6.4" stroke-linecap="round" stroke-linejoin="round"/><path d="M40 56 C36 66 40 78 52 86 C62 92 72 92 79 88" fill="none" stroke="#e07a2a" stroke-width="4.8" stroke-linecap="round" stroke-linejoin="round"/><path d="M40 56 C36 66 40 78 52 86 C62 92 72 92 79 88" fill="none" stroke="#d03a1c" stroke-width="3.2" stroke-linecap="round" stroke-linejoin="round"/></g></g>
<g filter="url(#emb)"><g filter="url(#bump)"><path d="M95 58 C90 70 84 80 79 88" fill="none" stroke="#48b47c" stroke-width="10.3" stroke-linecap="round" stroke-linejoin="round"/><path d="M95 58 C90 70 84 80 79 88" fill="none" stroke="#5cc64c" stroke-width="7.8" stroke-linecap="round" stroke-linejoin="round"/><path d="M95 58 C90 70 84 80 79 88" fill="none" stroke="#c0b038" stroke-width="5.2" stroke-linecap="round" stroke-linejoin="round"/><path d="M95 58 C90 70 84 80 79 88" fill="none" stroke="#e07a2a" stroke-width="3.6" stroke-linecap="round" stroke-linejoin="round"/><path d="M95 58 C90 70 84 80 79 88" fill="none" stroke="#d03a1c" stroke-width="2" stroke-linecap="round" stroke-linejoin="round"/></g></g>
<rect width="146.0" height="107.9" filter="url(#tex)" opacity="0.32"/>
<rect width="146.0" height="107.9" filter="url(#texl)" opacity="0.22"/>
<rect width="146.0" height="107.9" filter="url(#grain)" opacity="0.45"/>
</svg>
<svg x="690.9" y="780.3" width="145.4" height="107.9" viewBox="0 0 145.4 107.9">
<rect width="145.4" height="107.9" fill="#778ccf"/>
<g fill="#2a3a8a" opacity="0.55"><circle cx="102.7" cy="89.3" r="0.5"/><circle cx="143.2" cy="22.2" r="0.7"/><circle cx="15.0" cy="80.7" r="0.5"/><circle cx="101.9" cy="77.3" r="0.8"/><circle cx="64.4" cy="92.0" r="0.9"/><circle cx="18.3" cy="55.7" r="0.9"/><circle cx="106.5" cy="48.2" r="0.6"/><circle cx="136.8" cy="10.8" r="0.8"/><circle cx="121.2" cy="18.4" r="0.6"/><circle cx="45.2" cy="58.3" r="0.6"/><circle cx="128.4" cy="98.1" r="0.6"/><circle cx="128.5" cy="9.2" r="0.4"/><circle cx="96.0" cy="85.0" r="0.8"/><circle cx="142.3" cy="91.3" r="0.5"/><circle cx="107.0" cy="98.1" r="0.4"/><circle cx="71.9" cy="18.0" r="0.5"/><circle cx="69.8" cy="71.7" r="0.9"/><circle cx="20.6" cy="54.5" r="0.9"/><circle cx="110.2" cy="57.3" r="0.5"/><circle cx="91.2" cy="29.1" r="0.7"/><circle cx="93.7" cy="42.7" r="0.8"/><circle cx="59.1" cy="50.7" r="0.8"/><circle cx="37.4" cy="21.3" r="0.7"/><circle cx="63.4" cy="92.8" r="0.5"/><circle cx="54.5" cy="8.0" r="0.6"/><circle cx="46.2" cy="48.6" r="0.8"/><circle cx="7.3" cy="104.8" r="0.8"/><circle cx="116.7" cy="58.0" r="0.7"/></g>
<g filter="url(#rough)"><path d="M84 20 C96 24 108 34 114 48 C116 62 110 74 98 80 C96 60 92 40 84 20Z" fill="#3a4ca6" opacity="0.8"/></g>
<g filter="url(#emb)"><g filter="url(#bump)"><g filter="url(#rough)"><ellipse cx="70.4" cy="55.3" rx="34" ry="35.7" fill="#38a696" /></g></g></g>
<g filter="url(#emb)"><g filter="url(#bump)"><path d="M101.9 55.3 L101.6 59.7 L100.8 64.0 L99.5 68.1 L97.7 72.0 L95.4 75.7 L92.7 79.0 L89.6 81.9 L86.2 84.3 L82.5 86.2 L78.6 87.7 L74.5 88.5 L70.4 88.8 L66.3 88.5 L62.2 87.7 L58.3 86.2 L54.7 84.3 L51.2 81.9 L48.1 79.0 L45.4 75.7 L43.1 72.0 L41.3 68.1 L40.0 64.0 L39.2 59.7 L38.9 55.3 L39.2 50.9 L40.0 46.6 L41.3 42.5 L43.1 38.5 L45.4 34.9 L48.1 31.6 L51.2 28.7 L54.6 26.3 L58.3 24.4 L62.2 22.9 L66.3 22.1 L70.4 21.8 L74.5 22.1 L78.6 22.9 L82.5 24.4 L86.2 26.3 L89.6 28.7 L92.7 31.6 L95.4 34.9 L97.7 38.5 L99.5 42.5 L100.8 46.6 L101.6 50.9 L101.9 55.3" fill="none" stroke="#48b47c" stroke-width="6.5" stroke-linecap="round" stroke-linejoin="round"/><path d="M101.9 55.3 L101.6 59.7 L100.8 64.0 L99.5 68.1 L97.7 72.0 L95.4 75.7 L92.7 79.0 L89.6 81.9 L86.2 84.3 L82.5 86.2 L78.6 87.7 L74.5 88.5 L70.4 88.8 L66.3 88.5 L62.2 87.7 L58.3 86.2 L54.7 84.3 L51.2 81.9 L48.1 79.0 L45.4 75.7 L43.1 72.0 L41.3 68.1 L40.0 64.0 L39.2 59.7 L38.9 55.3 L39.2 50.9 L40.0 46.6 L41.3 42.5 L43.1 38.5 L45.4 34.9 L48.1 31.6 L51.2 28.7 L54.6 26.3 L58.3 24.4 L62.2 22.9 L66.3 22.1 L70.4 21.8 L74.5 22.1 L78.6 22.9 L82.5 24.4 L86.2 26.3 L89.6 28.7 L92.7 31.6 L95.4 34.9 L97.7 38.5 L99.5 42.5 L100.8 46.6 L101.6 50.9 L101.9 55.3" fill="none" stroke="#5cc64c" stroke-width="4.8" stroke-linecap="round" stroke-linejoin="round"/><path d="M101.9 55.3 L101.6 59.7 L100.8 64.0 L99.5 68.1 L97.7 72.0 L95.4 75.7 L92.7 79.0 L89.6 81.9 L86.2 84.3 L82.5 86.2 L78.6 87.7 L74.5 88.5 L70.4 88.8 L66.3 88.5 L62.2 87.7 L58.3 86.2 L54.7 84.3 L51.2 81.9 L48.1 79.0 L45.4 75.7 L43.1 72.0 L41.3 68.1 L40.0 64.0 L39.2 59.7 L38.9 55.3 L39.2 50.9 L40.0 46.6 L41.3 42.5 L43.1 38.5 L45.4 34.9 L48.1 31.6 L51.2 28.7 L54.6 26.3 L58.3 24.4 L62.2 22.9 L66.3 22.1 L70.4 21.8 L74.5 22.1 L78.6 22.9 L82.5 24.4 L86.2 26.3 L89.6 28.7 L92.7 31.6 L95.4 34.9 L97.7 38.5 L99.5 42.5 L100.8 46.6 L101.6 50.9 L101.9 55.3" fill="none" stroke="#50c450" stroke-width="3.6" stroke-linecap="round" stroke-linejoin="round"/><path d="M101.9 55.3 L101.6 59.7 L100.8 64.0 L99.5 68.1 L97.7 72.0 L95.4 75.7 L92.7 79.0 L89.6 81.9 L86.2 84.3 L82.5 86.2 L78.6 87.7 L74.5 88.5 L70.4 88.8 L66.3 88.5 L62.2 87.7 L58.3 86.2 L54.7 84.3 L51.2 81.9 L48.1 79.0 L45.4 75.7 L43.1 72.0 L41.3 68.1 L40.0 64.0 L39.2 59.7 L38.9 55.3 L39.2 50.9 L40.0 46.6 L41.3 42.5 L43.1 38.5 L45.4 34.9 L48.1 31.6 L51.2 28.7 L54.6 26.3 L58.3 24.4 L62.2 22.9 L66.3 22.1 L70.4 21.8 L74.5 22.1 L78.6 22.9 L82.5 24.4 L86.2 26.3 L89.6 28.7 L92.7 31.6 L95.4 34.9 L97.7 38.5 L99.5 42.5 L100.8 46.6 L101.6 50.9 L101.9 55.3" fill="none" stroke="#c0bc38" stroke-width="1.4" stroke-linecap="round" stroke-linejoin="round"/></g></g>
<g filter="url(#emb)"><g filter="url(#bump)"><path d="M57 38 C60 46 62 52 66 58 C70 66 72 74 70 80" fill="none" stroke="#48b47c" stroke-width="13.3" stroke-linecap="round" stroke-linejoin="round"/><path d="M57 38 C60 46 62 52 66 58 C70 66 72 74 70 80" fill="none" stroke="#5cc64c" stroke-width="10.8" stroke-linecap="round" stroke-linejoin="round"/><path d="M57 38 C60 46 62 52 66 58 C70 66 72 74 70 80" fill="none" stroke="#c0b038" stroke-width="8.2" stroke-linecap="round" stroke-linejoin="round"/><path d="M57 38 C60 46 62 52 66 58 C70 66 72 74 70 80" fill="none" stroke="#e07a2a" stroke-width="6.6" stroke-linecap="round" stroke-linejoin="round"/><path d="M57 38 C60 46 62 52 66 58 C70 66 72 74 70 80" fill="none" stroke="#d03a1c" stroke-width="5" stroke-linecap="round" stroke-linejoin="round"/></g></g>
<circle cx="55" cy="36" r="6" fill="#d8862e"/><circle cx="63" cy="82" r="3.5" fill="#d08a30"/>
<rect width="145.4" height="107.9" filter="url(#tex)" opacity="0.32"/>
<rect width="145.4" height="107.9" filter="url(#texl)" opacity="0.22"/>
<rect width="145.4" height="107.9" filter="url(#grain)" opacity="0.45"/>
</svg>
<rect x="847.0" y="102.3" width="14.0" height="263.3" fill="url(#cb)"/>
<text transform="translate(863.50 111.00) scale(1 1.04)" font-size="20.3" >80 µm</text>
<text transform="translate(867.00 367.20) scale(1 1.04)" font-size="20.3" >0 µm</text>
<rect x="841.7" y="571.9" width="14.4" height="263.5" fill="url(#cb)"/>
<text transform="translate(858.50 581.70) scale(1 1.04)" font-size="20.3" >80 µm</text>
<text transform="translate(862.00 836.50) scale(1 1.04)" font-size="20.3" >0 µm</text>
<line x1="1002.4" x2="1009.6" y1="313.7" y2="313.7" stroke="#000" stroke-width="3"/>
<line x1="1002.4" x2="1009.6" y1="214.5" y2="214.5" stroke="#000" stroke-width="3"/>
<line x1="1002.4" x2="1009.6" y1="115.4" y2="115.4" stroke="#000" stroke-width="3"/>
<line x1="1002.4" x2="1006.0" y1="363.2" y2="363.2" stroke="#000" stroke-width="3"/>
<line x1="1002.4" x2="1006.0" y1="264.1" y2="264.1" stroke="#000" stroke-width="3"/>
<line x1="1002.4" x2="1006.0" y1="165.0" y2="165.0" stroke="#000" stroke-width="3"/>
<line x1="1002.4" x2="1006.0" y1="65.8" y2="65.8" stroke="#000" stroke-width="3"/>
<line x1="1046.8" x2="1046.8" y1="412.8" y2="405.6" stroke="#000" stroke-width="3"/>
<line x1="1135.5" x2="1135.5" y1="412.8" y2="405.6" stroke="#000" stroke-width="3"/>
<line x1="1224.2" x2="1224.2" y1="412.8" y2="405.6" stroke="#000" stroke-width="3"/>
<line x1="1313.0" x2="1313.0" y1="412.8" y2="405.6" stroke="#000" stroke-width="3"/>
<line x1="1401.7" x2="1401.7" y1="412.8" y2="405.6" stroke="#000" stroke-width="3"/>
<line x1="1091.1" x2="1091.1" y1="412.8" y2="409.2" stroke="#000" stroke-width="3"/>
<line x1="1179.9" x2="1179.9" y1="412.8" y2="409.2" stroke="#000" stroke-width="3"/>
<line x1="1268.6" x2="1268.6" y1="412.8" y2="409.2" stroke="#000" stroke-width="3"/>
<line x1="1357.4" x2="1357.4" y1="412.8" y2="409.2" stroke="#000" stroke-width="3"/>
<rect x="1002.4" y="55.9" width="443.7" height="356.9" fill="none" stroke="#000" stroke-width="3.3"/>
<text transform="translate(994.50 421.40) scale(1 1.085)" font-size="28" text-anchor="end" >0</text>
<text transform="translate(994.50 322.26) scale(1 1.085)" font-size="28" text-anchor="end" >10</text>
<text transform="translate(994.50 223.12) scale(1 1.085)" font-size="28" text-anchor="end" >20</text>
<text transform="translate(994.50 123.98) scale(1 1.085)" font-size="28" text-anchor="end" >30</text>
<text transform="translate(1046.77 439.80) scale(1 1.085)" font-size="28" text-anchor="middle" >2.4</text>
<text transform="translate(1135.51 439.80) scale(1 1.085)" font-size="28" text-anchor="middle" >2.8</text>
<text transform="translate(1224.25 439.80) scale(1 1.085)" font-size="28" text-anchor="middle" >3.2</text>
<text transform="translate(1312.99 439.80) scale(1 1.085)" font-size="28" text-anchor="middle" >3.6</text>
<text transform="translate(1401.73 439.80) scale(1 1.085)" font-size="28" text-anchor="middle" >4.0</text>
<text transform="translate(1086.50 462.50) scale(1 1.085)" font-size="28" >Concentration / wt. %</text>
<text transform="translate(953.3 459.0) rotate(-90)" font-size="25.2"><tspan font-style="italic">H</tspan> value of corrosion products / µm·cm<tspan font-size="19.5" dy="-7.5">-2</tspan></text>
<line x1="1058.5" y1="260.8" x2="1123.8" y2="203.9" stroke="#bf4cf6" stroke-width="3"/>
<line x1="1150.9" y1="195.6" x2="1208.9" y2="202.7" stroke="#bf4cf6" stroke-width="3"/>
<line x1="1238.2" y1="211.3" x2="1299.0" y2="240.5" stroke="#bf4cf6" stroke-width="3"/>
<line x1="1328.5" y1="246.2" x2="1386.3" y2="242.3" stroke="#bf4cf6" stroke-width="3"/>
<circle cx="1046.8" cy="271.0" r="9.9" fill="#fff" stroke="#bf4cf6" stroke-width="4.2"/>
<circle cx="1135.5" cy="193.7" r="9.9" fill="#fff" stroke="#bf4cf6" stroke-width="4.2"/>
<circle cx="1224.2" cy="204.6" r="9.9" fill="#fff" stroke="#bf4cf6" stroke-width="4.2"/>
<circle cx="1313.0" cy="247.2" r="9.9" fill="#fff" stroke="#bf4cf6" stroke-width="4.2"/>
<circle cx="1401.7" cy="241.3" r="9.9" fill="#fff" stroke="#bf4cf6" stroke-width="4.2"/>
<path d="M1046.8 223.4V318.6M1042.4 223.4H1051.2M1042.4 318.6H1051.2" stroke="#bf4cf6" stroke-width="1.6" fill="none"/>
<path d="M1135.5 102.5V284.9M1131.1 102.5H1139.9M1131.1 284.9H1139.9" stroke="#bf4cf6" stroke-width="1.6" fill="none"/>
<path d="M1224.2 154.0V255.2M1219.8 154.0H1228.7M1219.8 255.2H1228.7" stroke="#bf4cf6" stroke-width="1.6" fill="none"/>
<path d="M1313.0 225.9V268.6M1308.6 225.9H1317.4M1308.6 268.6H1317.4" stroke="#bf4cf6" stroke-width="1.6" fill="none"/>
<path d="M1401.7 193.7V288.9M1397.3 193.7H1406.1M1397.3 288.9H1406.1" stroke="#bf4cf6" stroke-width="1.6" fill="none"/>
<line x1="1061.3" y1="126.7" x2="1121.0" y2="148.7" stroke="#4fb56a" stroke-width="3"/>
<line x1="1149.8" y1="160.1" x2="1210.0" y2="185.7" stroke="#4fb56a" stroke-width="3"/>
<line x1="1239.1" y1="196.0" x2="1298.1" y2="213.2" stroke="#4fb56a" stroke-width="3"/>
<line x1="1328.4" y1="219.2" x2="1386.3" y2="225.7" stroke="#4fb56a" stroke-width="3"/>
<circle cx="1046.8" cy="121.3" r="9.9" fill="#fff" stroke="#4fb56a" stroke-width="4.2"/>
<circle cx="1135.5" cy="154.0" r="9.9" fill="#fff" stroke="#4fb56a" stroke-width="4.2"/>
<circle cx="1224.2" cy="191.7" r="9.9" fill="#fff" stroke="#4fb56a" stroke-width="4.2"/>
<circle cx="1313.0" cy="217.5" r="9.9" fill="#fff" stroke="#4fb56a" stroke-width="4.2"/>
<circle cx="1401.7" cy="227.4" r="9.9" fill="#fff" stroke="#4fb56a" stroke-width="4.2"/>
<path d="M1046.8 75.7V166.9M1042.4 75.7H1051.2M1042.4 166.9H1051.2" stroke="#4fb56a" stroke-width="1.6" fill="none"/>
<path d="M1135.5 114.4V193.7M1131.1 114.4H1139.9M1131.1 193.7H1139.9" stroke="#4fb56a" stroke-width="1.6" fill="none"/>
<path d="M1224.2 175.9V207.6M1219.8 175.9H1228.7M1219.8 207.6H1228.7" stroke="#4fb56a" stroke-width="1.6" fill="none"/>
<path d="M1313.0 194.7V240.3M1308.6 194.7H1317.4M1308.6 240.3H1317.4" stroke="#4fb56a" stroke-width="1.6" fill="none"/>
<path d="M1401.7 205.6V249.2M1397.3 205.6H1406.1M1397.3 249.2H1406.1" stroke="#4fb56a" stroke-width="1.6" fill="none"/>
<line x1="1062.1" y1="309.3" x2="1120.2" y2="300.2" stroke="#e6812f" stroke-width="3"/>
<line x1="1150.9" y1="295.7" x2="1208.9" y2="288.0" stroke="#e6812f" stroke-width="3"/>
<line x1="1239.5" y1="288.6" x2="1297.7" y2="299.0" stroke="#e6812f" stroke-width="3"/>
<line x1="1328.5" y1="301.6" x2="1386.2" y2="300.9" stroke="#e6812f" stroke-width="3"/>
<circle cx="1046.8" cy="311.7" r="9.9" fill="#fff" stroke="#e6812f" stroke-width="4.2"/>
<circle cx="1135.5" cy="297.8" r="9.9" fill="#fff" stroke="#e6812f" stroke-width="4.2"/>
<circle cx="1224.2" cy="285.9" r="9.9" fill="#fff" stroke="#e6812f" stroke-width="4.2"/>
<circle cx="1313.0" cy="301.8" r="9.9" fill="#fff" stroke="#e6812f" stroke-width="4.2"/>
<circle cx="1401.7" cy="300.8" r="9.9" fill="#fff" stroke="#e6812f" stroke-width="4.2"/>
<path d="M1046.8 255.2V368.2M1042.4 255.2H1051.2M1042.4 368.2H1051.2" stroke="#e6812f" stroke-width="1.6" fill="none"/>
<path d="M1135.5 271.0V324.6M1131.1 271.0H1139.9M1131.1 324.6H1139.9" stroke="#e6812f" stroke-width="1.6" fill="none"/>
<path d="M1224.2 259.1V312.7M1219.8 259.1H1228.7M1219.8 312.7H1228.7" stroke="#e6812f" stroke-width="1.6" fill="none"/>
<path d="M1313.0 275.5V328.0M1308.6 275.5H1317.4M1308.6 328.0H1317.4" stroke="#e6812f" stroke-width="1.6" fill="none"/>
<path d="M1401.7 262.1V339.4M1397.3 262.1H1406.1M1397.3 339.4H1406.1" stroke="#e6812f" stroke-width="1.6" fill="none"/>
<line x1="1008.3" x2="1017.5" y1="74.1" y2="74.1" stroke="#e6812f" stroke-width="3.4"/>
<line x1="1043.7" x2="1052.9" y1="74.1" y2="74.1" stroke="#e6812f" stroke-width="3.4"/>
<circle cx="1030.5" cy="74.1" r="8.75" fill="#fff" stroke="#e6812f" stroke-width="3.5"/>
<text transform="translate(1056.30 80.70) scale(1 1.03)" font-size="25" >pH 3</text>
<line x1="1116.8" x2="1126.0" y1="74.1" y2="74.1" stroke="#4fb56a" stroke-width="3.4"/>
<line x1="1152.2" x2="1161.4" y1="74.1" y2="74.1" stroke="#4fb56a" stroke-width="3.4"/>
<circle cx="1139.0" cy="74.1" r="8.75" fill="#fff" stroke="#4fb56a" stroke-width="3.5"/>
<text transform="translate(1165.00 80.70) scale(1 1.03)" font-size="25" >pH 7</text>
<line x1="1224.8" x2="1234.0" y1="74.1" y2="74.1" stroke="#bf4cf6" stroke-width="3.4"/>
<line x1="1260.2" x2="1269.4" y1="74.1" y2="74.1" stroke="#bf4cf6" stroke-width="3.4"/>
<circle cx="1247.0" cy="74.1" r="8.75" fill="#fff" stroke="#bf4cf6" stroke-width="3.5"/>
<text transform="translate(1273.50 80.70) scale(1 1.03)" font-size="25" >pH 10</text>
<line x1="999.9" x2="1007.1" y1="806.2" y2="806.2" stroke="#000" stroke-width="3"/>
<line x1="999.9" x2="1007.1" y1="734.3" y2="734.3" stroke="#000" stroke-width="3"/>
<line x1="999.9" x2="1007.1" y1="662.3" y2="662.3" stroke="#000" stroke-width="3"/>
<line x1="999.9" x2="1007.1" y1="590.4" y2="590.4" stroke="#000" stroke-width="3"/>
<line x1="999.9" x2="1003.5" y1="842.2" y2="842.2" stroke="#000" stroke-width="3"/>
<line x1="999.9" x2="1003.5" y1="770.3" y2="770.3" stroke="#000" stroke-width="3"/>
<line x1="999.9" x2="1003.5" y1="698.3" y2="698.3" stroke="#000" stroke-width="3"/>
<line x1="999.9" x2="1003.5" y1="626.3" y2="626.3" stroke="#000" stroke-width="3"/>
<line x1="999.9" x2="1003.5" y1="554.4" y2="554.4" stroke="#000" stroke-width="3"/>
<line x1="1044.6" x2="1044.6" y1="878.2" y2="871.0" stroke="#000" stroke-width="3"/>
<line x1="1134.0" x2="1134.0" y1="878.2" y2="871.0" stroke="#000" stroke-width="3"/>
<line x1="1223.4" x2="1223.4" y1="878.2" y2="871.0" stroke="#000" stroke-width="3"/>
<line x1="1312.8" x2="1312.8" y1="878.2" y2="871.0" stroke="#000" stroke-width="3"/>
<line x1="1402.2" x2="1402.2" y1="878.2" y2="871.0" stroke="#000" stroke-width="3"/>
<line x1="1089.3" x2="1089.3" y1="878.2" y2="874.6" stroke="#000" stroke-width="3"/>
<line x1="1178.7" x2="1178.7" y1="878.2" y2="874.6" stroke="#000" stroke-width="3"/>
<line x1="1268.1" x2="1268.1" y1="878.2" y2="874.6" stroke="#000" stroke-width="3"/>
<line x1="1357.5" x2="1357.5" y1="878.2" y2="874.6" stroke="#000" stroke-width="3"/>
<rect x="999.9" y="518.4" width="447.0" height="359.8" fill="none" stroke="#000" stroke-width="3.3"/>
<text transform="translate(991.00 886.80) scale(1 1.085)" font-size="28" text-anchor="end" >0</text>
<text transform="translate(991.00 814.84) scale(1 1.085)" font-size="28" text-anchor="end" >10</text>
<text transform="translate(991.00 742.88) scale(1 1.085)" font-size="28" text-anchor="end" >20</text>
<text transform="translate(991.00 670.92) scale(1 1.085)" font-size="28" text-anchor="end" >30</text>
<text transform="translate(991.00 598.96) scale(1 1.085)" font-size="28" text-anchor="end" >40</text>
<text transform="translate(991.00 527.00) scale(1 1.085)" font-size="28" text-anchor="end" >50</text>
<text transform="translate(1044.60 909.00) scale(1 1.085)" font-size="28" text-anchor="middle" >2.4</text>
<text transform="translate(1134.00 909.00) scale(1 1.085)" font-size="28" text-anchor="middle" >2.8</text>
<text transform="translate(1223.40 909.00) scale(1 1.085)" font-size="28" text-anchor="middle" >3.2</text>
<text transform="translate(1312.80 909.00) scale(1 1.085)" font-size="28" text-anchor="middle" >3.6</text>
<text transform="translate(1402.20 909.00) scale(1 1.085)" font-size="28" text-anchor="middle" >4.0</text>
<text transform="translate(1086.50 939.00) scale(1 1.085)" font-size="28" >Concentration / wt. %</text>
<text transform="translate(950.1 924.5) rotate(-90)" font-size="25.4"><tspan font-style="italic">H</tspan> value of corrosion products / µm·cm<tspan font-size="19.5" dy="-7.5">-2</tspan></text>
<line x1="1059.7" y1="636.1" x2="1118.9" y2="649.0" stroke="#bf4cf6" stroke-width="3"/>
<line x1="1149.4" y1="653.9" x2="1208.0" y2="660.0" stroke="#bf4cf6" stroke-width="3"/>
<line x1="1238.9" y1="661.1" x2="1297.3" y2="659.2" stroke="#bf4cf6" stroke-width="3"/>
<line x1="1328.1" y1="661.2" x2="1386.9" y2="670.7" stroke="#bf4cf6" stroke-width="3"/>
<circle cx="1044.6" cy="632.8" r="9.9" fill="#fff" stroke="#bf4cf6" stroke-width="4.2"/>
<circle cx="1134.0" cy="652.2" r="9.9" fill="#fff" stroke="#bf4cf6" stroke-width="4.2"/>
<circle cx="1223.4" cy="661.6" r="9.9" fill="#fff" stroke="#bf4cf6" stroke-width="4.2"/>
<circle cx="1312.8" cy="658.7" r="9.9" fill="#fff" stroke="#bf4cf6" stroke-width="4.2"/>
<circle cx="1402.2" cy="673.1" r="9.9" fill="#fff" stroke="#bf4cf6" stroke-width="4.2"/>
<path d="M1044.6 598.3V667.4M1040.2 598.3H1049.0M1040.2 667.4H1049.0" stroke="#bf4cf6" stroke-width="1.6" fill="none"/>
<path d="M1134.0 616.3V688.2M1129.6 616.3H1138.4M1129.6 688.2H1138.4" stroke="#bf4cf6" stroke-width="1.6" fill="none"/>
<path d="M1223.4 629.6V693.6M1219.0 629.6H1227.8M1219.0 693.6H1227.8" stroke="#bf4cf6" stroke-width="1.6" fill="none"/>
<path d="M1312.8 601.2V716.3M1308.4 601.2H1317.2M1308.4 716.3H1317.2" stroke="#bf4cf6" stroke-width="1.6" fill="none"/>
<path d="M1402.2 625.6V720.6M1397.8 625.6H1406.6M1397.8 720.6H1406.6" stroke="#bf4cf6" stroke-width="1.6" fill="none"/>
<line x1="1060.0" y1="699.7" x2="1118.6" y2="694.0" stroke="#4fb56a" stroke-width="3"/>
<line x1="1149.4" y1="693.9" x2="1208.0" y2="699.1" stroke="#4fb56a" stroke-width="3"/>
<line x1="1238.8" y1="698.5" x2="1297.4" y2="690.9" stroke="#4fb56a" stroke-width="3"/>
<line x1="1325.4" y1="679.9" x2="1389.6" y2="633.9" stroke="#4fb56a" stroke-width="3"/>
<circle cx="1044.6" cy="701.2" r="9.9" fill="#fff" stroke="#4fb56a" stroke-width="4.2"/>
<circle cx="1134.0" cy="692.5" r="9.9" fill="#fff" stroke="#4fb56a" stroke-width="4.2"/>
<circle cx="1223.4" cy="700.5" r="9.9" fill="#fff" stroke="#4fb56a" stroke-width="4.2"/>
<circle cx="1312.8" cy="688.9" r="9.9" fill="#fff" stroke="#4fb56a" stroke-width="4.2"/>
<circle cx="1402.2" cy="624.9" r="9.9" fill="#fff" stroke="#4fb56a" stroke-width="4.2"/>
<path d="M1044.6 671.7V730.7M1040.2 671.7H1049.0M1040.2 730.7H1049.0" stroke="#4fb56a" stroke-width="1.6" fill="none"/>
<path d="M1134.0 668.8V716.3M1129.6 668.8H1138.4M1129.6 716.3H1138.4" stroke="#4fb56a" stroke-width="1.6" fill="none"/>
<path d="M1223.4 656.6V744.4M1219.0 656.6H1227.8M1219.0 744.4H1227.8" stroke="#4fb56a" stroke-width="1.6" fill="none"/>
<path d="M1312.8 645.8V732.1M1308.4 645.8H1317.2M1308.4 732.1H1317.2" stroke="#4fb56a" stroke-width="1.6" fill="none"/>
<path d="M1402.2 559.4V690.4M1397.8 559.4H1406.6M1397.8 690.4H1406.6" stroke="#4fb56a" stroke-width="1.6" fill="none"/>
<line x1="1059.7" y1="744.5" x2="1118.9" y2="759.0" stroke="#e6812f" stroke-width="3"/>
<line x1="1148.8" y1="767.2" x2="1208.6" y2="785.2" stroke="#e6812f" stroke-width="3"/>
<line x1="1238.8" y1="791.7" x2="1297.4" y2="799.2" stroke="#e6812f" stroke-width="3"/>
<line x1="1327.3" y1="806.6" x2="1387.7" y2="828.9" stroke="#e6812f" stroke-width="3"/>
<circle cx="1044.6" cy="740.8" r="9.9" fill="#fff" stroke="#e6812f" stroke-width="4.2"/>
<circle cx="1134.0" cy="762.7" r="9.9" fill="#fff" stroke="#e6812f" stroke-width="4.2"/>
<circle cx="1223.4" cy="789.7" r="9.9" fill="#fff" stroke="#e6812f" stroke-width="4.2"/>
<circle cx="1312.8" cy="801.2" r="9.9" fill="#fff" stroke="#e6812f" stroke-width="4.2"/>
<circle cx="1402.2" cy="834.3" r="9.9" fill="#fff" stroke="#e6812f" stroke-width="4.2"/>
<path d="M1044.6 733.6V748.0M1040.2 733.6H1049.0M1040.2 748.0H1049.0" stroke="#e6812f" stroke-width="1.6" fill="none"/>
<path d="M1134.0 748.3V777.1M1129.6 748.3H1138.4M1129.6 777.1H1138.4" stroke="#e6812f" stroke-width="1.6" fill="none"/>
<path d="M1223.4 783.2V796.2M1219.0 783.2H1227.8M1219.0 796.2H1227.8" stroke="#e6812f" stroke-width="1.6" fill="none"/>
<path d="M1312.8 779.6V822.8M1308.4 779.6H1317.2M1308.4 822.8H1317.2" stroke="#e6812f" stroke-width="1.6" fill="none"/>
<path d="M1402.2 827.1V841.5M1397.8 827.1H1406.6M1397.8 841.5H1406.6" stroke="#e6812f" stroke-width="1.6" fill="none"/>
<line x1="1007.6" x2="1016.8" y1="541.1" y2="541.1" stroke="#e6812f" stroke-width="3.4"/>
<line x1="1043.0" x2="1052.2" y1="541.1" y2="541.1" stroke="#e6812f" stroke-width="3.4"/>
<circle cx="1029.8" cy="541.1" r="8.75" fill="#fff" stroke="#e6812f" stroke-width="3.5"/>
<text transform="translate(1056.30 547.00) scale(1 1.03)" font-size="25" >pH 3</text>
<line x1="1119.3" x2="1128.5" y1="540.3" y2="540.3" stroke="#4fb56a" stroke-width="3.4"/>
<line x1="1154.7" x2="1163.9" y1="540.3" y2="540.3" stroke="#4fb56a" stroke-width="3.4"/>
<circle cx="1141.5" cy="540.3" r="8.75" fill="#fff" stroke="#4fb56a" stroke-width="3.5"/>
<text transform="translate(1168.00 547.00) scale(1 1.03)" font-size="25" >pH 7</text>
<line x1="1232.3" x2="1241.5" y1="542.3" y2="542.3" stroke="#bf4cf6" stroke-width="3.4"/>
<line x1="1267.7" x2="1276.9" y1="542.3" y2="542.3" stroke="#bf4cf6" stroke-width="3.4"/>
<circle cx="1254.5" cy="542.3" r="8.75" fill="#fff" stroke="#bf4cf6" stroke-width="3.5"/>
<text transform="translate(1281.00 547.80) scale(1 1.03)" font-size="25" >pH 10</text>
</svg></body></html>
